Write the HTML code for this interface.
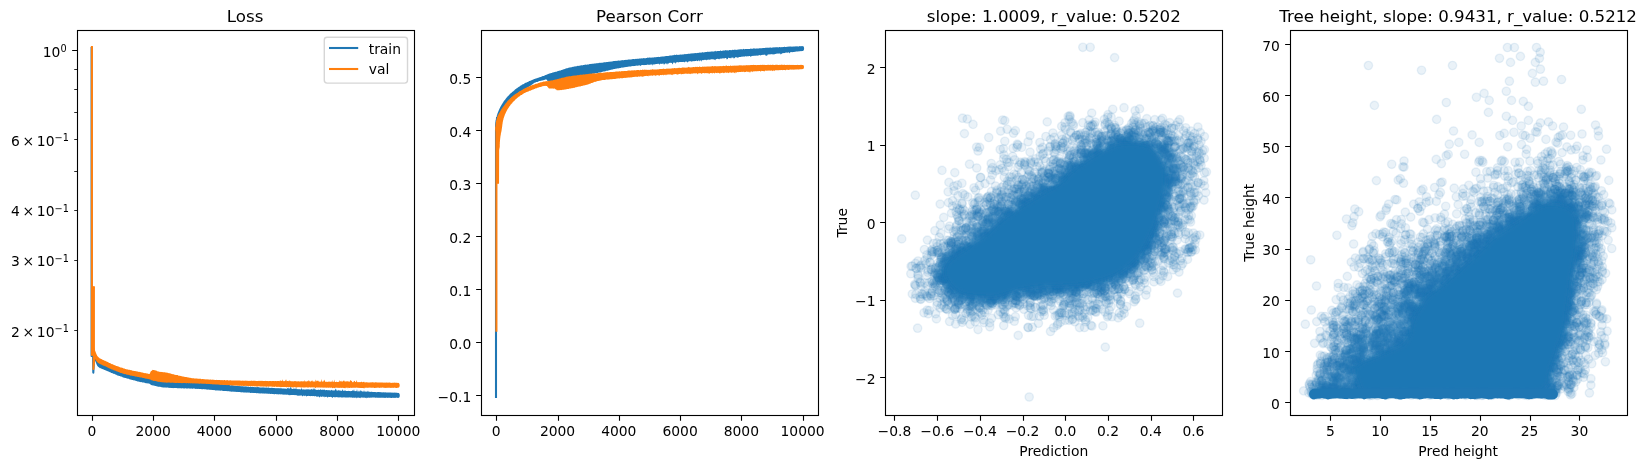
<!DOCTYPE html>
<html><head><meta charset="utf-8"><title>Training curves</title>
<style>html,body{margin:0;padding:0;background:#fff}svg{display:block;will-change:transform}text{font-family:"DejaVu Sans","Liberation Sans",sans-serif;fill:#000}</style>
</head><body>
<svg width="1647" height="468" viewBox="0 0 1647 468">
<rect width="1647" height="468" fill="#fff"/>
<defs>
<clipPath id="c0"><rect x="76.6" y="30.3" width="337" height="385"/></clipPath>
<clipPath id="c1"><rect x="480.9" y="30.3" width="337" height="385"/></clipPath>
<clipPath id="c2"><rect x="885.3" y="30.3" width="337" height="385"/></clipPath>
<clipPath id="c3"><rect x="1289.6" y="30.3" width="337" height="385"/></clipPath>
</defs>
<g clip-path="url(#c0)">
<path d="M94.2,349.8 94.3,350.2 94.5,350.8 94.7,351.5 94.8,352 95,352.3 95.2,353.1 95.4,353.3 95.6,353.8 95.8,354.4 96,354.9 96.2,355.4 96.4,355.8 96.7,356.2 96.9,356.6 97.1,356.9 97.4,357.1 97.7,357.6 97.9,357.9 98.2,358.1 98.5,358.7 98.8,359 99.1,359.1 99.4,359.6 99.8,359.9 100.1,360 100.5,360.3 100.8,360.4 101.2,360.8 101.6,361.1 102,361.3 102.4,361.7 102.8,362 103.2,362.2 103.6,362.3 104.1,362.7 104.5,362.8 105,363.2 105.4,363.1 105.9,363.6 106.3,363.8 106.8,363.8 107.3,364.1 107.8,364.2 108.3,364.5 108.7,364.7 109.2,365.1 109.7,365.2 110.2,365.4 110.7,365.4 111.3,365.8 111.8,365.9 112.3,366.3 112.8,366.4 113.3,366.6 113.8,366.8 114.3,366.8 114.8,367.1 115.4,367.1 115.9,367.4 116.4,367.5 116.9,367.7 117.4,367.8 117.9,368.2 118.4,368.3 119,368.5 119.5,368.6 120,368.9 120.5,368.7 121,369.1 121.4,369.1 121.9,369.4 122.4,369.4 122.9,369.6 123.4,369.9 123.8,369.8 124.3,369.9 124.8,370.1 125.3,370.3 125.7,370.6 126.2,370.8 126.7,370.6 127.2,370.9 127.6,371.2 128.1,371.1 128.6,371.3 129.1,371.5 129.6,371.6 130,371.8 130.5,372 131,372.2 131.5,372 132,372.3 132.5,372.4 133,372.6 133.4,372.5 133.9,372.9 134.4,372.9 134.9,373.1 135.4,373.2 135.9,373 136.4,373.3 136.9,373.4 137.4,373.5 137.9,373.5 138.3,373.8 138.8,373.8 139.3,373.9 139.8,374.1 140.3,374.2 140.8,374.2 141.3,374.2 141.8,374.6 142.3,374.4 142.8,374.8 143.3,374.7 143.8,374.7 144.3,375.1 144.7,375 145.2,375 145.7,375.4 146.2,375.2 146.7,375.3 147.2,375.4 147.7,375.4 148.2,375.7 148.7,375.8 149.2,375.8 149.7,376 150.2,376 150.7,375.8 151.1,376 151.6,376.2 152.1,376.3 152.6,376.1 153.1,376.4 153.6,376.2 154.1,376.5 154.6,376.5 155.1,376.5 155.6,376.6 156.1,376.7 156.6,376.8 157.1,376.7 157.6,377 158.1,376.9 158.6,377.2 159.1,377.1 159.6,377.2 160.1,377.1 160.6,377.4 161.1,377.3 161.6,377.4 162.1,377.4 162.6,377.5 163.1,377.4 163.6,377.7 164.1,377.8 164.6,377.9 165,378 165.5,378 166,377.8 166.5,377.9 167,378.2 167.5,378.1 168,378.2 168.5,378.2 169,378.2 169.5,378.4 170,378.2 170.5,378.4 171,378.4 171.5,378.5 172,378.7 172.5,378.8 173,378.7 173.5,378.6 174,378.7 174.5,378.7 175,379 175.5,378.8 176,378.9 176.5,378.9 177,379.1 177.5,379 178,379.3 178.5,379.4 179,379.4 179.5,379.4 180,379.4 180.5,379.5 181,379.4 181.5,379.6 182,379.5 182.5,379.7 183,379.6 183.5,379.8 184,379.8 184.5,379.6 184.9,379.8 185.4,379.7 185.9,379.8 186.4,379.9 186.9,380.1 187.4,380 187.9,380.2 188.4,380 188.9,380 189.4,380.1 189.9,380.4 190.4,380.4 190.9,380.4 191.4,380.6 191.9,380.4 192.4,380.4 192.9,380.6 193.4,380.5 193.9,380.6 194.4,380.9 194.9,380.7 195.4,380.7 195.9,381 196.4,380.9 196.9,381 197.4,381 197.9,381.3 198.4,381.1 198.9,381.2 199.4,381.2 199.9,381.2 200.4,381.5 200.9,381.4 201.4,381.4 201.9,381.4 202.4,381.8 202.8,381.9 203.3,381.7 203.8,381.9 204.3,381.9 204.8,381.8 205.3,382.1 205.8,382.2 206.3,382.2 206.8,382.2 207.3,382.4 207.8,382.4 208.3,382.5 208.8,382.4 209.3,382.4 209.8,382.7 210.3,382.7 210.8,382.7 211.3,382.9 211.8,383 212.3,383 212.8,383 213.3,383.2 213.8,383 214.3,383.2 214.8,383.3 215.3,383.5 215.7,383.3 216.2,383.6 216.7,383.7 217.2,383.7 217.7,383.8 218.2,383.6 218.7,383.9 219.2,383.9 219.7,383.8 220.2,384 220.7,384.2 221.2,384.1 221.7,384.1 222.2,384.3 222.7,384.2 223.2,384.5 223.7,384.4 224.2,384.4 224.7,384.4 225.2,384.6 225.7,384.7 226.2,384.9 226.7,384.8 227.2,384.8 227.7,385 228.2,385.1 228.6,385 229.1,385 229.6,385 230.1,385.3 230.6,385.4 231.1,385.2 231.6,385.3 232.1,385.3 232.6,385.3 233.1,385.4 233.6,385.4 234.1,385.5 234.6,385.7 235.1,385.7 235.6,385.9 236.1,385.7 236.6,385.8 237.1,385.8 237.6,386 238.1,386 238.6,386 239.1,386.2 239.6,386 240.1,386.1 240.6,386.2 241.1,386.2 241.6,386.2 242.1,386.3 242.6,386.2 243.1,386.2 243.6,386.4 244.1,386.5 244.6,386.4 245.1,386.3 245.6,386.6 246.1,386.5 246.6,386.5 247.1,386.5 247.6,386.8 248.1,386.8 248.6,386.5 249.1,386.9 249.6,386.9 250.1,386.8 250.6,386.8 251.1,386.8 251.6,387 252.1,386.8 252.6,387 253.1,386.9 253.6,387.1 254.1,387 254.6,387.2 255.1,387.1 255.6,387.2 256.1,387 256.6,387.2 257,387.3 257.5,387 258,387.1 258.5,387.1 259,387.4 259.5,387.3 260,387.4 260.5,387.5 261,387.5 261.5,387.4 262,387.6 262.5,387.6 263,387.3 263.5,387.5 264,387.6 264.5,387.5 265,387.7 265.5,387.6 266,387.7 266.5,387.6 267,387.6 267.5,387.7 268,387.8 268.5,387.6 269,387.6 269.5,387.9 270,388 270.5,388 271,387.7 271.5,387.8 272,388 272.5,387.8 273,388.1 273.5,388 274,388 274.5,387.9 275,388.3 275.5,388.2 276,388.1 276.5,388.3 277,388.3 277.5,388.2 278,388.1 278.5,388.2 279,388.2 279.5,388.2 280,388.3 280.5,388.3 281,388.3 281.5,388.3 282,388.5 282.5,388.6 283,388.4 283.5,388.6 284,388.4 284.5,388.5 285,388.7 285.5,388.5 286,388.8 286.5,388.7 287,388.8 287.5,388 288,387.8 288.5,388.7 289,387.5 289.5,388.7 290,388.8 290.5,386.8 291,387.3 291.5,388.5 292,388.9 292.5,388.9 293,388.8 293.5,389 294,387.6 294.5,389.1 295,389 295.5,389 296,387.1 296.5,389 297,389.3 297.5,389 298,389.2 298.5,389.2 299,389.1 299.5,389.2 300,389.2 300.5,389.4 301,389.3 301.5,387.8 302,389.2 302.5,389.5 303,389.4 303.5,389.3 304,389.4 304.5,389.4 305,389.4 305.5,389.5 306,389.6 306.5,389.3 307,389.6 307.5,389.5 308,388.8 308.5,389.5 309,389.6 309.5,389.5 310,389.6 310.5,389.6 311,389.5 311.5,388.8 312,389.6 312.5,389.7 313,388.6 313.5,389.8 314,387.5 314.5,389.8 315,388.5 315.5,389.7 316,389.8 316.5,389.9 317,389.7 317.5,389.9 318,389.8 318.5,389.8 319,389.4 319.5,389.9 320,390.1 320.5,388.7 321,389.9 321.5,390 322,389.3 322.5,390 323,389.4 323.5,390.1 324,389.6 324.5,389.5 325,390.2 325.5,390.2 326,389.9 326.5,390 327,390 327.5,390.3 328,390.3 328.5,390.2 329,390 329.5,390.2 330,390.4 330.5,390.4 331,390.2 331.5,389.7 332,390.3 332.5,390.6 333,390.3 333.5,390.5 334,390.5 334.5,390.2 335,390.5 335.5,388.7 336,388.7 336.5,390.6 337,390.5 337.5,390.6 338,390.7 338.5,390.2 339,389.7 339.5,390.7 340,390.6 340.5,390.6 341,390.9 341.5,390.7 342,390.7 342.5,388.9 343,390.5 343.5,390.8 344,390.9 344.5,390.8 345,390 345.5,390.8 346,391 346.5,390.9 347,390.9 347.5,390.9 348,391.1 348.5,390.8 349,391.1 349.5,391.1 350,391.1 350.5,391.2 351,391.1 351.5,391 352,391.1 352.5,390.6 353,390.1 353.5,391.3 354,389 354.5,391.2 355,391.1 355.5,391.2 356,391.1 356.5,391.2 357,389.1 357.5,391.4 358,391.4 358.5,391.4 359,390.2 359.5,391.5 360,391.5 360.5,389.8 361,391.6 361.5,390.5 362,391.6 362.5,391.6 363,391.4 363.5,391.7 364,389.9 364.5,391.7 365,391.6 365.5,391.8 366,391.3 366.5,391.8 367,391.8 367.5,391.6 368,390.5 368.5,391.7 369,391.8 369.5,391.8 370,391.7 370.5,392 371,391.7 371.5,391.7 372,391.8 372.5,392.1 373,391.9 373.5,391.9 374,391.9 374.5,392.1 375,391.9 375.5,391.9 376,392.2 376.5,392.2 377,392.3 377.5,392 377.9,392 378.4,392 378.9,392.1 379.4,392.1 379.9,392.2 380.4,392.2 380.9,392.1 381.4,392.2 381.9,392.4 382.4,392.3 382.9,392.5 383.4,392.3 383.9,392.3 384.4,392.4 384.9,392.3 385.4,392.3 385.9,392.5 386.4,392.6 386.9,392.6 387.4,392.6 387.9,392.6 388.4,392.5 388.9,392.4 389.4,392.6 389.9,392.4 390.4,392.5 390.9,392.5 391.4,392.6 391.9,392.8 392.4,392.5 392.9,392.8 393.4,392.8 393.9,392.6 394.4,392.6 394.9,392.8 395.4,392.8 395.9,392.6 396.4,392.8 396.9,392.7 397.4,392.9 397.9,392.7 398.4,393 398.9,393.1 399.4,393.7 399.7,394.5 399.8,395.4 399.7,396.4 399.4,397.2 398.9,397.7 398.4,397.9 398.3,397.7 397.8,397.9 397.3,397.8 396.8,397.7 396.3,397.6 395.8,397.9 395.3,397.8 394.8,397.7 394.3,397.9 393.8,397.8 393.3,397.9 392.8,397.6 392.3,397.9 391.8,397.9 391.3,397.9 390.8,397.9 390.3,397.8 389.8,397.8 389.3,397.7 388.8,397.8 388.3,397.8 387.8,397.9 387.3,397.8 386.8,397.8 386.3,397.6 385.8,397.9 385.3,397.8 384.8,397.9 384.3,397.8 383.8,397.7 383.3,397.7 382.8,397.9 382.3,397.6 381.8,397.8 381.3,397.7 380.8,397.6 380.3,397.9 379.8,397.7 379.3,397.7 378.8,397.8 378.3,397.7 377.8,397.8 377.3,397.7 376.8,397.6 376.3,397.7 375.8,397.7 375.3,397.8 374.8,397.6 374.3,397.6 373.8,397.6 373.3,397.5 372.8,397.6 372.3,397.6 371.8,397.6 371.3,397.8 370.8,397.8 370.3,397.6 369.8,397.8 369.3,397.7 368.8,397.8 368.3,397.5 367.8,397.7 367.3,397.8 366.8,398.6 366.3,397.6 365.8,397.7 365.3,398.1 364.8,397.6 364.3,397.8 363.8,397.5 363.3,397.8 362.8,397.8 362.3,397.5 361.8,397.6 361.3,397.6 360.8,397.6 360.3,398.2 359.8,398.1 359.3,397.7 358.8,397.5 358.3,397.7 357.8,397.6 357.3,397.7 356.8,398.5 356.3,397.5 355.8,397.7 355.3,397.5 354.8,397.8 354.3,397.8 353.8,397.7 353.3,397.6 352.8,397.9 352.3,397.4 351.8,397.7 351.3,397.3 350.8,397.6 350.3,397.6 349.8,397.5 349.3,397.3 348.8,397.4 348.3,397.5 347.8,397.4 347.3,397.6 346.8,397.5 346.3,397.6 345.8,397.5 345.3,397.5 344.8,397.5 344.3,397.3 343.8,397.5 343.3,397.3 342.8,397.5 342.3,397.4 341.8,397.5 341.3,397.5 340.8,397.3 340.3,397.2 339.8,397.5 339.3,397.3 338.8,397.2 338.3,397.4 337.8,397.4 337.3,397.1 336.8,397.3 336.3,397.1 335.8,397.1 335.3,397.6 334.8,397.2 334.3,397.3 333.8,397.1 333.3,397 332.8,397.5 332.3,398 331.8,397.3 331.3,397.1 330.8,396.9 330.3,396.8 329.8,397.1 329.3,396.9 328.8,396.8 328.3,397.1 327.8,397.4 327.3,397.4 326.8,396.7 326.3,396.7 325.8,396.9 325.3,396.7 324.8,397.4 324.3,396.6 323.8,396.7 323.3,396.8 322.8,396.5 322.3,396.5 321.8,397 321.3,396.7 320.8,396.5 320.3,396.5 319.8,397.3 319.3,397.4 318.8,396.4 318.3,396.5 317.8,396.5 317.3,396.7 316.8,396.7 316.3,396.4 315.8,396.1 315.3,396.2 314.9,396 314.4,396.4 313.9,396.1 313.4,396 312.9,396.3 312.4,395.9 311.9,396 311.4,395.9 310.9,395.9 310.4,396.2 309.9,396.1 309.4,396.1 308.9,396 308.4,395.8 307.9,396.1 307.4,396 306.9,396 306.4,396.7 305.9,395.7 305.4,395.8 304.9,395.6 304.4,396.2 303.9,395.7 303.4,395.5 302.9,396 302.4,396.4 301.9,395.4 301.4,395.4 300.9,395.4 300.4,395.5 299.9,395.7 299.4,395.5 298.9,395.8 298.4,395.7 297.9,395.2 297.4,395.9 296.9,395.3 296.4,395.2 295.9,395.3 295.4,395.1 294.9,395.2 294.4,395 293.9,395 293.4,395 292.9,394.9 292.4,395 291.9,395 291.4,394.9 290.9,394.9 290.4,394.9 289.9,395.6 289.4,395 288.9,394.8 288.4,395.3 287.9,394.6 287.4,394.7 286.9,394.8 286.4,394.8 285.9,394.6 285.4,394.8 284.9,394.5 284.4,394.7 283.9,394.5 283.4,394.7 282.9,394.4 282.4,394.6 281.9,394.4 281.4,394.3 280.9,394.3 280.4,394.6 279.9,394.3 279.4,394.3 278.9,394.2 278.4,394.4 277.9,394.3 277.4,394.2 276.9,394.3 276.4,394.2 275.9,394.1 275.4,394 274.9,394.2 274.4,394.2 273.9,394.2 273.4,394.1 272.9,393.9 272.4,394 271.9,393.9 271.4,393.8 270.9,394.1 270.4,394 269.9,393.7 269.4,393.8 268.9,393.8 268.4,393.7 267.9,393.9 267.4,393.6 266.9,393.6 266.4,393.7 265.9,393.5 265.4,393.6 264.9,393.7 264.4,393.5 263.9,393.5 263.4,393.4 262.9,393.5 262.4,393.5 261.9,393.4 261.4,393.3 260.9,393.4 260.4,393.5 259.9,393.2 259.4,393.4 258.9,393.4 258.4,393.3 257.9,393.1 257.4,393.3 256.9,393.2 256.4,393.2 255.9,393.1 255.4,393.1 254.9,393 254.4,393 253.9,392.9 253.4,392.9 252.9,392.8 252.4,393 251.9,392.9 251.4,392.7 250.9,392.9 250.4,392.9 249.9,392.8 249.4,392.6 248.9,392.7 248.4,392.6 247.9,392.6 247.4,392.5 246.9,392.7 246.4,392.5 245.9,392.6 245.4,392.6 244.9,392.6 244.4,392.6 243.9,392.5 243.4,392.5 242.9,392.3 242.4,392.3 241.9,392.4 241.4,392.2 241,392.2 240.5,392.2 240,392.1 239.5,392.1 239,392.1 238.5,392 238,392 237.5,392 237,391.8 236.5,391.9 236,391.9 235.5,391.8 235,391.7 234.5,391.8 234,391.8 233.5,391.8 233,391.6 232.5,391.7 232,391.6 231.5,391.7 231,391.7 230.5,391.4 230,391.3 229.5,391.5 229,391.3 228.5,391.3 228,391.1 227.5,391.2 227,391.3 226.5,391 226,391.1 225.5,391 225,391.1 224.5,391.1 224,391.1 223.5,391.1 223,391 222.5,390.8 222,390.7 221.5,390.6 221,390.6 220.5,390.8 220,390.7 219.5,390.5 219,390.5 218.5,390.4 218,390.4 217.5,390.5 217,390.3 216.5,390.4 216,390.4 215.5,390.4 215,390.2 214.5,390.1 214,390.2 213.5,389.9 213,390 212.5,390.1 212,390.1 211.5,389.8 211,389.9 210.5,389.7 210,389.8 209.5,389.7 209,389.8 208.5,389.5 208.1,389.4 207.6,389.7 207.1,389.5 206.6,389.4 206.1,389.4 205.6,389.3 205.1,389.3 204.6,389.2 204.1,389.2 203.6,389.1 203.1,389.3 202.6,389.3 202.1,389.2 201.6,389.3 201.1,389 200.6,389.1 200.1,389.1 199.6,389.1 199.1,389 198.6,388.8 198.1,389 197.6,389 197.1,388.8 196.6,388.7 196.1,389 195.6,388.8 195.1,388.9 194.6,388.6 194.1,388.5 193.6,388.6 193.1,388.6 192.6,388.8 192.1,388.7 191.6,388.6 191.1,388.5 190.6,388.6 190.1,388.7 189.6,388.6 189.1,388.4 188.6,388.3 188.1,388.5 187.6,388.6 187.1,388.5 186.6,388.4 186.1,388.4 185.6,388.3 185.1,388.3 184.6,388.5 184.1,388.4 183.6,388.4 183.1,388.3 182.6,388.2 182.1,388.2 181.6,388.4 181.1,388.2 180.6,388.2 180.1,388.2 179.6,388.2 179.1,388.2 178.6,388.3 178.1,388.3 177.6,388.3 177.1,388.3 176.6,388.1 176.1,388 175.6,388 175.1,388 174.6,388.1 174.1,387.9 173.6,388.1 173.1,388.2 172.6,388.1 172.1,388 171.6,388 171.1,387.9 170.6,388 170.1,387.8 169.6,387.9 169.1,387.7 168.6,387.8 168.1,387.8 167.6,387.6 167.1,387.6 166.6,387.6 166.1,387.8 165.6,387.5 165.1,387.5 164.6,387.6 164.1,387.4 163.6,387.5 163.1,387.6 162.6,387.3 162.1,387.4 161.6,387.2 161.1,387.1 160.6,386.9 160.2,386.8 159.7,386.8 159.2,386.8 158.7,386.7 158.2,386.7 157.7,386.7 157.2,386.3 156.7,386.4 156.2,386.1 155.7,386 155.2,386.1 154.7,385.8 154.3,385.7 153.8,385.5 153.3,385.5 152.8,385.4 152.3,385.3 151.8,385.3 151.4,385 150.9,384.9 150.5,384.6 150.1,384 149.7,384 149.2,383.6 148.8,383.4 148.3,383.4 147.8,383.3 147.3,383.5 146.8,383.3 146.3,383.2 145.8,383.2 145.3,382.9 144.8,382.8 144.3,382.8 143.8,382.5 143.4,382.5 142.9,382.4 142.4,382.4 141.9,382.3 141.4,382.1 140.9,382.2 140.4,382 139.9,381.9 139.4,381.8 138.9,381.7 138.5,381.4 138,381.4 137.5,381.4 137,381.3 136.5,381.1 136,381 135.5,380.7 135,380.6 134.6,380.4 134.1,380.3 133.6,380.4 133.1,380.1 132.6,379.9 132.1,379.9 131.7,379.8 131.2,379.7 130.7,379.4 130.2,379.5 129.7,379.2 129.2,379.2 128.8,378.8 128.3,378.8 127.8,378.6 127.3,378.7 126.8,378.4 126.4,378.2 125.9,378 125.4,378 124.9,377.9 124.5,377.8 124,377.7 123.5,377.4 123,377.4 122.6,377.2 122.1,376.8 121.6,376.6 121.1,376.7 120.7,376.6 120.2,376.2 119.7,376.1 119.3,376 118.8,375.7 118.3,375.7 117.8,375.4 117.4,375.4 116.9,375.2 116.4,374.8 116,374.7 115.5,374.4 115,374.3 114.6,374.1 114.1,373.8 113.6,373.9 113.2,373.5 112.7,373.4 112.3,373.1 111.8,373 111.3,373 110.9,372.7 110.4,372.3 109.9,372.2 109.5,371.9 109,371.8 108.6,371.5 108.1,371.5 107.7,371.2 107.2,371.1 106.7,370.8 106.3,370.7 105.8,370.4 105.4,370.3 104.9,370.1 104.4,369.9 103.9,369.6 103.4,369.4 102.9,369.2 102.4,369 101.9,368.9 101.4,368.6 100.9,368.5 100.5,368.1 100,368.2 99.6,367.9 99.2,367.6 98.8,367.3 98.4,366.9 98.1,366.7 97.8,366.5 97.5,366.1 97.2,365.8 97,365.2 96.8,364.8 96.6,364.4 96.4,363.9 96.2,363.5 96,362.8 95.8,362.5 95.6,361.9 95.4,361.5 95.2,361.1 95,360.6 94.9,359.9 94.7,359.5 94.5,359.2 94.4,358.7 94.2,358.1Z" fill="#1f77b4"/>
<path d="M91.6,48 91.6,356 92.9,340 93.3,372.6 94.3,354" fill="none" stroke="#1f77b4" stroke-width="2.08" stroke-linejoin="round" stroke-linecap="square"/>
<path d="M94,346.9 94.1,347.2 94.2,347.8 94.4,348.1 94.5,348.9 94.7,349.4 94.8,349.6 95,350.2 95.1,350.7 95.3,351 95.5,351.7 95.6,351.9 95.8,352.6 96,353.1 96.2,353.5 96.4,353.9 96.6,354.4 96.8,354.7 97.1,355.5 97.3,355.9 97.6,356.3 97.8,356.5 98.1,356.8 98.5,357.2 98.8,357.5 99.2,357.7 99.6,358.2 100,358.4 100.5,358.4 100.9,358.9 101.4,358.9 101.8,359.3 102.3,359.6 102.8,359.9 103.3,360.1 103.8,360.3 104.2,360.4 104.7,360.7 105.2,360.8 105.6,361.1 106.1,361.5 106.5,361.6 107,361.6 107.4,362.1 107.9,362.1 108.3,362.4 108.8,362.5 109.2,362.9 109.7,363.1 110.1,363.2 110.6,363.3 111,363.7 111.5,364 112,364.2 112.4,364.1 112.9,364.5 113.3,364.8 113.8,364.8 114.3,364.9 114.7,365.2 115.2,365.5 115.7,365.6 116.1,365.9 116.6,366.1 117.1,366 117.5,366.3 118,366.6 118.5,366.5 119,366.7 119.4,366.9 119.9,367.3 120.4,367.4 120.9,367.5 121.3,367.6 121.8,367.7 122.3,367.8 122.7,368 123.2,368.3 123.7,368.4 124.2,368.6 124.6,368.6 125.1,368.9 125.6,369 126.1,369.2 126.6,369.2 127,369.4 127.5,369.3 128,369.7 128.5,369.8 129,369.7 129.5,369.8 130,369.9 130.4,370 130.9,370.2 131.4,370.3 131.9,370.3 132.4,370.7 132.9,370.7 133.4,370.7 133.9,371 134.4,370.9 134.8,371.1 135.3,371.2 135.8,371.1 136.3,371.3 136.8,371.5 137.3,371.6 137.8,371.5 138.3,371.7 138.8,371.9 139.3,371.8 139.8,372 140.3,372 140.8,372.2 141.2,372.2 141.7,372.4 142.2,372.5 142.7,372.5 143.2,372.9 143.7,372.8 144.2,372.9 144.7,373.2 145.2,373 145.7,373.2 146.2,373.2 146.6,373.5 147.2,373.6 147.7,373.6 148.2,373.9 148.7,373.8 149.1,374 149.5,374 149.7,373.7 150,373.3 150.2,372.6 150.4,372.2 150.7,371.5 151.1,371.1 151.5,371 151.9,370.6 152.3,370.3 152.7,369.8 153.1,370.1 153.6,369.9 154,370.1 154.5,370.2 155,370.3 155.4,370.3 155.9,370.7 156.4,370.6 156.9,370.9 157.4,371.2 157.9,371.4 158.4,371.4 158.9,371.5 159.4,371.8 159.9,371.9 160.4,371.9 160.9,371.8 161.4,372 161.9,372 162.4,372.1 162.9,372.2 163.4,372.2 163.9,372.2 164.4,372.3 164.9,372.3 165.4,372.6 165.9,372.6 166.4,372.5 166.8,372.8 167.3,372.7 167.8,372.8 168.3,373 168.8,373.3 169.3,373.2 169.8,373.3 170.3,373.6 170.7,373.5 171.2,373.7 171.7,374 172.2,374.1 172.7,374.2 173.2,374.2 173.7,374.2 174.1,374.6 174.6,374.7 175.1,374.7 175.6,374.9 176.1,375 176.6,374.9 177.1,375 177.6,375.1 178,375.3 178.5,375.7 179,375.7 179.5,375.7 180,375.7 180.5,376.1 181,376 181.5,376.2 182,376.3 182.4,376.4 182.9,376.5 183.4,376.6 183.9,376.8 184.4,376.7 184.9,376.9 185.4,376.9 185.9,377 186.4,377 186.9,377.3 187.4,377.2 187.9,377.5 188.3,377.5 188.8,377.5 189.3,377.7 189.8,377.8 190.3,377.8 190.8,378.1 191.3,378 191.8,378.3 192.3,378.3 192.8,378.2 193.3,378.2 193.8,378.2 194.3,378.5 194.8,378.6 195.3,378.5 195.8,378.6 196.3,378.6 196.7,378.5 197.2,378.6 197.7,378.7 198.2,378.7 198.7,378.8 199.2,378.8 199.7,378.7 200.2,378.8 200.7,378.8 201.2,378.9 201.7,379.2 202.2,379.1 202.7,379 203.2,379.2 203.7,379.1 204.2,379.3 204.7,379.3 205.2,379.3 205.7,379.4 206.2,379.3 206.7,379.4 207.2,379.2 207.7,379.5 208.2,379.5 208.7,379.4 209.2,379.5 209.7,379.7 210.2,379.6 210.7,379.5 211.2,379.7 211.7,379.7 212.2,379.6 212.7,379.7 213.2,379.8 213.7,379.7 214.2,379.7 214.7,379.9 215.2,379.9 215.7,379.9 216.2,379.7 216.7,380 217.2,380 217.7,380 218.2,379.9 218.7,379.9 219.2,380.1 219.7,379.9 220.2,380 220.7,380.2 221.2,379.9 221.7,380.2 222.2,380 222.7,380.3 223.2,380.2 223.7,380.2 224.2,380.1 224.7,380.1 225.2,380.2 225.7,380.4 226.2,380.3 226.7,380.3 227.2,380.1 227.7,380.2 228.2,380.4 228.7,380.4 229.2,380.3 229.7,380.5 230.2,380.3 230.7,380.3 231.2,380.4 231.7,380.4 232.2,380.5 232.7,380.6 233.2,380.5 233.7,380.6 234.2,380.6 234.7,380.5 235.2,380.4 235.7,380.6 236.2,380.5 236.7,380.4 237.2,380.5 237.7,380.4 238.2,380.5 238.7,380.6 239.2,380.6 239.7,380.6 240.2,380.6 240.7,380.7 241.2,380.7 241.7,380.8 242.2,380.7 242.7,380.6 243.2,380.7 243.7,380.8 244.2,380.6 244.7,380.9 245.2,380.6 245.7,380.7 246.2,380.7 246.7,380.8 247.2,380.6 247.7,380.9 248.2,380.9 248.7,380.8 249.2,380.9 249.7,380.8 250.2,380.8 250.7,381 251.2,380.6 251.7,380.8 252.2,381 252.7,380.7 253.2,380.8 253.7,380.8 254.2,380.8 254.7,380.7 255.2,381 255.7,380.7 256.2,380.9 256.7,381 257.2,380.9 257.7,380.9 258.2,380.8 258.7,380.9 259.2,381.1 259.7,380.8 260.2,380.9 260.7,380.8 261.2,381.1 261.7,380.8 262.2,380.8 262.7,381.1 263.2,381 263.7,381.1 264.2,380.9 264.7,381.1 265.2,380.8 265.7,381.1 266.2,380.9 266.7,380.9 267.2,381.1 267.7,381.1 268.2,380.9 268.7,381.2 269.2,381.1 269.7,381.1 270.2,381 270.7,381.1 271.2,381.2 271.7,381 272.2,381 272.7,381 273.2,381 273.7,381.1 274.2,381.2 274.7,381 275.2,381 275.7,381.1 276.2,380.9 276.7,381.2 277.2,381 277.7,381 278.2,381 278.7,381 279.2,381.2 279.7,381 280.2,380.1 280.7,381.1 281.2,380.8 281.7,381.1 282.2,381.1 282.7,379.2 283.2,381.1 283.7,381.2 284.2,381.2 284.7,381.1 285.2,381 285.7,379.7 286.2,379.6 286.7,381.3 287.2,380.9 287.7,381.1 288.2,381.3 288.7,381.1 289.2,380.1 289.7,381.3 290.2,380.7 290.7,381.3 291.2,381.3 291.7,381.3 292.2,381.2 292.7,381.3 293.2,381.4 293.7,381.3 294.2,381.1 294.7,381.3 295.2,381.3 295.7,380.9 296.2,381.4 296.7,381.3 297.2,381.2 297.7,381.4 298.2,381.2 298.7,381.3 299.2,381.5 299.7,381.4 300.2,381.3 300.7,381.4 301.2,381.3 301.7,381.2 302.2,381.3 302.7,381.4 303.2,381.3 303.7,381.4 304.2,380.1 304.7,381.5 305.2,381.4 305.7,381.2 306.2,381.4 306.7,381.5 307.2,381 307.7,381.4 308.2,379.7 308.7,381.4 309.2,380.5 309.7,381.6 310.2,381.4 310.7,381.4 311.2,381.3 311.7,380.8 312.2,380.2 312.7,381.4 313.2,381.6 313.7,381.5 314.2,381.5 314.7,381.6 315.2,381.7 315.7,379.6 316.2,380.4 316.7,381.6 317.2,380.6 317.7,381 318.2,380.6 318.7,381.6 319.2,381.4 319.7,381.7 320.2,381.5 320.7,381.7 321.2,381.5 321.7,379 322.2,381.5 322.7,381.7 323.2,381.8 323.7,380.5 324.2,380.7 324.7,379.6 325.2,381.9 325.7,381.8 326.2,381.5 326.7,381.9 327.2,381.8 327.7,381.9 328.2,381.6 328.7,381.8 329.2,381.7 329.7,381.6 330.2,381.8 330.7,381.7 331.2,381.8 331.7,381.8 332.2,380 332.7,382 333.2,381.8 333.7,381.9 334.2,379.5 334.7,381.7 335.2,381.9 335.7,382 336.2,381.8 336.7,381.8 337.2,382 337.7,381.9 338.2,381.8 338.7,382 339.2,381.7 339.7,380 340.2,381.8 340.7,380.8 341.2,382.1 341.7,380.7 342.2,381.1 342.7,381.9 343.2,381 343.7,380.5 344.2,380.4 344.7,381.5 345.2,381.8 345.7,381.3 346.2,381.6 346.7,381.2 347.2,381.5 347.7,380.9 348.2,382 348.7,381 349.2,381.9 349.7,381.4 350.2,380.5 350.7,379.9 351.2,380.9 351.7,380.8 352.2,382 352.7,382.2 353.2,382.2 353.7,381.6 354.2,381.1 354.7,380.8 355.2,382 355.7,381.9 356.2,381.7 356.7,380 357.2,381.9 357.7,382.2 358.2,382 358.7,382.3 359.2,382.2 359.7,382.1 360.2,382.3 360.7,382 361.2,382.1 361.7,381.4 362.2,382.3 362.7,382.3 363.2,381.8 363.7,382.1 364.2,381.8 364.7,382.4 365.2,382.4 365.7,382.2 366.2,382.3 366.7,382.3 367.2,382.3 367.7,382.5 368.2,382.4 368.7,382.5 369.2,382.4 369.7,382.5 370.2,382.2 370.7,382.4 371.2,382.5 371.7,382.3 372.2,382.2 372.7,382.3 373.2,382.3 373.7,382.5 374.2,382.5 374.7,382.5 375.2,382.3 375.7,382.3 376.2,382.5 376.7,382.3 377.2,382.4 377.7,382.4 378.2,382.6 378.7,382.6 379.2,382.6 379.7,382.4 380.2,382.4 380.7,382.4 381.2,382.4 381.7,382.4 382.2,382.6 382.7,382.5 383.2,382.7 383.7,382.5 384.2,382.7 384.7,382.4 385.2,382.5 385.7,382.7 386.2,382.5 386.7,382.5 387.2,382.8 387.7,382.6 388.2,382.7 388.7,382.6 389.2,382.5 389.7,382.6 390.2,382.8 390.7,382.7 391.2,382.7 391.7,382.9 392.2,382.8 392.7,382.8 393.2,382.8 393.7,382.8 394.2,382.7 394.7,382.6 395.2,382.8 395.7,382.7 396.2,382.7 396.7,382.7 397.2,382.7 397.7,383 398.2,382.7 398.4,382.9 398.9,383.1 399.3,383.7 399.6,384.4 399.7,385.4 399.6,386.3 399.3,387.1 398.9,387.6 398.4,387.8 398.4,387.6 397.9,387.7 397.4,387.8 396.9,387.9 396.4,387.9 395.9,387.9 395.4,387.8 394.9,387.7 394.4,387.6 393.9,387.9 393.4,387.7 392.9,387.7 392.4,387.8 391.9,387.9 391.4,387.8 390.9,387.8 390.4,387.9 389.9,387.7 389.4,387.7 388.9,387.7 388.4,387.7 387.9,387.8 387.4,387.8 386.9,387.9 386.4,387.7 385.9,387.8 385.4,387.9 384.9,387.9 384.4,387.7 383.9,387.7 383.4,387.7 382.9,387.6 382.4,387.6 381.9,387.7 381.4,387.8 380.9,387.6 380.4,387.7 379.9,387.9 379.4,387.7 378.9,387.9 378.4,387.6 377.9,387.6 377.4,387.8 376.9,387.7 376.4,387.7 375.9,387.9 375.4,387.7 374.9,387.9 374.4,387.9 373.9,387.9 373.4,387.6 372.9,387.7 372.4,387.7 371.9,387.6 371.4,387.9 370.9,387.6 370.4,387.8 369.9,387.7 369.4,387.6 368.9,387.7 368.4,387.8 367.9,387.6 367.4,387.9 366.9,387.8 366.4,387.7 365.9,387.6 365.4,387.9 364.9,387.6 364.4,388.4 363.9,387.9 363.4,388.3 362.9,387.9 362.4,387.9 361.9,387.9 361.4,388.1 360.9,387.9 360.4,387.9 359.9,387.8 359.4,387.9 358.9,387.9 358.4,387.8 357.9,387.7 357.4,387.8 356.9,387.7 356.4,387.6 355.9,387.7 355.4,387.8 354.9,387.7 354.4,387.7 353.9,387.7 353.4,387.7 352.9,387.7 352.4,387.7 351.9,387.9 351.4,387.7 350.9,387.9 350.4,387.6 349.9,387.9 349.4,387.9 348.9,387.7 348.4,387.8 347.9,388.5 347.4,387.6 346.9,387.7 346.4,387.7 345.9,387.6 345.4,388.2 344.9,388.3 344.4,387.9 343.9,387.9 343.4,388 342.9,387.6 342.4,387.9 341.9,387.7 341.4,387.9 340.9,387.8 340.4,387.8 339.9,387.9 339.4,387.8 338.9,388 338.4,387.8 337.9,387.8 337.4,387.7 336.9,388 336.4,387.6 335.9,387.6 335.4,387.8 334.9,388.3 334.4,387.9 333.9,388 333.4,387.7 332.9,387.9 332.4,388.2 331.9,387.8 331.4,387.5 330.9,387.8 330.4,387.7 329.9,387.8 329.4,387.5 328.9,387.7 328.4,387.7 327.9,387.8 327.4,387.5 326.9,387.7 326.4,387.8 325.9,387.6 325.4,387.7 324.9,387.5 324.4,387.7 323.9,387.6 323.4,387.8 322.9,387.7 322.4,387.6 321.9,387.6 321.4,387.5 320.9,387.7 320.4,387.5 319.9,387.5 319.4,387.4 318.9,387.5 318.4,387.6 317.9,387.4 317.4,387.6 316.9,387.6 316.4,387.3 315.9,388.1 315.4,388.1 314.9,387.5 314.4,387.6 313.9,387.3 313.4,387.6 312.9,387.5 312.4,387.3 311.9,387.5 311.4,387.3 310.9,387.5 310.4,387.5 309.9,387.3 309.4,387.3 308.9,387.5 308.4,387.5 307.9,387.4 307.4,387.4 306.9,387.4 306.4,387.3 305.9,387.2 305.4,387.5 304.9,387.4 304.4,387.6 303.9,387.6 303.4,387.4 302.9,387.4 302.4,387.3 301.9,387.4 301.4,387.4 300.9,387.9 300.4,387.1 299.9,387.2 299.4,387.3 298.9,387.3 298.4,387.3 297.9,387.1 297.4,387.3 296.9,388 296.4,387.2 295.9,387.2 295.4,387.2 294.9,387.2 294.4,387 293.9,387.2 293.4,387.5 292.9,387.2 292.4,387.5 291.9,387.1 291.4,387.4 290.9,387.1 290.4,387.1 289.9,387 289.4,386.9 288.9,387.2 288.4,387.2 287.9,387 287.4,387.1 286.9,387.1 286.4,387.5 285.9,386.9 285.4,387.1 284.9,387 284.4,387 283.9,387.1 283.4,387 282.9,386.9 282.4,387 281.9,387.1 281.4,386.9 280.9,387.4 280.4,387 279.9,386.8 279.4,387 278.9,387 278.4,386.8 277.9,386.7 277.4,387 276.9,386.7 276.4,387 275.9,386.8 275.4,386.6 274.9,386.8 274.4,386.9 273.9,386.7 273.4,386.7 272.9,386.7 272.4,386.8 271.9,386.8 271.4,386.6 270.9,386.5 270.4,386.5 269.9,386.6 269.4,386.6 268.9,386.8 268.4,386.7 267.9,386.6 267.4,386.5 266.9,386.7 266.4,386.7 265.9,386.7 265.4,386.4 264.9,386.5 264.4,386.6 263.9,386.7 263.4,386.5 262.9,386.4 262.4,386.4 261.9,386.4 261.4,386.6 260.9,386.6 260.4,386.5 259.9,386.5 259.4,386.3 258.9,386.3 258.4,386.3 257.9,386.4 257.4,386.5 256.9,386.5 256.4,386.5 255.9,386.3 255.4,386.3 254.9,386.4 254.4,386.2 253.9,386.1 253.4,386.3 252.9,386.3 252.4,386.2 251.9,386.1 251.4,386 250.9,386.2 250.4,386.3 249.9,386.2 249.4,385.9 248.9,385.9 248.4,386.2 247.9,385.9 247.4,386 246.9,385.8 246.4,386.1 245.9,386 245.4,385.8 244.9,385.8 244.4,385.9 243.9,386.1 243.4,386 242.9,385.8 242.4,385.8 241.9,385.9 241.4,385.8 240.9,385.9 240.4,385.6 239.9,385.9 239.4,385.7 238.9,385.8 238.4,385.8 237.9,385.8 237.4,385.8 236.9,385.6 236.4,385.6 235.9,385.6 235.4,385.7 234.9,385.5 234.4,385.4 233.9,385.5 233.4,385.5 232.9,385.5 232.4,385.4 231.9,385.5 231.4,385.3 230.9,385.3 230.4,385.2 229.9,385.2 229.4,385.2 228.9,385.2 228.4,385.1 227.9,385 227.4,385.3 226.9,385.1 226.4,385.2 225.9,385.1 225.4,384.9 224.9,384.9 224.4,385.1 223.9,384.8 223.4,385.1 222.9,385 222.4,384.7 221.9,385 221.4,384.7 220.9,384.9 220.4,384.7 219.9,384.7 219.4,384.7 218.9,384.7 218.4,384.4 217.9,384.5 217.4,384.6 216.9,384.6 216.4,384.5 215.9,384.5 215.4,384.4 214.9,384.3 214.4,384.5 213.9,384.3 213.4,384.4 212.9,384.3 212.4,384.4 211.9,384.1 211.4,384.3 210.9,384.1 210.4,384.2 209.9,384 209.4,384 208.9,384.1 208.4,383.9 207.9,383.8 207.4,384.1 206.9,383.9 206.4,384 205.9,383.7 205.4,383.7 204.9,383.7 204.4,383.8 203.9,383.7 203.4,383.8 202.9,383.8 202.4,383.8 201.9,383.6 201.4,383.8 200.9,383.6 200.4,383.6 199.9,383.7 199.4,383.7 198.9,383.7 198.4,383.4 197.9,383.6 197.4,383.4 196.9,383.5 196.4,383.5 195.9,383.4 195.4,383.5 194.9,383.3 194.4,383.4 193.9,383.3 193.4,383.4 192.9,383.2 192.4,383.4 191.9,383.4 191.4,383.1 190.9,383.4 190.4,383.2 189.9,383.2 189.4,383.1 188.9,383.4 188.4,383.3 187.9,383.1 187.4,383.1 186.9,383.2 186.4,383.2 185.9,383.2 185.4,383.1 184.9,383 184.4,383 183.9,383 183.4,383.1 182.9,383.1 182.4,383.2 181.9,382.9 181.4,383.2 180.9,383.1 180.4,382.9 179.9,383.1 179.4,382.9 178.9,383 178.4,382.9 177.9,383 177.4,382.8 176.9,382.9 176.4,383 175.9,383 175.4,383 174.9,382.9 174.4,382.8 173.9,383 173.4,382.8 172.9,382.6 172.4,382.7 171.9,382.7 171.4,382.8 170.9,382.8 170.4,382.8 169.9,382.7 169.4,382.5 168.9,382.6 168.4,382.5 167.9,382.7 167.4,382.5 166.9,382.7 166.4,382.7 165.9,382.5 165.4,382.4 165,382.5 164.5,382.4 164,382.5 163.5,382.3 163,382.5 162.5,382.2 162,382.2 161.5,382.3 161,382 160.5,382 160,382.2 159.5,381.8 159,381.8 158.5,381.9 158,381.6 157.5,381.8 157,381.5 156.5,381.3 156,381.2 155.6,381 155.1,381 154.6,380.9 154.1,380.8 153.6,380.9 153.1,380.7 152.6,380.4 152.1,380.3 151.7,380.2 151.2,380.3 150.7,379.8 150.3,379.6 149.8,379.5 149.4,379.3 148.9,379.2 148.4,379 147.9,379 147.4,378.8 146.9,378.9 146.4,378.6 145.9,378.7 145.4,378.4 145,378.4 144.5,378.2 144,378.1 143.5,377.9 143,378 142.5,378 142,377.6 141.5,377.6 141,377.4 140.5,377.6 140,377.2 139.5,377.4 139.1,377.1 138.6,377 138.1,376.9 137.6,376.9 137.1,376.8 136.6,376.6 136.1,376.7 135.6,376.7 135.1,376.3 134.6,376.3 134.1,376.3 133.6,376 133.1,375.9 132.6,375.9 132.2,375.8 131.7,375.8 131.2,375.6 130.7,375.7 130.2,375.4 129.7,375.2 129.2,375.1 128.7,375.1 128.2,374.8 127.8,374.8 127.3,374.8 126.8,374.7 126.3,374.4 125.8,374.3 125.4,374.1 124.9,374.3 124.4,374.1 123.9,374 123.4,373.8 123,373.6 122.5,373.5 122,373.3 121.5,373.1 121.1,373 120.6,373 120.1,372.8 119.7,372.5 119.2,372.3 118.7,372.1 118.3,372 117.8,371.7 117.3,371.5 116.9,371.4 116.4,371.2 115.9,371 115.5,370.8 115,370.6 114.5,370.5 114.1,370.4 113.6,370.2 113.1,369.8 112.7,369.7 112.2,369.6 111.8,369.4 111.3,369.2 110.8,369 110.4,368.7 109.9,368.4 109.5,368.4 109,368.2 108.6,368 108.1,367.7 107.6,367.6 107.2,367.2 106.7,367.1 106.3,366.7 105.8,366.5 105.4,366.3 104.9,366.3 104.5,365.9 104,365.7 103.5,365.7 103,365.5 102.6,365.3 102.1,365 101.6,364.7 101.2,364.6 100.7,364.3 100.2,364.3 99.8,364.1 99.4,363.5 99,363.5 98.6,363.2 98.2,363 97.8,362.5 97.4,362.4 97.1,361.9 96.8,361.4 96.5,361.2 96.2,360.8 95.9,360.2 95.6,359.8 95.4,359.4 95.1,358.9 94.9,358.5 94.7,358.2 94.5,357.7 94.3,357.2 94.2,356.6 94,356.3Z" fill="#ff7f0e"/>
<path d="M91.9,47.1 91.9,355 93,340 93.9,287 93.9,352 93.4,369 94.6,354" fill="none" stroke="#ff7f0e" stroke-width="2.08" stroke-linejoin="round" stroke-linecap="square"/>
</g>
<g clip-path="url(#c1)">
<path d="M495.2,126.8 495.2,126.3 495.2,125.8 495.3,125.4 495.3,124.8 495.3,124.3 495.4,123.7 495.4,123.2 495.5,123 495.5,122.3 495.6,122 495.7,121.3 495.7,120.7 495.8,120.3 495.9,120 496,119.4 496.1,119 496.2,118.3 496.3,117.8 496.4,117.3 496.5,117 496.7,116.4 496.8,116 496.9,115.3 497,114.8 497.2,114.7 497.3,114 497.5,113.5 497.6,113.2 497.8,112.8 498,112.3 498.2,111.6 498.4,111.4 498.6,110.8 498.8,110.2 499,110 499.2,109.3 499.4,109 499.6,108.5 499.8,108 500.1,107.6 500.3,107 500.5,106.6 500.8,106.3 501,106 501.2,105.4 501.5,104.8 501.8,104.4 502,104.2 502.3,103.7 502.5,103.2 502.8,102.8 503.1,102.5 503.4,102.1 503.6,101.5 503.9,101.1 504.2,100.7 504.5,100.3 504.8,99.9 505.1,99.7 505.4,99.2 505.7,98.8 506,98.4 506.3,98 506.7,97.6 507,97.3 507.3,97 507.7,96.3 508,95.9 508.4,95.7 508.7,95.5 509.1,95 509.4,94.5 509.8,94.3 510.1,93.9 510.5,93.5 510.8,93.1 511.2,92.9 511.6,92.7 511.9,92.2 512.3,91.8 512.7,91.7 513.1,91.4 513.5,91.1 513.8,90.8 514.2,90.4 514.6,89.9 515,89.6 515.4,89.3 515.8,89 516.2,88.8 516.6,88.3 517,88.3 517.4,87.9 517.8,87.6 518.2,87.2 518.6,86.9 519,86.7 519.5,86.4 519.9,86.2 520.3,85.8 520.7,85.5 521.1,85.4 521.6,85 522,84.8 522.4,84.6 522.9,84.3 523.3,84.2 523.7,83.9 524.2,83.7 524.6,83.3 525.1,83.1 525.5,82.8 526,82.8 526.4,82.6 526.9,82.4 527.3,82 527.8,81.9 528.2,81.8 528.7,81.6 529.2,81.1 529.6,81.1 530.1,80.7 530.6,80.8 531,80.6 531.5,80.2 531.9,80 532.4,80 532.9,79.6 533.3,79.5 533.8,79.2 534.2,79 534.7,79 535.2,78.6 535.6,78.7 536.1,78.4 536.6,78.3 537,78.2 537.5,77.9 538,77.7 538.5,77.7 538.9,77.4 539.4,77.3 539.9,77.2 540.4,76.9 540.8,76.9 541.3,76.7 541.8,76.5 542.3,76.3 542.7,76.1 543.2,75.9 543.7,75.9 544.2,75.8 544.6,75.6 545.1,75.2 545.5,75.1 546,74.9 546.5,74.7 546.9,74.6 547.4,74.3 547.9,74.2 548.3,74 548.8,73.7 549.3,73.6 549.7,73.4 550.2,73.2 550.7,73.3 551.2,73 551.7,73 552.1,72.8 552.6,72.5 553.1,72.4 553.6,72.2 554.1,72.2 554.5,72 555,71.9 555.5,71.8 556,71.8 556.5,71.8 557,71.4 557.4,71.2 557.9,71.1 558.4,71 558.9,70.8 559.4,70.7 559.8,70.6 560.3,70.4 560.8,70.4 561.3,70.1 561.7,69.9 562.2,69.8 562.7,69.7 563.2,69.6 563.6,69.3 564.1,69.3 564.6,68.9 565.1,69 565.5,68.6 566,68.6 566.5,68.2 567,68.3 567.4,68.2 567.9,67.9 568.4,67.8 568.9,67.8 569.4,67.6 569.9,67.5 570.3,67.5 570.8,67.3 571.3,67.2 571.8,67.2 572.3,67.1 572.8,66.7 573.3,66.9 573.8,66.5 574.2,66.5 574.7,66.5 575.2,66.3 575.7,66.5 576.2,66.2 576.7,66.2 577.2,66.1 577.7,65.8 578.2,66.1 578.7,65.7 579.2,65.9 579.7,65.6 580.2,65.6 580.7,65.5 581.2,65.3 581.7,65.2 582.2,65.4 582.6,65.2 583.1,65.1 583.6,65 584.1,65.1 584.6,64.8 585.1,64.7 585.6,64.6 586.1,64.8 586.6,64.7 587.1,64.4 587.6,64.4 588.1,64.5 588.6,64.5 589.1,64.3 589.6,64.1 590.1,64 590.6,64.1 591.1,63.8 591.6,63.9 592.1,63.8 592.5,63.8 593,63.7 593.5,63.7 594,63.5 594.5,63.5 595,63.5 595.5,63.4 596,63.2 596.5,63.2 597,63.3 597.5,63.2 598,63.1 598.5,63.2 599,62.8 599.5,62.8 600,63 600.5,62.8 601,62.8 601.5,62.8 602,62.7 602.5,62.7 603,62.4 603.5,62.5 604,62.3 604.5,62.2 605,62.2 605.5,62.3 606,62.3 606.5,62 606.9,62 607.4,61.9 607.9,62 608.4,62 608.9,61.6 609.4,61.7 609.9,61.8 610.4,61.5 610.9,61.7 611.4,61.4 611.9,61.4 612.4,61.3 612.9,61.4 613.4,61.1 613.9,61 614.4,61 614.9,61 615.4,61.1 615.9,60.8 616.4,60.9 616.9,60.8 617.4,60.7 617.9,60.8 618.4,60.5 618.9,60.6 619.4,60.7 619.9,60.5 620.4,60.6 620.9,60.4 621.4,60.2 621.8,60.3 622.3,60.3 622.8,60.1 623.3,60.3 623.8,60.2 624.3,59.9 624.8,60.1 625.3,59.9 625.8,59.8 626.3,59.8 626.8,59.9 627.3,59.8 627.8,59.7 628.3,59.5 628.8,59.5 629.3,59.5 629.8,59.4 630.3,59.5 630.8,59.4 631.3,59.5 631.8,59.3 632.3,59.1 632.8,59.3 633.3,59.1 633.8,59 634.3,59.2 634.8,58.9 635.3,59.1 635.8,58.8 636.3,59 636.8,58.8 637.3,58.7 637.8,58.7 638.3,58.7 638.8,58.8 639.3,58.6 639.8,58.6 640.3,58.7 640.8,58.3 641.3,58.3 641.8,58.4 642.3,58.5 642.8,58.3 643.3,58.3 643.8,58.1 644.3,58.1 644.8,58.4 645.2,58.3 645.7,58.2 646.2,57.9 646.7,58.1 647.2,58 647.7,57.3 648.2,58 648.7,57.6 649.2,57.6 649.7,57.6 650.2,57.7 650.7,57.6 651.2,57.7 651.7,57.5 652.2,57.6 652.7,57.6 653.2,57.5 653.7,57.5 654.2,57.2 654.7,57.3 655.2,57.3 655.7,57.3 656.2,57.2 656.7,57.1 657.2,57.1 657.7,56.9 658.2,57 658.7,56.7 659.2,56.9 659.7,56.9 660.2,56.9 660.7,56.5 661.2,56.8 661.7,56.6 662.2,56.4 662.7,56.6 663.2,56.5 663.7,56.4 664.2,56.2 664.7,56.4 665.2,56 665.7,56.2 666.1,56.1 666.6,56 667.1,56 667.6,55.9 668.1,55.9 668.6,55.9 669.1,55.6 669.6,55.8 670.1,55.6 670.6,55.6 671.1,55.4 671.6,55.4 672.1,55.6 672.6,55.3 673.1,55 673.6,55.3 674.1,55.2 674.6,54.6 675.1,55 675.6,55 676.1,54.8 676.6,54.6 677.1,55.1 677.6,54.8 678.1,55 678.6,54.7 679.1,54.7 679.6,54.7 680.1,54.6 680.6,54.6 681.1,54.7 681.6,54.4 682.1,54.4 682.6,54.4 683.1,54.2 683.6,54.4 684.1,54.4 684.6,53.8 685,54.3 685.5,54 686,54.2 686.5,53.9 687,54 687.5,53.9 688,53.8 688.5,53.8 689,53.8 689.5,53.7 690,53.8 690.5,53.5 691,53.5 691.5,53.6 692,53.3 692.5,53.5 693,53.3 693.5,53.3 694,53.4 694.5,53.1 695,53.3 695.5,53 696,53 696.5,53.2 697,53 697.5,52.9 698,52.7 698.5,52.9 699,52.8 699.5,52.6 700,52.8 700.5,52.5 701,52.7 701.5,52.6 702,52.4 702.5,52.1 703,52.5 703.5,52.5 704,52.3 704.5,52.3 705,52.3 705.5,51.9 706,52 706.5,52 707,52.1 707.4,52 707.9,51.3 708.4,52 708.9,51.7 709.4,51.7 709.9,51.7 710.4,51.8 710.9,51.6 711.4,51.6 711.9,51.6 712.4,51.4 712.9,51.5 713.4,51.7 713.9,51.3 714.4,51.4 714.9,51.1 715.4,50.7 715.9,51.4 716.4,51.3 716.9,51.3 717.4,51.1 717.9,51 718.4,51 718.9,50.9 719.4,51 719.9,51.1 720.4,50.6 720.9,50.4 721.4,50.9 721.9,50.9 722.4,50.8 722.9,50.6 723.4,50.6 723.9,50.5 724.4,50.4 724.9,50.6 725.4,50.3 725.9,50 726.4,50.4 726.9,50.2 727.4,50.3 727.9,50.5 728.4,50.4 728.9,50.3 729.4,50.1 729.9,50.1 730.4,50.1 730.9,50.3 731.4,50.2 731.9,50 732.4,49.9 732.9,49.6 733.4,50 733.9,50 734.4,49.8 734.9,49.6 735.4,49.9 735.9,49.6 736.4,49.9 736.9,49.8 737.4,49.7 737.9,49.5 738.4,49.6 738.8,49.5 739.3,49.4 739.8,49.3 740.3,49.6 740.8,48.9 741.3,49.2 741.8,49.3 742.3,49.5 742.8,49.2 743.3,48.8 743.8,49.1 744.3,49.3 744.8,49.2 745.3,49 745.8,48.9 746.3,49.1 746.8,48.9 747.3,49 747.8,49.1 748.3,49 748.8,49.1 749.3,48.9 749.8,48.9 750.3,48.7 750.8,48.4 751.3,48.7 751.8,48.7 752.3,48.7 752.8,48.7 753.3,48.7 753.8,48 754.3,48.6 754.8,48.4 755.3,48.7 755.8,48.4 756.3,48.4 756.8,48.6 757.3,48.4 757.8,48.5 758.3,48.4 758.8,48.4 759.3,48.2 759.8,48.3 760.3,48.2 760.8,48.3 761.3,48.4 761.8,48.1 762.3,48 762.8,48.3 763.3,48 763.8,48.1 764.3,48 764.8,48.1 765.3,47.9 765.8,47.4 766.3,47.4 766.8,48 767.3,47.9 767.8,47.3 768.3,48 768.8,47.6 769.3,47.7 769.8,47.6 770.3,47.5 770.8,47.6 771.3,47.8 771.8,47.8 772.3,47.6 772.8,47.5 773.3,47.5 773.8,47.3 774.3,47.3 774.8,47.4 775.3,47.5 775.8,47.1 776.3,47.2 776.8,47.3 777.3,47.3 777.8,47.2 778.3,47.2 778.8,47.4 779.3,47.1 779.8,47 780.3,47.2 780.8,47.2 781.3,47.2 781.8,47.1 782.3,47.2 782.8,47 783.3,47.1 783.8,47 784.3,46.4 784.8,46.9 785.3,47.1 785.8,46.9 786.3,46.9 786.8,46.8 787.3,46.8 787.8,46.8 788.3,46.3 788.8,46.9 789.3,46.6 789.8,46.6 790.3,46.6 790.8,46.6 791.3,46.7 791.8,46.5 792.3,46.6 792.8,46.7 793.3,46.5 793.8,46.4 794.3,46.5 794.8,46.4 795.3,46.6 795.8,46.3 796.3,46.3 796.8,46.4 797.3,46.2 797.8,46.5 798.3,46.4 798.8,46.4 799.3,46.2 799.8,46.1 800.3,46.1 800.8,46.4 801.3,46.1 801.8,46.2 802.3,46.2 802.8,46 802.8,46.1 803.3,46.3 803.7,46.8 804,47.6 804.1,48.5 804,49.4 803.7,50.2 803.3,50.7 802.8,50.9 802.3,51.1 801.8,51.1 801.3,51.3 800.8,51.1 800.3,51.3 799.8,51.2 799.4,51.3 798.9,51.5 798.4,51.3 797.9,51.5 797.4,51.6 796.9,51.6 796.4,51.5 795.9,51.6 795.4,51.7 794.9,51.9 794.4,51.7 793.9,52 793.4,52.1 792.9,51.9 792.4,52.2 791.9,52.3 791.4,52 790.9,52.1 790.4,52.3 789.9,52.7 789.4,53.4 788.9,52.3 788.4,52.5 787.9,52.5 787.4,52.7 786.9,52.8 786.4,52.5 785.9,52.6 785.4,52.8 784.9,52.9 784.4,52.9 783.9,53.2 783.4,53 782.9,52.9 782.4,53.2 781.9,53.9 781.4,53.4 780.9,54.8 780.4,53.8 779.9,53.4 779.5,53.4 779,53.4 778.5,53.4 778,53.8 777.5,53.5 777,53.6 776.5,53.7 776,53.7 775.5,53.9 775,53.9 774.5,53.9 774,55 773.5,54.2 773,54.1 772.5,54.5 772,54.3 771.5,54.2 771,54.1 770.5,54.4 770,54.3 769.5,54.4 769,54.3 768.5,54.6 768,54.4 767.5,54.7 767,56.1 766.5,55.5 766,55.8 765.5,55.5 765,54.5 764.5,54.7 764,54.7 763.5,54.7 763,55 762.5,54.8 762,55.1 761.5,54.9 761,55.3 760.5,55.4 760,55.2 759.5,55.1 759,55.3 758.5,55.2 758,56.1 757.5,55.6 757,55.5 756.6,55.8 756.1,55.6 755.6,55.7 755.1,55.7 754.6,55.8 754.1,55.8 753.6,55.7 753.1,55.9 752.6,56 752.1,55.8 751.6,56.4 751.1,56.1 750.6,57.3 750.1,56.1 749.6,56.1 749.1,56.1 748.6,56.3 748.1,56.2 747.6,56.3 747.1,56.3 746.6,56.4 746.1,56.2 745.6,56.3 745.1,56.3 744.6,56.4 744.1,56.7 743.6,56.5 743.1,56.6 742.6,56.7 742.1,56.6 741.6,56.8 741.1,56.8 740.6,57.1 740.1,57 739.6,57.1 739.1,57 738.6,57.2 738.1,57.8 737.6,58.1 737.1,57.1 736.6,57.2 736.1,57.4 735.6,57.1 735.1,57.5 734.6,58.3 734.1,58.3 733.6,58.5 733.1,57.3 732.6,57.7 732.1,57.6 731.6,57.6 731.1,58.6 730.6,57.8 730.1,58.4 729.7,58 729.2,57.9 728.7,57.7 728.2,57.8 727.7,59.2 727.2,58.9 726.7,59.5 726.2,58 725.7,58.1 725.2,58.1 724.7,58.4 724.2,58.2 723.7,58.3 723.2,58.4 722.7,58.3 722.2,58.6 721.7,58.5 721.2,58.7 720.7,58.6 720.2,58.7 719.7,58.7 719.2,59.4 718.7,58.7 718.2,59.2 717.7,58.8 717.2,58.8 716.7,59 716.2,59 715.7,60.4 715.2,59 714.7,60.1 714.2,59.6 713.7,59.3 713.2,59.6 712.7,59.2 712.2,59.3 711.7,59.2 711.2,59.3 710.7,59.4 710.2,59.5 709.7,59.8 709.2,59.7 708.7,59.5 708.2,59.7 707.7,59.8 707.2,59.7 706.7,60.5 706.2,59.8 705.7,59.8 705.2,60.1 704.7,59.8 704.2,60.1 703.8,59.9 703.3,60.3 702.8,60 702.3,60.1 701.8,61.7 701.3,60.5 700.8,60.3 700.3,60.4 699.8,61.5 699.3,60.5 698.8,60.4 698.3,60.6 697.8,61.1 697.3,61.2 696.8,60.6 696.3,60.8 695.8,60.9 695.3,60.9 694.8,61.2 694.3,61 693.8,61.3 693.3,60.9 692.8,61.5 692.3,61 691.8,61.9 691.3,61.2 690.8,61.2 690.3,61.2 689.8,61.3 689.3,61.2 688.8,61.5 688.3,61.6 687.8,62.6 687.3,62.2 686.8,61.7 686.3,61.4 685.8,61.8 685.3,61.6 684.8,62.1 684.3,62.5 683.8,61.8 683.3,62 682.8,62 682.3,61.9 681.8,61.9 681.3,61.9 680.8,62.1 680.3,62 679.8,62.1 679.3,62 678.8,62.4 678.3,62.3 677.8,62.1 677.3,62.3 676.8,62.2 676.4,62.4 675.9,62.5 675.4,64 674.9,62.4 674.4,62.7 673.9,62.6 673.4,62.6 672.9,63.8 672.4,64.4 671.9,62.7 671.4,62.9 670.9,62.7 670.4,62.8 669.9,63 669.4,62.8 668.9,62.9 668.4,64 667.9,62.9 667.4,64.7 666.9,63 666.4,64.5 665.9,63.3 665.4,63.3 664.9,64.7 664.4,63.7 663.9,64.7 663.4,63.4 662.9,63.6 662.4,63.7 661.9,63.9 661.4,63.8 660.9,63.8 660.4,63.8 659.9,63.8 659.4,65 658.9,63.8 658.4,63.8 657.9,64 657.4,63.8 656.9,64 656.4,64.1 655.9,64 655.4,64.3 654.9,64.3 654.4,64.6 653.9,64.2 653.4,64.2 652.9,65.7 652.4,64.4 651.9,64.4 651.4,64.6 650.9,64.3 650.4,64.7 649.9,64.7 649.4,64.7 648.9,64.7 648.4,64.8 647.9,64.8 647.4,64.6 646.9,64.8 646.4,64.9 646,64.9 645.5,65 645,65.1 644.5,65 644,65.3 643.5,65 643,65 642.5,65.1 642,65.1 641.5,65.2 641,65.3 640.5,66.3 640,65.4 639.5,65.3 639,65.5 638.5,65.6 638,65.6 637.5,65.8 637,65.7 636.5,65.6 636,65.7 635.5,65.8 635,66 634.5,65.9 634,66 633.5,65.9 633,66.2 632.5,66.1 632,66.1 631.5,66.3 631,66.5 630.5,66.5 630,66.6 629.5,66.6 629,66.5 628.5,66.7 628.1,66.6 627.6,66.9 627.1,66.8 626.6,67 626.1,67 625.6,67 625.1,67.3 624.6,67.2 624.1,67.3 623.6,67.6 623.1,67.4 622.6,67.6 622.1,67.7 621.6,67.6 621.1,67.8 620.6,68.1 620.1,67.9 619.7,68.1 619.2,68.3 618.7,68.3 618.2,68.4 617.7,68.3 617.2,68.4 616.7,68.6 616.2,68.7 615.7,68.8 615.2,68.8 614.7,68.9 614.3,69.1 613.8,69.3 613.3,69.1 612.8,69.5 612.3,69.6 611.8,69.6 611.3,69.8 610.8,69.7 610.3,70.1 609.9,70.1 609.4,70.3 608.9,70.2 608.4,70.5 607.9,70.7 607.4,70.7 606.9,70.7 606.4,70.8 606,71 605.5,71.2 605,71.2 604.5,71.4 604,71.5 603.5,71.5 603,71.5 602.6,71.8 602.1,71.9 601.6,72 601.1,72.2 600.6,72.4 600.1,72.4 599.6,72.5 599.1,72.6 598.7,72.6 598.2,72.8 597.7,73 597.2,73 596.7,73.3 596.2,73.3 595.7,73.3 595.2,73.3 594.7,73.7 594.2,73.4 593.8,73.7 593.3,73.7 592.8,73.8 592.3,73.8 591.8,74.1 591.3,74.2 590.8,74.2 590.3,74.2 589.8,74.4 589.3,74.4 588.8,74.5 588.3,74.8 587.9,74.9 587.4,74.8 586.9,74.9 586.4,75.2 585.9,75.1 585.4,75.3 584.9,75.2 584.4,75.3 583.9,75.6 583.4,75.5 582.9,75.8 582.4,75.8 581.9,75.9 581.5,75.8 581,75.9 580.5,75.9 580,76.1 579.5,76.4 579,76.3 578.5,76.6 578,76.7 577.5,76.7 577,76.9 576.5,76.7 576,76.7 575.5,77.1 575.1,76.9 574.6,77.2 574.1,77.3 573.6,77.3 573.1,77.5 572.6,77.5 572.1,77.6 571.6,77.8 571.1,77.9 570.6,78 570.1,78 569.6,78 569.1,78 568.7,78.1 568.2,78.2 567.7,78.4 567.2,78.5 566.7,78.6 566.2,78.8 565.7,78.6 565.2,78.8 564.7,78.9 564.2,78.9 563.7,79.2 563.2,79.3 562.7,79.1 562.2,79.2 561.8,79.5 561.3,79.6 560.8,79.7 560.3,79.6 559.8,79.8 559.3,80 558.8,79.7 558.2,80 557.7,79.9 557.2,80.2 556.6,80.4 556.1,80.3 555.6,80.5 555,80.6 554.5,80.6 553.9,80.9 553.4,80.7 552.9,80.9 552.4,81.2 551.9,80.9 551.4,81.3 550.9,81.4 550.4,81.3 550,81.4 549.5,81.5 549.1,81.3 548.7,81.4 548.3,81.6 547.9,81.4 547.6,81.1 547.3,80.7 547.1,80.2 546.8,79.8 546.4,79.4 546,79.4 545.6,79.6 545,79.6 544.5,80 544,80 543.5,80.3 543,80.3 542.5,80.4 542,80.5 541.5,80.7 541,80.6 540.5,80.9 540.1,81 539.6,81.1 539.1,81.1 538.6,81.4 538.1,81.4 537.6,81.9 537.1,81.9 536.7,81.9 536.2,82.1 535.7,82.4 535.3,82.4 534.8,82.6 534.4,83 534,83.1 533.6,83.5 533.1,83.8 532.8,84.1 532.4,84.4 532,84.6 531.6,85 531.2,85.3 530.8,85.5 530.4,85.9 529.9,86.2 529.5,86.3 529.1,86.6 528.7,87.1 528.2,87.2 527.8,87.6 527.4,87.5 526.9,88 526.5,88.4 526.1,88.4 525.6,88.5 525.2,88.9 524.8,89.1 524.3,89.3 523.9,89.5 523.5,90.1 523,90 522.6,90.5 522.2,90.6 521.7,90.9 521.3,91.3 520.9,91.6 520.4,91.6 520,91.8 519.6,92.1 519.1,92.5 518.7,92.5 518.3,93 517.9,93.2 517.4,93.4 517,93.8 516.6,93.9 516.2,94.4 515.8,94.6 515.4,94.8 514.9,95.1 514.5,95.5 514.1,95.6 513.7,96.2 513.3,96.3 512.9,96.7 512.5,97 512.2,97.2 511.8,97.7 511.4,97.8 511.1,98.2 510.7,98.6 510.4,99.1 510,99.3 509.7,99.9 509.3,100.1 509,100.5 508.7,100.9 508.4,101.4 508,101.6 507.7,101.9 507.4,102.5 507.1,102.8 506.8,103.3 506.5,103.8 506.2,104.1 506,104.6 505.7,105 505.4,105.5 505.1,105.9 504.9,106.1 504.6,106.5 504.4,107.1 504.1,107.5 503.9,108 503.7,108.2 503.4,108.8 503.2,109.2 503,109.7 502.8,110.2 502.5,110.7 502.3,111.1 502.1,111.3 501.9,111.8 501.6,112.2 501.4,112.9 501.2,113.4 501,113.6 500.7,114.1 500.5,114.5 500.3,115.2 500,115.4 499.8,116 499.6,116.3 499.4,116.7 499.2,117.3 499.1,117.8 499,118.4 498.8,118.7 498.7,119.1 498.6,119.8 498.5,120 498.4,120.6 498.3,121.1 498.2,121.8 498.1,122.3 498,122.6 497.9,123.2 497.8,123.8 497.7,124.1 497.7,124.7 497.6,125 497.6,125.7 497.5,126.2 497.5,126.8 497.5,127.3Z" fill="#1f77b4"/>
<path d="M496,397 496,130 497,118" fill="none" stroke="#1f77b4" stroke-width="2.08" stroke-linejoin="round" stroke-linecap="square"/>
<path d="M495.3,129 495.3,128.3 495.3,127.9 495.4,127.4 495.4,126.9 495.4,126.5 495.5,125.7 495.5,125.3 495.6,124.8 495.6,124.3 495.7,123.9 495.7,123.4 495.8,122.9 495.9,122.2 496,121.9 496,121.5 496.1,121 496.3,120.4 496.4,119.8 496.5,119.4 496.6,118.8 496.7,118.4 496.9,118.1 497,117.5 497.2,117.1 497.3,116.7 497.5,116.1 497.7,115.5 498,115.3 498.2,114.7 498.4,114.4 498.7,113.8 498.9,113.4 499.2,113.1 499.5,112.5 499.7,112.2 500,111.8 500.2,111.2 500.5,110.9 500.7,110.2 501,109.8 501.2,109.4 501.5,109.1 501.8,108.6 502.1,108.4 502.3,107.8 502.6,107.5 502.9,106.9 503.2,106.8 503.5,106.2 503.8,105.9 504.1,105.5 504.4,105 504.7,104.7 505,104.1 505.3,103.8 505.6,103.5 505.9,103 506.2,102.7 506.5,102.4 506.9,101.8 507.2,101.4 507.5,101 507.9,100.6 508.2,100.4 508.6,100 508.9,99.6 509.3,99.5 509.6,98.9 510,98.7 510.3,98.3 510.7,97.9 511,97.6 511.4,97.3 511.8,96.8 512.2,96.7 512.5,96.2 512.9,96.1 513.3,95.5 513.7,95.2 514.1,95 514.5,94.6 514.9,94.4 515.4,94.1 515.8,93.8 516.2,93.4 516.6,93.4 517,92.9 517.4,92.9 517.8,92.5 518.3,92.3 518.7,91.9 519.1,91.6 519.5,91.3 520,91 520.4,91 520.8,90.7 521.3,90.5 521.7,90.1 522.1,89.9 522.6,89.5 523,89.5 523.4,89 523.9,88.8 524.3,88.6 524.8,88.4 525.2,88.1 525.7,88.1 526.1,87.7 526.6,87.4 527,87.3 527.5,87.1 527.9,87 528.4,86.7 528.8,86.5 529.3,86.4 529.8,86.3 530.2,85.8 530.7,85.6 531.1,85.6 531.6,85.4 532.1,85.2 532.5,84.9 533,84.9 533.5,84.7 534,84.5 534.4,84.6 534.9,84.2 535.4,84 535.9,83.8 536.4,83.7 536.8,83.8 537.3,83.4 537.8,83.4 538.3,83 538.7,82.9 539.2,82.9 539.7,82.6 540.1,82.5 540.6,82.2 541.1,82.2 541.6,82.2 542.1,81.9 542.5,82 543,81.8 543.5,81.6 544,81.5 544.5,81.5 545,81.4 545.5,81.3 546,81.2 546.5,81.1 547,81.2 547.5,81.2 548,81 548.5,80.8 549,80.7 549.5,80.7 550,80.9 550.4,80.5 550.9,80.4 551.4,80.4 551.9,80.3 552.4,80.4 552.9,80.2 553.4,80.1 553.9,80.1 554.4,79.8 554.8,79.8 555.3,79.5 555.8,79.4 556.3,79.3 556.8,79.4 557.3,79 557.8,78.9 558.2,78.9 558.7,78.8 559.2,78.6 559.7,78.5 560.2,78.4 560.7,78.3 561.2,78 561.6,77.8 562.1,77.9 562.6,77.6 563.1,77.7 563.6,77.4 564.1,77.4 564.6,77.2 565,77.2 565.5,77.1 566,77 566.5,76.6 567,76.7 567.5,76.4 568,76.5 568.5,76.3 569,76.4 569.5,76.1 569.9,76.2 570.4,76.2 570.9,76.2 571.4,76.1 571.9,76 572.4,75.8 572.9,75.8 573.4,75.6 573.9,75.7 574.4,75.4 574.9,75.6 575.4,75.5 575.9,75.4 576.4,75.4 576.9,75.3 577.4,75.1 577.9,75.3 578.4,75.1 578.9,75.2 579.4,74.8 579.9,75 580.4,74.8 580.9,74.6 581.3,74.8 581.8,74.8 582.3,74.7 582.8,74.4 583.3,74.6 583.8,74.3 584.3,74.5 584.8,74.4 585.3,74.2 585.8,74.2 586.3,74.2 586.8,74 587.3,74.2 587.8,73.9 588.3,73.9 588.8,73.8 589.3,73.8 589.8,73.8 590.3,73.6 590.8,73.7 591.3,73.8 591.8,73.6 592.3,73.6 592.8,73.5 593.3,73.3 593.8,73.4 594.3,73.3 594.8,73.4 595.3,73.5 595.8,73.4 596.3,73.4 596.8,73.3 597.3,73.2 597.8,73.1 598.3,73 598.8,72.9 599.3,72.9 599.8,72.8 600.3,72.8 600.8,72.8 601.3,72.8 601.8,72.8 602.3,72.9 602.8,72.8 603.3,72.5 603.8,72.7 604.3,72.4 604.7,72.6 605.2,72.6 605.7,72.3 606.2,72.3 606.7,72.2 607.2,72.3 607.7,72.1 608.2,72.2 608.7,72.3 609.2,72.2 609.7,72.1 610.2,72 610.7,71.9 611.2,71.9 611.7,72 612.2,72 612.7,71.9 613.2,71.7 613.7,71.9 614.2,71.9 614.7,71.8 615.2,71.7 615.7,71.6 616.2,71.5 616.7,71.5 617.2,71.5 617.7,71.4 618.2,71.4 618.7,71.4 619.2,71.3 619.7,71.2 620.2,71.5 620.7,71.4 621.2,71.1 621.7,71.2 622.2,71.3 622.7,71 623.2,71.2 623.7,71 624.2,71.1 624.7,71 625.2,71 625.7,71 626.2,70.9 626.7,71 627.2,70.7 627.7,70.8 628.2,70.6 628.7,70.5 629.2,70.5 629.7,70.5 630.2,70.5 630.7,70.7 631.2,70.3 631.7,70.4 632.2,70.4 632.7,70.3 633.2,70.5 633.7,70.3 634.2,70.4 634.7,70.1 635.2,70.3 635.7,70.4 636.2,70 636.7,70.2 637.2,70.1 637.7,70 638.2,70.1 638.7,70.1 639.2,70.2 639.7,70.2 640.2,70 640.7,69.7 641.2,70.1 641.7,69.9 642.2,69.8 642.7,69.6 643.2,70.1 643.7,69.8 644.2,69.5 644.7,69.8 645.2,69.8 645.7,69.7 646.2,69.7 646.7,69.8 647.2,69.9 647.7,69.7 648.2,69.9 648.7,69.8 649.2,69.7 649.7,69.9 650.2,69.7 650.7,69.4 651.2,69.7 651.7,69.5 652.2,69.5 652.7,69.1 653.2,69.5 653.7,69.5 654.2,69.6 654.7,69.4 655.1,69.6 655.6,69.6 656.1,69.6 656.6,69.4 657.1,69.5 657.6,69.3 658.1,69.4 658.6,69.2 659.1,69.2 659.6,69.1 660.1,69.1 660.6,69.1 661.1,69.1 661.6,69.1 662.1,69.1 662.6,69 663.1,68.6 663.6,68.8 664.1,68.8 664.6,69 665.1,69 665.6,68.9 666.1,68.6 666.6,68.8 667.1,68.8 667.6,68.6 668.1,68.7 668.6,68.6 669.1,68.8 669.6,68.5 670.1,68.7 670.6,68.4 671.1,68.5 671.6,68.5 672.1,68.3 672.6,68.2 673.1,68.4 673.6,68.3 674.1,68.1 674.6,68.1 675.1,68.2 675.6,68.2 676.1,68 676.6,68.2 677.1,68.2 677.6,68 678.1,67.7 678.6,67.9 679.1,67.8 679.6,67.8 680.1,67.9 680.6,67.9 681.1,67.7 681.6,67.9 682.1,67.6 682.6,67.5 683.1,67.6 683.6,67.6 684.1,67.8 684.6,67.5 685.1,67.5 685.6,67.7 686.1,67.7 686.6,67.6 687.1,67.6 687.6,67.6 688.1,67.3 688.6,66.8 689.1,67.2 689.6,67.3 690.1,67.3 690.6,67.5 691.1,67.4 691.6,67.2 692.1,67.2 692.6,67.2 693.1,67.1 693.6,67.1 694.1,67.1 694.6,67.3 695.1,67.1 695.6,66.8 696.1,66.9 696.6,66.9 697.1,66.6 697.6,67 698.1,67.1 698.6,66.9 699.1,66.9 699.6,66.3 700.1,66.8 700.6,67 701.1,67 701.6,66.9 702.1,66.7 702.6,66.6 703.1,66.7 703.6,66.7 704.1,66.6 704.6,66.8 705.1,66.5 705.6,66.8 706.1,66.7 706.6,66.5 707.1,66.6 707.6,66.6 708.1,66.4 708.6,66.5 709.1,66.5 709.6,66.4 710.1,66.4 710.6,66.6 711.1,66.2 711.6,66.4 712.1,66 712.6,66.1 713.1,66.5 713.6,66.3 714.1,66.2 714.6,65.9 715.1,66.4 715.6,66.1 716.1,66.1 716.6,66.4 717.1,66.3 717.6,66.3 718.1,66.3 718.6,66.2 719.1,66.1 719.6,66.2 720.1,66.2 720.6,66 721.1,66.1 721.6,66.2 722.1,66.2 722.6,66.1 723.1,65.9 723.6,65.7 724.1,66.1 724.6,66 725.1,66.2 725.6,65.8 726.1,65.4 726.6,65.5 727.1,66 727.6,66 728.1,66 728.6,65.8 729.1,65.9 729.6,66 730.1,65.9 730.6,65.2 731.1,65.7 731.6,66 732.1,65.8 732.6,65.7 733.1,65.7 733.6,65.7 734.1,65.5 734.6,65.8 735.1,65.6 735.6,65.7 736.1,65.8 736.6,65.6 737.1,65.7 737.6,65.6 738.1,65.6 738.6,65.4 739.1,65.5 739.6,65.3 740.1,65.1 740.6,65.4 741.1,65.6 741.6,65.2 742.1,65.5 742.6,65.6 743.1,65.6 743.6,65.2 744.1,65.4 744.6,65.3 745.1,65.4 745.6,65.3 746.1,65.2 746.6,65.1 747.1,65.4 747.6,65.1 748,65.2 748.5,65.2 749,65.1 749.5,65.3 750,65.2 750.5,65 751,65 751.5,65 752,65 752.5,64.9 753,65.1 753.5,64.8 754,64.9 754.5,65.1 755,64.9 755.5,65.1 756,64.9 756.5,65.2 757,65 757.5,64.9 758,65.1 758.5,65 759,64.9 759.5,65 760,65 760.5,64.8 761,65.1 761.5,64.9 762,64.7 762.5,64.8 763,65 763.5,64.8 764,65 764.5,64.8 765,65 765.5,64.9 766,65.1 766.5,64.9 767,65 767.5,64.8 768,64.9 768.5,64.8 769,64.8 769.5,65.1 770,65 770.5,64.8 771,64.8 771.5,64.9 772,64.9 772.5,64.8 773,64.6 773.5,65.1 774,65 774.5,65.1 775,65 775.5,64.8 776,64.8 776.5,64.8 777,64.7 777.5,64.8 778,65 778.5,64.9 779,65 779.5,64.8 780,65 780.5,64.9 781,64.4 781.5,64.8 782,64.8 782.5,64.8 783,65 783.5,64.9 784,64.6 784.5,64.8 785,65 785.5,65 786,65 786.5,64.9 787,64.8 787.5,64.9 788,64.8 788.5,64.9 789,65 789.5,64.8 790,64.9 790.5,65.1 791,64.8 791.5,65 792,65 792.5,64.9 793,64.8 793.5,65.1 794,64.9 794.5,65.1 795,64.9 795.5,64.9 796,64.9 796.5,65 797,64.9 797.5,64.8 798,65 798.5,64.9 799,65 799.5,65 800,65.1 800.5,64.8 801,65 801.5,64.8 802,65.1 802.5,64.9 802.8,64.9 803.2,65.1 803.6,65.5 803.9,66.2 804,67 803.9,67.8 803.6,68.5 803.2,69 802.8,69.1 802.5,69.3 802.1,69.1 801.6,69.2 801.1,69.3 800.6,69.2 800.1,69.3 799.6,69.2 799.1,69.4 798.6,69.4 798.1,69.4 797.6,69.5 797.1,69.3 796.6,69.6 796.1,69.4 795.6,69.5 795.1,69.5 794.6,69.4 794.1,69.7 793.6,69.7 793.1,69.6 792.6,69.5 792.1,69.8 791.6,69.5 791.1,69.7 790.6,69.6 790.1,69.5 789.6,69.8 789.1,69.7 788.6,69.9 788.1,69.9 787.6,69.7 787.1,69.7 786.6,69.7 786.1,69.8 785.6,70.4 785.1,70 784.6,69.9 784.1,69.9 783.6,69.9 783.1,70 782.6,70.2 782.1,69.9 781.6,70.1 781.1,69.9 780.6,70.1 780.1,70.3 779.6,70.1 779.1,70.2 778.6,70.2 778.1,70.3 777.6,70.3 777.1,70.3 776.6,70.2 776.1,70.3 775.6,70.2 775.1,70.2 774.6,71.3 774.1,70.3 773.6,70.4 773.1,70.7 772.6,71.2 772.1,70.4 771.6,70.6 771.1,70.4 770.6,70.6 770.1,71.1 769.6,70.5 769.1,70.4 768.6,70.6 768.1,70.8 767.6,70.8 767.1,70.6 766.6,70.7 766.1,70.8 765.6,70.6 765.1,70.7 764.6,70.9 764.1,71.7 763.6,70.9 763.1,70.9 762.6,71 762.1,71.1 761.6,70.8 761.1,71.2 760.6,71.8 760.1,71 759.6,71 759.1,71.1 758.6,71.2 758.1,71 757.6,71 757.1,71.5 756.6,71.3 756.1,71.3 755.6,71.3 755.1,71.3 754.6,71.3 754.1,71.5 753.6,71.3 753.1,71.5 752.6,72.2 752.1,71.3 751.6,71.5 751.1,71.4 750.6,71.5 750.1,72.7 749.6,71.6 749.1,72.7 748.6,71.5 748.1,71.9 747.6,71.7 747.1,71.8 746.6,71.6 746.1,71.8 745.6,71.9 745.1,72 744.6,72.2 744.1,71.7 743.6,71.7 743.1,71.7 742.6,72 742.1,71.8 741.6,71.8 741.1,72.1 740.6,72.1 740.1,71.9 739.6,72.1 739.1,72.1 738.6,72.3 738.1,72 737.6,72.1 737.1,72.2 736.6,73 736.1,72.1 735.6,72.3 735.1,73.5 734.6,72.4 734.1,73.2 733.6,72.2 733.1,72.5 732.6,72.5 732.1,72.5 731.6,72.9 731.1,72.4 730.6,72.4 730.1,72.4 729.6,72.5 729.1,72.6 728.6,73.3 728.1,72.7 727.6,72.5 727.1,72.7 726.6,72.8 726.1,72.7 725.6,72.5 725.1,72.5 724.6,73.2 724.1,72.6 723.6,72.9 723.1,73.2 722.6,72.8 722.1,72.6 721.6,72.9 721.1,72.9 720.6,72.7 720.1,73.8 719.6,73.4 719.1,72.9 718.6,72.9 718.1,72.7 717.6,72.8 717.1,73.2 716.6,73 716.1,73 715.6,72.8 715.1,72.8 714.6,73.7 714.1,73 713.6,73 713.1,72.8 712.6,73.7 712.1,72.8 711.6,73 711.1,73.2 710.6,72.9 710.1,73.1 709.6,73.9 709.1,73.2 708.6,73.6 708.1,73.2 707.6,73 707.1,73.5 706.6,73 706.1,73.2 705.6,73.1 705.1,73.3 704.6,73.3 704.1,73.3 703.6,73.1 703.1,73.1 702.6,73.3 702.1,73.2 701.6,73.8 701.1,73.7 700.6,73.1 700.1,73.2 699.6,73.2 699.1,73.2 698.6,73.4 698.1,73.2 697.6,74.4 697.1,73.4 696.6,73.2 696.1,73.2 695.6,73.5 695.1,73.3 694.6,73.3 694.1,73.5 693.6,73.3 693.1,73.6 692.6,73.5 692.1,73.7 691.6,73.5 691.1,73.7 690.6,74.2 690.1,73.4 689.6,73.7 689.1,74.1 688.6,73.7 688.1,73.5 687.6,73.8 687.1,74.1 686.6,73.8 686.1,73.6 685.6,73.8 685.1,73.6 684.6,73.8 684.1,73.9 683.6,73.7 683.1,74.3 682.6,74 682.1,73.9 681.6,73.9 681.1,74.7 680.6,73.8 680.1,73.8 679.6,73.9 679.1,74 678.6,74.5 678.1,74 677.7,74.6 677.2,74.8 676.7,74 676.2,74.6 675.7,74.1 675.2,74 674.7,74.1 674.2,74.4 673.7,74.2 673.2,74.4 672.7,74.4 672.2,75.3 671.7,75.1 671.2,74.5 670.7,74.5 670.2,74.5 669.7,74.5 669.2,74.5 668.7,74.6 668.2,74.5 667.7,74.6 667.2,74.7 666.7,74.5 666.2,75.2 665.7,75.2 665.2,74.6 664.7,74.8 664.2,75 663.7,75.5 663.2,74.8 662.7,75 662.2,74.7 661.7,75.3 661.2,74.9 660.7,75 660.2,75 659.7,75.8 659.2,75.5 658.7,75.3 658.2,75.6 657.7,75.2 657.2,75.1 656.7,75.4 656.2,75.2 655.7,76.2 655.2,75.3 654.7,75.4 654.2,75.3 653.7,75.3 653.2,75.6 652.7,75.7 652.2,75.7 651.7,75.5 651.2,75.5 650.7,75.7 650.2,75.5 649.7,75.7 649.2,75.8 648.7,75.6 648.2,76.4 647.7,76.1 647.2,76 646.7,75.8 646.2,76 645.7,75.9 645.2,75.9 644.7,76.2 644.2,76.1 643.7,76 643.2,77.1 642.7,77 642.2,76.3 641.7,76.4 641.2,76.5 640.7,76.3 640.2,76.4 639.7,76.7 639.2,76.6 638.7,76.6 638.2,76.5 637.7,76.7 637.2,76.9 636.7,76.7 636.2,76.8 635.7,76.7 635.2,76.8 634.8,76.8 634.3,76.9 633.8,76.9 633.3,77.1 632.8,77.1 632.3,77.2 631.8,77.3 631.3,77.4 630.8,77.3 630.3,77.5 629.8,77.5 629.3,77.5 628.8,77.5 628.3,77.4 627.8,77.6 627.3,77.8 626.8,77.7 626.3,77.7 625.8,77.8 625.3,77.9 624.8,77.9 624.3,77.8 623.8,78.1 623.3,77.9 622.8,78.2 622.3,78.3 621.8,78.3 621.3,78.2 620.8,78.1 620.3,78.2 619.8,78.4 619.3,78.5 618.8,78.3 618.3,78.6 617.8,78.5 617.3,78.5 616.8,78.5 616.3,78.8 615.8,78.7 615.3,78.9 614.8,78.9 614.3,78.9 613.8,79.1 613.3,79.1 612.8,79.2 612.3,79 611.8,79.3 611.3,79.2 610.9,79.2 610.4,79.2 609.9,79.3 609.4,79.5 608.9,79.6 608.4,79.6 607.9,79.7 607.4,79.5 606.9,79.5 606.4,79.6 605.9,79.8 605.4,79.7 604.9,79.9 604.4,79.9 603.9,80 603.4,80.1 602.9,80.1 602.4,80.1 601.9,80.2 601.4,80.3 600.9,80.6 600.4,80.4 599.9,80.7 599.4,80.8 599,80.8 598.5,81 598,81.1 597.5,81 597,81.3 596.5,81.5 596.1,81.5 595.6,81.8 595.1,81.9 594.6,81.8 594.2,82 593.7,82.4 593.2,82.3 592.7,82.7 592.3,83 591.8,83.1 591.3,83.1 590.9,83.2 590.4,83.7 589.9,83.6 589.5,83.9 589,84.1 588.5,84.3 588,84.4 587.6,84.5 587.1,84.7 586.6,84.7 586.1,85 585.6,84.9 585.1,85.3 584.7,85.2 584.2,85.5 583.7,85.5 583.2,85.5 582.7,85.7 582.2,86.1 581.7,86.1 581.3,86.1 580.8,86.3 580.3,86.4 579.8,86.6 579.3,86.5 578.8,86.6 578.3,86.8 577.8,86.8 577.4,87.1 576.9,87.1 576.4,87.3 575.9,87.3 575.4,87.3 574.9,87.7 574.4,87.8 573.9,87.9 573.5,87.8 573,87.9 572.5,88.2 572,88.1 571.5,88.2 571,88.6 570.5,88.5 570,88.5 569.5,88.6 569,88.7 568.6,88.9 568.1,89.1 567.6,88.9 567.1,89 566.6,89.3 566,89.3 565.5,89.5 565,89.5 564.5,89.6 564,89.7 563.5,89.7 563,89.7 562.5,89.7 562,89.9 561.5,90.1 561,90.2 560.5,90 560,90.1 559.5,90.3 559,90.3 558.6,90.2 558.1,90.3 557.6,90.3 557.2,90.2 556.7,90.2 556.3,89.6 555.9,89.5 555.5,89.2 555,88.8 554.5,88.6 554.1,88.6 553.5,88.8 553,88.6 552.5,88.5 552,88.5 551.4,88.6 550.9,88.5 550.4,88.6 550,88.6 549.5,88.5 549.1,88.5 548.7,88.3 548.3,87.7 548,87.2 547.6,86.9 547.3,86.4 546.9,86.1 546.5,85.9 546.1,85.9 545.6,85.9 545.1,85.8 544.6,85.9 544.1,85.9 543.6,86.1 543.1,86.3 542.6,86.2 542.1,86.3 541.6,86.7 541.1,86.8 540.6,87 540.2,87 539.7,87 539.2,87.2 538.7,87.6 538.3,87.5 537.8,87.8 537.3,87.8 536.8,88.1 536.4,88.4 535.9,88.3 535.4,88.5 535,88.8 534.5,88.9 534,89.1 533.5,89.4 533.1,89.6 532.6,89.6 532.1,90 531.7,89.9 531.2,90.3 530.8,90.4 530.3,90.7 529.8,90.7 529.4,90.8 528.9,91.3 528.4,91.4 528,91.5 527.5,91.7 527,92 526.6,92 526.1,92.3 525.7,92.5 525.2,92.8 524.8,92.9 524.3,93.1 523.9,93.4 523.5,93.5 523,94 522.6,94.3 522.2,94.5 521.8,94.9 521.3,94.9 520.9,95.1 520.5,95.4 520.1,95.7 519.7,96.2 519.3,96.4 518.9,96.6 518.5,96.9 518.1,97.2 517.7,97.8 517.3,97.8 517,98.3 516.6,98.6 516.2,98.9 515.8,99.1 515.5,99.5 515.1,99.9 514.7,100.4 514.4,100.8 514,101.1 513.7,101.3 513.3,101.7 513,102.2 512.6,102.3 512.3,103 512,103.4 511.7,103.5 511.3,104.1 511,104.4 510.7,104.6 510.4,105 510.1,105.7 509.8,106.1 509.5,106.4 509.2,106.6 508.9,107.3 508.7,107.7 508.4,108 508.1,108.6 507.9,108.8 507.6,109.3 507.4,109.6 507.1,110.3 506.9,110.6 506.6,111.1 506.4,111.5 506.2,111.9 505.9,112.5 505.7,112.9 505.5,113.4 505.3,113.7 505.1,114.3 504.9,114.6 504.8,115.3 504.6,115.6 504.4,116.1 504.3,116.6 504.1,117.1 503.9,117.6 503.8,118.1 503.6,118.3 503.5,119 503.4,119.4 503.2,120.1 503.1,120.5 503,120.9 502.9,121.5 502.8,121.8 502.7,122.4 502.6,122.9 502.6,123.2 502.5,123.9 502.4,124.4 502.3,125 502.3,125.5 502.2,126 502.2,126.3 502.1,127 502,127.2 502,127.9 501.9,128.3 501.8,128.8 501.7,129.4 501.7,129.7 501.6,130.2 501.5,130.9 501.4,131.4 501.3,131.7 501.2,132.2 501.1,132.7 501,133.3 500.9,133.6 500.8,134.3 500.8,134.8 500.7,135.2 500.6,135.6 500.5,136.1 500.4,136.7 500.4,137.1 500.3,137.8 500.2,138.1 500.2,138.8 500.1,139.3 500.1,139.7 500,140.3 500,140.9 499.9,141.4 499.9,141.7 499.8,142.2 499.8,142.5 499.8,143.2 499.8,143.8 499.7,144 499.7,144.5 499.7,145.3 499.7,145.5 499.7,146.3 499.7,146.7 499.6,147.1 499.6,147.8 499.6,148.1 499.6,148.8 499.6,149 499.6,149.8 499.6,150.1Z" fill="#ff7f0e"/>
<path d="M496.4,330.7 496.4,128" fill="none" stroke="#ff7f0e" stroke-width="2.08" stroke-linejoin="round" stroke-linecap="square"/>
<path d="M497.9,127 498,183 498.2,127" fill="none" stroke="#ff7f0e" stroke-width="2.08" stroke-linejoin="round" stroke-linecap="square"/>
</g>
<defs><marker id="mk" markerWidth="12" markerHeight="12" refX="6" refY="6" markerUnits="userSpaceOnUse"><circle cx="6" cy="6" r="4.17" fill="#1f77b4" fill-opacity="0.0941" stroke="#1f77b4" stroke-opacity="0.0941" stroke-width="1.39"/></marker><marker id="mh" markerWidth="12" markerHeight="12" refX="6" refY="6" markerUnits="userSpaceOnUse"><circle cx="6" cy="6" r="4.86" fill="#1f77b4" fill-opacity="0.1608"/></marker><filter id="bl" x="-5%" y="-5%" width="110%" height="110%"><feGaussianBlur stdDeviation="2.2"/></filter></defs>
<g clip-path="url(#c2)">
<path d="M1118,136.9 1099.5,292.1 965.9,227.6 1151,249.4 1183.4,167.7 918,278.4 1130.4,274.3 1038.7,179.7 953.8,243.9 1031.7,189.2 945.5,251.5 1174.5,141.3 996.6,210.8 1054.2,137.4 1049.6,147.2 1052.4,295.2 1192,151.9 986.6,305 1162.5,230.3 1030.6,162.4 1028.2,327.6 1180.2,198 959.6,304.9 956.7,214.8 950.7,241.6 1193.1,206 924.7,282.8 930.5,293.7 988.8,218 1043.1,183.1 1114.4,125.3 1053.5,173.5 955.7,314.5 1162.8,275.8 1199.2,145 1017.1,184.6 1154,276.5 975.6,190.3 1062.6,143.1 1062.9,147.7 932.3,291.3 1190.6,222 1055.4,174.9 1187.8,187.5 1045.8,161.5 1134.3,278.3 974.1,204.2 1053.3,171.4 1018.6,192.1 1107.6,129 1019.9,304.9 920.9,299.4 1135.8,285.2 991.6,318.3 1047.8,180.6 1119.1,121.2 1034.7,307.1 963.8,320.1 1161.1,252.2 946.9,240.1 1108,114.6 1065.1,320.4 1082,303.6 1054,293.5 961.4,230.3 1189.9,136 944.4,302 1133.5,121.5 1075.4,153.1 1174.7,147.2 990.5,197.8 1057,315.3 1180.9,149 956.2,226.8 1016.1,175.2 937,305.1 1178.5,191.4 1174.9,176.5 1183.6,148.4 1095.8,291.6 1182.9,203.5 1170.7,215.3 1069.1,119.3 959.1,220.9 1079,139.3 1190.9,131 1051.9,299.3 1155.9,239.6 1156.8,243 997.7,206.3 978.3,201.7 1007.1,129.3 1126.7,306.5 1108.6,303.3 1112,316.7 1069,302.9 1105,312 1072,312.7 1073.6,157.1 1130.5,132.3 1178.4,135.8 962.2,203.6 1120.4,304.3 1017.3,144.2 1198.1,183 1149.3,138.2 985.5,224 1028,327.3 1204.5,185.9 993.8,208.5 1084.3,313.3 1178.2,232.4 1076.3,294.5 1092.2,124.6 1180.1,251.6 1172,186.8 1012.1,190.8 1043.3,153.4 1111.1,306.5 1157,244 1044.2,315.2 920.4,299 1164.1,240.9 1184.4,203.7 1082.1,316 1173.5,207.9 1162.5,118.4 1055.4,146.1 1006.1,317 986.8,212.8 951.4,242.6 910.8,273.7 1050.5,331.5 1031.7,182.2 1079.8,153.3 1110.6,134.4 1105.2,296.2 999.6,206.6 1195.7,239.9 1167,125.7 986.8,197.9 982,315.1 975.6,317.8 1194.9,237.3 921.2,268.1 1000.4,204.3 939,252.2 992.3,174.9 1120.7,132.7 1174.4,147.3 1168.4,143.1 1200.2,162 1131.7,123.5 1189.1,195.7 1133.9,124.7 1061.7,126.3 941.1,257.7 1173.3,247.2 1175.6,155.8 1082.8,47.3 1064.7,165.4 1085.5,140.7 1074.5,161.7 1138.8,131.4 1111.2,127 1171.8,159.8 1190.1,142.9 1061.4,169.6 1165,124.4 1174.5,172 1191.9,158.2 1185.1,181.8 1161.2,270.2 1062.1,313.2 1061.9,163.8 957.1,237 1179.4,198.3 1076.7,154.3 1020.6,192 991.3,211.1 992,209.1 1105.2,123.4 970.9,221.3 989.6,303.3 1061.7,293.1 1031.5,316.5 1092.4,299.4 1084.5,327.5 1030.9,163.6 1003.9,154.9 1162.3,235.2 1079.6,317.3 1115,127.5 1160.9,281.4 1172.7,227.7 1185.8,159.5 1092.7,310.1 1003,196.4 1021.4,185 1194.1,146.5 1154.2,249.3 1112.7,109.3 1070.8,300.6 1196.1,185.6 1043.8,311.5 1002,194.1 972.8,209.4 1107.3,140.1 920.2,296.7 1017.9,304.3 929.7,262.5 1089.2,140 1140.1,128 1111.7,128.8 1145.2,277.4 969.4,225.8 921,286.1 961.7,203.4 996.7,191.8 1186,135.8 1198.4,151 977.5,305.6 976.3,309.2 1153.1,125.5 951.3,243.4 1087.7,130.3 1045.4,293.4 959.6,210 1076.5,135 985.7,304.1 1053.2,164 927.4,240.1 940.1,204.1 1191.2,140.2 1040.6,306.3 1087.7,317.4 1025.7,294.7 954.1,190.8 1096,312.2 1105.9,296.6 1055.2,180 939.3,254.8 979.2,211.6 1082,298.7 972.8,202.8 1094.4,293.3 956.3,246.3 1165.1,227.1 1027.6,305.7 915.5,263.4 1048.5,151 1103.2,136.4 1169,197.9 1186,147.3 1115.4,288.9 1200.2,132.6 971.9,216 1007.4,184.6 943.1,246.9 1105.6,288.7 1048,297.4 1182,176.9 1104.5,131.4 1155.7,133.5 1169.9,211.5 1072.3,146.5 1145.9,295.1 943.5,243.1 971.1,226.3 1069.2,157.4 1079.5,156.4 1055,144.4 1182.5,173.9 977.2,207.1 1004,317 1012.6,303.1 1065,122.8 1021.3,172.6 1172.8,202 1178,183.5 1180.9,209.6 1096.6,308.6 1003.7,325.5 969.5,164.2 1070.5,150.7 1168.8,209.1 973.8,215 1069,159.3 940.9,292.9 948.5,228.9 963.7,236.2 1007.1,162.6 1076.1,291.6 1008.5,193.2 952.2,301.2 1173.7,153 935.1,283.8 933.8,295.9 1024.3,180 1071,294.5 1008.3,166.5 952.5,297.5 1152,266.6 921.1,265 1198,139.8 1044.8,170.6 1139.6,124.5 1012,305 1038.4,162.4 955.7,324 1157.8,243.3 1129.8,293.9 1147.4,135.1 1087.3,141.7 941,248.5 1038.4,323.3 1175.5,146.2 974,187.8 1024.2,181.6 1176.4,140.6 932.7,267.6 1063.6,294.5 976.5,215.8 972.3,315.7 1173.9,231.3 941.8,252.8 1048.4,173.3 1033,178.9 1153.9,265.9 931,269.3 1178.9,234.4 1030,152.1 1108.1,141.1 1096.3,142.7 1178,221.3 1092.7,144.3 1045.9,136.5 1008.3,204.2 961.7,299.7 1113.2,290.1 1179.9,167.8 1065.5,129.3 1181.9,204 1154.2,251.3 1138.4,291.6 1073.9,294.1 1193.9,202.6 1180.4,164.7 1180.3,184.9 1041.1,172 978.2,215.9 939.2,237.1 1100.1,294.7 1179,272.1 1035.6,158.8 1180.4,260.7 1050.6,296.4 960.6,308.7 1198.2,195.9 1171.4,220.7 1072.2,308.5 973.2,304 955,301.9 1001.7,195 946.8,299 992.4,167.7 1161.4,224.1 945.5,246.1 1005.4,318.2 978,151 1081.7,147.4 1188.2,167.5 1178,225 1192.3,186.8 1190.1,200.9 1120.5,304.8 962.8,230.4 969.2,217.5 932,281 1038.6,181.2 957.5,208.2 932,293.5 994,206.6 1022.8,179.5 1081.4,145.4 1096.4,138.8 1133.3,132.5 1014,174.1 976.6,147.1 1163.5,271.1 1073.2,297.8 1140.5,131.8 1199.6,159.5 927.2,258.1 1057.1,325.4 1098.1,143.6 1172.3,216.2 1079.8,139 1101.8,140.5 987.2,219.4 967.8,196.9 1001.8,201 969.8,216 1006.8,185.7 1126.1,130.7 1189.9,145.9 942.5,297 927.1,310.1 1164.3,223.3 1154.4,245.4 1013,148.2 1023.5,303.7 1175.9,175.7 1051,178.4 1186.4,180.5 1163.6,226.4 987.7,197 957.9,241.6 993,203.9 964.5,210.9 1139.5,108.9 1167.3,229 1163.5,131.7 940,298.4 1121.3,281 936.8,242.9 1095.3,311.5 1145,258.6 926.9,275.7 1004.2,190.3 979.3,212.4 1182.1,169.6 934.5,272.9 1107.2,122.6 1048.7,173.5 936.4,318.9 1163.1,265.5 1029.8,171.7 1066.1,162.2 1199.8,235 965.9,240.9 1192.3,148.8 924,312.8 1097.2,293.5 1144,279.8 1071,133 1162.9,220.5 971.2,317.1 1168,134.8 972.5,225.1 966.1,302.1 941.8,304.7 970.6,306.8 967.7,229.7 1042,173.2 1014.1,189 1137.9,273 1090.1,304.8 1114.6,57.6 940.1,308 1079.1,302.9 1072.5,290.8 926.8,254.9 1117.2,131.9 951.4,247.4 1076.3,292.1 964.7,195 956.5,305.1 990.2,216.6 1030,135.5 956,211.5 1069.9,115.6 931.1,296.2 1069.7,155.1 1188.5,209.7 1068.2,292.7 954.7,308.8 1171.2,231.7 1073.9,137.9 1174.6,163.9 1065.8,315.4 1183,190.5 1185.6,127.8 1151,132.5 1106.7,139.8 979.2,231.6 962.5,216.5 1010.4,197.7 935.6,286.6 1053.5,309.9 1109.1,296.6 1179.4,199 1185.2,238.8 1040.6,149.1 1164,256.3 1095.2,122.1 958,195.7 1143.6,266.9 1129,138.8 1034.7,172.4 1191.4,151.3 1019.4,193.2 1111,285.4 1089.7,131.4 951.5,213.1 1090.3,133.6 1039.8,166.3 1163.1,243 1107.4,135.7 996.8,193 942,293.3 1185.4,232 1180,227.3 927.5,285.8 983.5,319.8 937.8,277.5 986.4,204.8 978.2,216.4 969.2,305.8 984.9,221.2 998.2,212.8 1171.2,233.9 1163.5,252.9 938.2,252.5 920,282.1 1163.6,144 1013.1,300 1105.9,301.7 1063.5,305.4 1070,116.9 940.9,259.4 1168.6,197.1 974.7,210.5 1070,155.6 951.9,306.5 1070.4,131.8 1059.1,168.5 1078.3,296.4 951,241.6 1152,270.4 1043.8,296.9 1037.4,296 1097.7,135.2 1049.6,176.8 1110.5,295.6 1145.9,258.2 1057.7,161.7 936.9,274.7 936.9,284.4 1104.4,287.2 1144.5,260.7 1172,236.6 1085.7,321.9 958.3,304 1037,295.7 1036.5,184.8 948.4,292.6 1027.4,176.7 924.7,291.2 1028.1,141.8 1188.4,180.8 1163.9,222 1039.5,316.2 965.9,227.9 1189.4,241.4 1055.1,171 1171.2,234.6 1031.1,295.1 1163.8,258.3 1174.4,255.9 1027.6,197 1179,140 1165.4,252.3 1135.2,275.6 1120.8,301.4 964.2,215.1 1129,291.5 1102.9,325.9 1060.8,148.5 976.1,209.9 1096.5,142.3 1085.1,139.4 1011.3,199.6 975,202.9 952.5,206.1 938.7,292.7 960.1,246.8 1044.1,294.9 1060,301.1 1190.9,184.1 1069.9,291.9 1063.9,303.6 1034.7,191.1 1031.2,186.1 1164.8,144.8 1196,169.4 1044.4,158.5 1165.7,219.2 911.1,266.3 1060.3,312.8 1037.6,185.6 1050.8,172.5 1060.2,163.4 1090.8,126.5 1024.3,191.3 1171.5,138.3 1080.8,148.2 1169,223.3 1175,171.3 1180,141.6 1009.9,193.5 972.3,236.1 1172.6,216.3 1168,214.7 1201.1,165.3 962.1,322.4 1050.1,166.6 1174.8,218.5 1024.7,165.2 1193.6,200.9 953,241.9 1163.4,256.8 1054,159.5 1135.2,296 1108.5,300.3 1059.6,316.9 1007.2,305.5 997,190.1 1187.7,171.4 1161.2,255 978.1,198.2 1056,147.1 1015.4,130.6 1145.8,266.2 967.2,119 970,311.1 1017.9,186.2 1196.6,152.3 1152.1,269.6 1193.7,146.5 938.5,266.8 1035.9,296.7 1050.8,161.7 1128.6,134.3 1135.3,130.1 953.9,186.2 1197.5,138 1067,154.1 1164.8,239.3 1133.6,276.2 944,306.6 1057.8,323.9 1094.1,292.6 991.2,163.5 1145.3,133.2 1086.3,146.1 989.8,326.8 1140.7,286.8 1175.3,221.6 1015.6,300.9 990.7,197.7 956.3,308 943.7,217.4 937.1,246.7 1017.4,194.3 938.4,262.7 1004,185.3 1006.5,306.8 1115.5,134.7 970.5,313.1 1182.3,226.7 1183.3,147.7 918,261 1000.3,311.8 1159.8,233.4 1050.6,139.5 1097.5,293.8 941.5,290.5 1046.4,291.4 1081.2,152.2 1090,137.6 1182.6,175.3 986.6,222.6 1079.5,293.9 979.4,200.2 1167.7,276.6 1009.1,181.7 1017.2,300.9 1165.9,249.2 954.9,309.5 987.2,305.8 971.4,235.3 1159.7,231.5 967.6,311.5 1085.2,135.5 990.7,205.1 1167.5,224.1 1105.8,135.5 1016.7,179.9 962,223.3 1165.4,133.6 987.2,201.9 971.8,211.9 1068.2,116.4 1191.5,155.5 1188.5,252 1041.4,299.7 1081.9,136.8 1091.3,138.4 985,183.6 1038.1,179 947.3,309.6 1187.9,249.8 962.5,240.5 1054,152.9 932.8,283.5 1180,160.7 1057.4,145.6 1094.3,124.7 1178,122 1115.9,285.2 1191.3,215.8 1078.7,134.8 1064.6,140.9 1152.5,130.6 1166.3,140.2 1164.4,258.9 1082.8,122.7 1144.6,283.1 1015.8,189 1192.6,137.2 1021.9,186.2 1145.5,127.2 1063.1,143.1 1015.9,307.7 1082.9,317.5 1192.9,249.9 1105.2,288.1 1189,248.7 1079.9,310.1 1034.2,162.2 1072,304.2 1157.7,248.1 942,257.6 1163.7,132.8 1099.6,143 1188.7,215.7 1133.2,127.2 1161.6,247.4 1021.6,163.4 1064.3,304.6 1165.4,214.4 1029.6,299.7 1003.2,305.1 1053.5,166.8 1022.4,296.2 1012.4,194.9 1159.6,233.4 1033.4,316.2 972.4,306.6 1139,282.7 1033.7,295.8 929.5,298.5 1024.6,188.9 1176.3,168.2 1177.1,240.1 1132.5,280.4 1001.5,187.5 1093.2,149.3 1152.1,244.9 1101.3,290.2 1199.4,153.2 1143.5,260 981.1,209.7 939,290.4 958.5,302.9 1076.6,148 1182.7,263.5 973,124.4 1143.5,135.8 1160.8,132.1 1164.6,249.1 1126.1,278.2 1087.3,290.1 1118.1,317.9 1131.8,132.8 948.5,202.6 1114.8,289.5 1002.2,168.1 1137.6,130.7 1073.5,125.8 935.8,273.2 1177.5,293.1 1104.3,119.4 1172.1,258.8 945,289.3 1013.4,191.4 1016.9,189 1166.7,205.8 1193.4,233.2 1124.2,313.4 1111.1,117.1 1008.8,189.9 1151.8,258.5 940.5,283.6 1161.6,135.4 1039.9,142.5 1182.4,157.3 1134.1,301.8 1013.7,195.3 952.8,299.8 1061.3,312.7 1105.4,287 982.7,310 1205.7,192.6 1001.8,202.1 1174.5,259.9 1182.7,184 1019.4,164.9 1155.2,128.6 944.8,288.6 954.8,299.1 1105,125.1 971.7,306.1 1170.8,237 1004.9,197.3 1162.4,253.6 1171.8,206.4 1117.8,299 1174,181.5 928.2,313.8 1178.7,189.3 1105.1,293.4 1154.9,251.7 935.7,273.9 1053.2,160.2 1022.8,184.6 930.1,262.3 1055,153.7 1059.7,294.7 1194.8,244 1012.6,296.1 912.3,266 962.7,193.7 969.5,302.2 955.3,307.5 963,209.1 988.7,137.5 924.8,294.1 1148.4,132.4 1034.5,295.3 1064.6,313.1 1001.4,206.6 1004.4,171.4 1096.6,144.3 1167.3,254.5 1152.6,254.8 1124.9,289.3 933.7,282.4 932.2,253.9 1099.4,304.8 1151.4,263.8 959.2,234.7 1003.1,203.6 1063.3,306.6 1167.5,205.3 1093,310.4 1118.6,289.1 947.8,291.5 1189.4,248 946.2,308.9 935.6,267.9 1099.9,140.1 1101.9,141.3 1127.1,135.6 965.6,235.3 1153.5,138.7 1173.3,177.1 1030.8,160.6 1171.8,158.4 979.4,307.2 1164.4,127.9 1004.8,120.6 1019.3,189.5 1187.5,259.4 961.1,239.8 1153.3,272.5 1136.8,274.8 1152.9,126.1 1197.4,161.7 1194.9,160.9 1151.1,267.4 932.3,251.7 989.6,200.3 1170,137.7 1062.3,162.2 1101.9,309.1 1123.7,286.4 1198.9,167.7 1104.9,290.1 1115.5,285.1 1154.5,131.7 1043.3,171.7 980.8,177.5 951.2,245.8 1086.8,306.8 1099.9,290.4 948.9,242.8 1080.9,150.1 1035,296.1 968.5,230.5 1193.1,238.7 999,169.7 1030.2,190.9 949.2,292.6 1171.5,128.3 1014.4,299.5 937.2,250.8 1111.8,287 1185,249 1109.6,125.9 1202.6,150.5 1183.4,166.4 912.3,294 1206.4,172 1133.6,279.9 1181.8,258.1 1107.6,117.1 994.7,204.5 1017.4,202 1174.8,174.7 1062.5,139.3 1170.1,227.1 1151.4,247.4 1115.4,284.2 915.8,285.8 1158.1,129.5 1174.7,233.5 934.6,275.1 1055.8,163 1139.8,125.9 1123.7,309.4 977.4,212.9 1172.6,237.4 937.4,280.2 1083.4,143.4 1090.2,47.3 1041,294.8 954.8,172.6 1182.8,225.1 957,231.2 1041.2,311.6 1180,150.1 1047.2,121.9 1192.8,175.8 1111.5,135.3 1161,242.4 980.3,177.4 1098,141.3 1039.8,295.9 999,198.4 1204.4,136.6 1068.1,151.3 1188,163 1087.9,299.7 1160.9,120.1 1017.9,167.3 1068.9,314.1 1111.2,133.8 1000.4,191.6 1001.1,198.1 920.2,266.2 1050.3,146.3 922.6,294.4 961.9,183.3 1092,133.2 1179.7,207.5 1184.1,158.3 1083.8,293.8 1154.2,256 1162.8,132.6 939.8,265.7 1176.3,252.9 993.2,210 1041.1,180.8 1062.2,307.9 926.5,295.8 1186.2,249.3 966.9,221.7 1097.6,304 1153.3,130.9 1058.8,314.7 1173.2,269.8 1146.4,138.3 1025.4,162.6 1193.4,140.4 1119.3,282.9 915.3,195.2 947.6,301.4 1165.2,223.8 1024.2,189 1194.7,133.4 1085.3,309.5 1066.3,138.2 1020.3,162.2 1002.6,120 964.1,214.2 1138.1,133.2 979.2,213.7 1065.1,302 1191.3,247.3 1187.6,160.7 967.3,309.3 973.5,221.8 978,329.6 976.7,208.8 1102.8,289.2 1196.4,156.1 1088.4,150.2 984.6,202.7 1158.1,261.2 1027.3,195.9 972.8,217.6 1095.6,308.1 1072.1,298.1 1184.7,219.8 1023.1,299.3 1153.9,246.1 1174.8,196.5 1148.5,132 1009.2,319 1015.4,303.3 1049.3,169.8 1073.1,159.2 1043.5,293.1 1006.6,197.1 1139.1,280.3 933.2,287.4 1121.1,292.2 1043.1,178.5 1107.4,316.8 1135.4,299.9 959.5,209 901.7,238.9 993,195.8 998.2,197.5 1181.2,211 1118.3,288.9 1181.4,178.8 945.9,308.6 1174.1,217.7 1124.6,276.6 1187.9,187.2 1091.7,293.4 1179,183.1 1184.8,190.4 1009.8,176.8 1085.3,319.8 1043.7,298.7 984.5,312.4 1164.7,248.9 1053.5,327.8 1188.3,232.8 1161.2,132.7 934.3,251.7 1062.5,149.6 1004.2,177.2 1018.4,185 1189.8,207.8 1075.6,296.6 1042.7,154.2 1069.4,306.1 965.1,229.9 1072,319.7 1069.7,292.2 1127.9,130.3 1186,159.5 1037,176.7 1193.8,192.8 1181.9,199.7 1159.3,236.5 1139.7,323.2 948.9,182.4 1069.5,298.6 1111,128.4 1102.4,293.3 1185.7,234.6 1164.5,250 915.9,294.4 1110.5,299.9 934.2,280.8 1135.7,129.8 982.9,221.5 1185.3,207.2 1006.1,199.1 931.4,269.6 1010.4,201.8 976.8,224.3 1058.8,167.6 1163,234.1 1087.1,143.5 1171.8,216.7 965.6,306 1080.1,303.3 1063.8,147 1178.9,206 1185.8,213.5 937.7,250 1150.3,125.7 1044.3,176.4 960.9,227.5 1141.1,269.1 1135.1,110.7 1160,129.9 1158.4,240.7 937.4,289.3 952.6,200.6 955.5,240 1030,305.4 1040.1,155.9 1017.8,145.2 970.1,324.3 1179.8,119.7 1168.7,235.6 1161.9,244.7 948.3,240.7 1178.4,217.7 1042.7,147.4 988.7,196.2 1166.4,235.9 1154.8,261.4 1175.6,178.8 952.4,298.4 977.8,216.3 1034,178.6 1061.1,170.4 1154.8,119.7 995.8,170.9 1054,298.4 919.1,267.8 1134.3,119.8 949.5,226.2 921.6,293.8 1177.3,184.4 1152.7,263.5 914.7,284.4 1121.5,315.3 953.1,239.1 918.3,276.2 1000.3,164.8 983.1,222.4 1151.7,137.1 1167.7,206.9 1142.5,134.7 1187.5,252.3 974.5,316.8 1145.7,266.4 1177.9,199.7 964.8,304.5 1190.6,169.8 1183.3,192 1074,151.1 1025.3,297.4 1162.3,246.1 965.3,228.9 1023.9,309.3 995.1,211.9 1194.6,177.2 1171.1,141.5 1167.6,140.5 1175,146.4 1171.5,248 1173.6,147.3 998.7,211.8 1167,141.1 1122.4,131 1167.5,207.9 1047.7,177.3 979.2,197.7 1018.1,194.5 929.4,282.4 1194.8,192.3 1135.9,299 1139.1,137.6 1000.2,149.5 982.6,212.8 1064.7,165.1 995.3,304.9 1007.6,180.9 1181.2,198.6 1026.4,186.4 1080.8,144.9 1019.4,305.6 1118.7,281.7 1030,307.8 1164.2,221.7 975.1,321.7 1168.5,142.6 1086.1,291.8 1098,132.3 1131.1,271.1 1195.3,250 969.2,308.7 1073.1,123.8 994.6,201.5 1074.4,312.3 928,270 1175.7,125.4 962.5,118.2 950.3,248.7 1174.1,264.7 1190.7,162.5 1017.7,188.4 1147.9,126.8 1091.9,326.1 1047.8,173 1084.6,152.7 1036,180.6 1100.1,296.9 954.8,300.5 1134.8,283.7 1173.5,220.7 1060.3,292.5 1173.6,250.9 1108.1,294.4 1101.7,136.4 1072.1,294.3 1014.9,188.6 1117.2,296.3 1193.5,164 986.3,204.7 1119.4,288.5 1005,302.9 1172.7,211.7 1187.5,143.5 1164.1,219 1188.8,142.8 1030.5,302.2 1036.6,294 1106.5,303.3 961.1,304.4 1060.3,322.2 990.3,203.2 1119.4,313 949.3,243.1 1077.4,305.2 1190.6,192.6 1128.5,132.4 1136.7,273.5 1088.6,291.7 1018.3,177.4 1014.6,159.8 1050.1,174.7 1068.3,160.4 1118.5,135 1136.2,116.3 1149.2,265.8 1004.8,302 1018.2,335.4 1060,162.2 1187.4,203.7 1117.9,280.9 1177,157.2 1178.9,164.6 1038.8,184 949.6,321.5 1151.8,245.6 1146.8,290 1181.2,223.4 951.6,293.4 1051,301.2 977,209.5 1012.6,156.5 1044.7,298 1169.7,122.6 1035.7,307.6 1017.7,297 1171.9,128 1092.9,125.6 1056.4,161.9 1204.4,172.7 999.6,211.7 1052.9,133 1104.4,290.8 1120.6,133.4 1078.4,153.8 1204.4,149.7 1082.4,293.9 1200,160.1 980.4,308.3 1150,263 916.6,268.3 1166,138.5 1096.2,290 1189.6,220 1179.4,127.1 1167.5,145.7 981.3,220.2 1134,133 1186.5,133.6 1115.3,134 1059,158.4 1008.4,304.7 1143.8,270.3 1115.9,128.3 972.4,311.3 1159.8,128.6 1181.7,166.6 926.1,263.6 1025.2,194.8 1029.7,187.1 1082.6,139.9 932.2,249.6 1090.7,126.2 987,223.7 991,302.6 1099.3,299 1072.3,140.3 1164.5,244.2 1172.6,247.2 966.3,234 1169.8,247.2 1029,170.8 979.3,307.6 1204.2,158.2 1166.9,147.2 1081.4,153.7 1161.8,138 991.2,169.9 1172.1,151.9 1095.5,132.5 990.5,180 1080.7,133.3 1183.6,130.8 1024.4,164.2 1003.6,158.6 993.8,210.4 1093.4,305.6 1099.2,134 1195.1,165.4 995.5,186 1052.9,296 1173.4,176.3 1030.8,308.5 937.3,302.4 1141.7,123.5 915.3,298.3 1131.1,277.2 966.3,240.5 957.5,185 1179.9,211.7 1082.1,149.7 954.9,309.1 935.6,313.8 994.9,200.4 1026.4,185.6 1190.8,252 1191.4,195.9 1162.2,220 1004.8,311.3 1135.6,125.3 984.4,209.2 1081,153.5 1011.3,197.5 1182.6,167.5 1176.4,267.7 1161.3,127.5 1095.1,303.9 948.1,191.8 1126.8,129.5 1084.4,153.5 1187.7,219 1153,129.3 1088.5,125.2 1084.8,142.9 1170,260.6 1189.9,192.2 1051.2,302.3 1055.1,143.7 1028.6,195.3 998.3,314.7 1123.8,287 1079.5,149.6 1179.7,194.8 1090.4,311 1016.3,300.8 1170.6,155.1 970.6,304.8 1167.1,223 1022.9,194.9 972.4,304.6 945.8,297.4 1203.8,180.8 1101.5,136.7 1172.4,136.1 1201,141.5 1189.9,247.7 1201.3,153.8 924.4,249.5 1120.5,300.6 977.2,214.4 1147.5,267.6 981.2,214.2 1160,242.4 958.7,220.6 1128.5,133.4 949.4,250 1079.5,327.6 1059.4,299 937.2,252.8 1089.1,119.9 1075.4,302.9 1191.2,173.8 1078.2,311.4 1158.6,134.3 1181.2,265.7 1002.1,300 931.1,251 1190.9,206.7 1039.1,178.1 1191.4,252 1105.3,347.1 1013.4,133.2 991.4,305.6 934.5,285.6 986,213.2 963.3,229.4 1178.8,253.9 1029.2,397 1176.4,158.6 1028.9,174.6 1103.2,139.9 947.2,300.7 1111.4,140.7 1111.4,132.8 953.5,231.3 1032,177.1 1079.7,307.2 1043,304.7 1188.2,168.2 1009.2,162.4 940.2,225 1172.9,264.8 997,303.3 974.3,230 1058.6,175.5 988.3,213 1146.8,118.6 1112,287.6 1073.7,303.7 950.4,294.4 1072.2,314.3 1180.8,194.7 958.1,244.3 1032.6,295.1 988.1,310 1083.5,307.2 1149.6,133.8 957.3,308 972.2,214.5 1090.8,143.2 1167.4,141.8 1075.7,292.6 982.3,223.5 1067.6,294 957.8,217 1003.1,313.9 1013.7,199.7 997.1,204.2 1004.8,141.3 1159.8,132.5 1043.5,309.8 1059.5,173.2 1028,195.4 1075,309.7 1001.7,205.8 1049,301.5 1178.3,225.6 915.1,285.4 1021.6,147.4 1160.6,130.5 1144.5,270.2 1000.6,131.1 1015.3,316.7 1184.4,169.7 1072.8,318.9 927.9,272.2 942,170.4 980.8,313.2 1043,305.7 987.6,198.8 917.6,328.2 1150.2,134.5 1174.3,137 1167.4,209.5 1159.7,239.2 983.9,322.6 1064.7,127.2 1042.1,170.1 1124.5,289.3 1068.4,300.7 946.9,300.1 935.6,269.3 1071.1,154.7 1003.4,148.8 1109.2,310.4 1076.8,156.5 1034.1,296.2 961.8,318 971.1,229 1121.2,293.9 979.6,147.4 1138.4,272.7 945,290.7 1102.4,297.9 1179.6,198.5 1204,200.1 1134.5,134.4 1032.3,327.3 920.4,283 976.7,168 1192.2,247.2 1151.9,139.9 1074.9,137.1 961,319.5 954.3,234.7 1174.1,207.5 1059.5,169 1176.5,200.4 1045,180.2 943.5,257.6 1080.2,134.7 951.7,243.6 1169.3,141.2 1129.5,130 1175,256.5 1029.3,184.9 1196.6,192.3 1188.5,142.9 1056.2,149.6 1163.4,240.4 1042.4,310 1143.9,261.2 1050.8,175.9 958.4,300.3 957.9,301.6 1028.5,315.3 962,237.9 1178.1,222.4 1001.2,196.6 1083.5,298 1101.8,288.8 1180.3,176 940.8,233.4 1049.7,294.7 1172.6,250.3 1156.5,127.1 1172.5,189.5 1166,248.9 1162.5,136.6 1122.4,289.3 1164.7,252.7 979,306 1191.7,207.8 1097.5,290.3 1012,177.3 1164.1,272.5 1015.3,300.3 1074.8,321.7 930.7,295.3 1144.8,139 965.8,228 988.3,216.8 1092.3,298.1 1020,296.7 1129.5,133.4 978.7,311.9 956.7,204.8 1117,297.1 1128.9,281.3 1176.2,169.9 955.7,230.3 1189.4,176 1114.3,283.2 957.4,236.5 1159.6,132.2 1049.8,169.2 1021.2,297.1 1014.7,303.2 924.6,260.7 1104.2,291.3 1059.3,313 1197.9,127 1184.6,139 1175.7,217.2 932.8,252.1 1063.1,297.4 1055.2,316 1002.9,309.2 1195.9,200.1 1180.7,156.2 1182.5,149.3 1133.1,279.9 966,313.2 1049.1,177.6 1170.5,140.8 1198,182.5 1036.8,166.9 952.5,315.5 1173.1,261.6 1042.3,172.4 1170.8,134 1168.3,140.7 1014.3,321.2 1071.3,122.2 972.3,220.6 1149.5,257.4 1174.3,220 1187.6,148.7 1113.6,289.4 1178.1,161.3 947.9,246.4 1061.2,146.1 1020.1,301.7 1061.6,135.3 1116,132.6 933.4,243.5 927.4,296.7 1190.4,206.6 1090.8,325.3 1045.5,180.4 1030.3,294.6 961.5,211.3 1175.5,177.3 1098.7,135.6 1030,303 1166.6,130.3 1004.1,309.3 1049.1,174.2 931.3,255.4 929.3,310.5 1067.6,142.1 1173.8,128.5 1153.9,281.9 1085.8,132.2 1027.8,169.7 1108,315.2 948.3,304.8 1149.6,132.7 1011.2,182 1134.8,136.9 1171.2,239.1 1004.7,209 915.8,268.4 932,271.7 1076.5,135.3 1109,124.1 1091.7,113.1 965.7,238.1 1024.8,161.7 1163.8,222.4 1192.4,170.9 953.2,297.2 944,298.4 1033.4,186.3 1138.4,121.8 940.3,243.7 1101.1,291.5 1152.5,255.3 1188.2,147.1 1016.9,147.3 1002.2,304.8 1180.7,192 1060.3,163.6 1148.4,258.9 1101.7,138.6 1076.6,297.4 1051.2,305.6 991.5,191.4 1168.6,210.8 950.8,245.3 1023.5,183.6 1122.5,278.7 989.7,322.9 1200.8,183.7 1164.9,240.4 956.7,225.2 1180.7,178.5 964.4,133.6 1077,302.2 955.4,242.1 1185.6,208 1069.8,303.4 1180,177.6 958.8,218.6 992.3,303.2 1124,107.7 998.8,211.5 979.4,185.5 1069.1,320.3 1176.2,225 917.8,274.5 1128.7,128 1159.3,279.6 1078.3,315.9 1147.6,261.9 1144.5,123.4 1193.2,172.7 1164.6,220.2 982.9,217.9 1170.8,199.4 1120.5,280.4 1168.5,147.4 949.9,295 1145.1,265.1 1163.2,216.2 934.9,230.7 1115.8,129.5 1107.6,297.3 1164.8,220.3 1071.7,292.6 1022.2,179.5 1140.8,278.7 1166,237.7 1006.5,159.3 1074,162.7 1196.6,235.4 1156.1,237.8 940.9,261.3 1168.6,263.1 1032.7,185.9 1031.3,175.7 1158.3,252.1" fill="none" marker-start="url(#mk)" marker-mid="url(#mk)" marker-end="url(#mk)"/>
<path d="M984.1,298.1 1156.5,226.6 1136.2,141.2 1059.1,278.3 1098.4,153.7 1119.7,271.8 947.3,277.7 1127.6,137.9 1134,265.6 1092.5,281 985.9,238.9 1034.9,196.1 1119,139.6 1090.9,286.5 1097.7,275.4 1102.4,157.8 1002.8,287.9 1097.9,281.6 1164.3,150.7 1150.1,228.5 1056.1,280.2 1152.6,210.5 1141.3,237.9 1159.9,182.6 1155.7,195 1126.2,267.2 1148.4,144 1076.5,283.9 1006,293.3 972.3,251.1 941.7,266.6 1063.1,170.5 1133.7,137 1016.2,295.7 960.2,295.4 984.9,293 1025.9,212.9 972.8,300.7 1082.8,174.1 964.9,245.6 1008,223.1 991.3,239 1031.5,210.4 1145.5,145.9 997.2,225.1 995.5,293.2 981,292.3 1090.8,163.3 1085.3,153.1 965.2,285.6 1003.4,293.7 1082.7,171 956.8,287.3 1063.1,186.3 1010.7,283.5 1151.4,229.9 980.4,289.9 1065.6,183.1 1127.5,141.7 1023.1,283.4 952.4,272 972.2,253.1 948.6,253.1 1020.1,216.3 1087.4,283.5 1156.8,170.5 969.8,297.4 1146.8,251.6 1123.2,275.1 1079.4,172.5 955.7,250.3 1016.5,282.1 1015.1,203.4 974.5,251.3 1102.7,159.3 1100.2,279.6 1119.2,142.6 1162.6,166.4 982.5,300 1154.9,161.1 986.3,301 1135.7,262.3 1009.7,213.8 995.9,236.5 1015,294.8 986.1,223.1 1094.6,156.4 1110.8,279.6 1021.6,286.6 1160.4,173.8 1157.5,198.6 1112,275.6 1007.8,294 1015.4,219.9 1035.8,208.6 1155.9,166.5 1157.3,200.3 1150.1,232.7 974.2,290.6 1070.8,179.8 1130.4,140.2 1148.4,234.5 1118.1,268.1 958.9,262.8 960.9,248 1159.5,181.5 1069.8,176.6 1013.3,219.1 1154.9,224.6 1157.9,201.2 1125.9,144.7 1087.5,281.3 1157,184.4 1060.7,184.9 1044.8,279.2 1061.7,190.3 1114.4,268.2 1056.4,278.5 1053.3,197.2 945.9,281.5 1029.7,292.3 951.2,290.6 1027.6,282.2 1017.5,283.3 1055.8,289.7 1040.4,279.7 1054.9,279.7 954.1,286.9 1012.6,211.7 973,290 1091.7,164.9 1027.6,291.4 1082.2,170.6 1067,178.5 1140.6,254.7 1124.3,258.7 952.6,275.2 1130.6,253.5 965.5,288.1 1043.8,290 1155.4,198.5 1166.9,154.4 1087.3,284.3 1067.5,282.1 1002,220.5 998.4,220.9 1034.4,286.8 1090.3,163.4 1106,159.3 1134.4,254.8 1053.2,282.4 1017.8,284.6 955.6,292 1137.1,145.5 995.3,233.2 1001.5,296.2 1109.4,274 1053.8,289.8 965.5,256.6 1014.6,214.2 1063.8,278.6 1071.9,170.3 1150.5,231.4 1007.3,285.7 991.9,236.1 995,229.9 1104.9,153.8 959.2,284.4 1088.1,156.6 1048,177.5 1148.9,231.2 956.3,259.2 1140.1,246 1045.1,187.8 952.7,259.5 1059.8,293.2 1041.4,289.2 1073.8,278.2 1008.3,223.8 1147.5,248.6 1080.2,175.4 1165.5,149.1 1165.4,204.8 1006.8,297.9 1160,178 1158.4,217.7 952.5,260.8 1106.1,156.4 1160.1,170 1133.8,262.4 948.4,255.7 1105.1,274.6 1152.1,157.7 1042.5,183.2 1110.9,149.4 1019.7,202.9 1134.2,146 1150.3,159.8 946.2,261.7 1150,217 1133,267.6 1048.2,290.8 1128.6,261.2 1133.2,148.9 1144.1,251.2 961.2,293.8 1168.4,186.9 1008.4,204.2 1005.4,227.8 1068.9,182.6 1025.4,204.3 1053.3,177.5 959.3,261.2 964.6,257.9 1167.3,156.7 1069.3,177.5 987.6,299.9 1088.2,278.7 1128.7,150.8 1104,273.3 995.9,231.7 1156.5,210.9 1082.5,174.5 1101.2,274.3 1051.7,191.7 1101.1,145.8 1023.5,215 1113.3,281.3 1084.6,280.4 1049.1,191.3 1002.1,229.9 975.2,252.5 1063.1,176.8 1131.9,266.5 951.6,265 1159.6,189.8 995,288.3 953,262 1010.4,283.6 1067.8,285.1 973.2,288.9 1114,155 1145.9,240.5 1054.4,192 1032.7,290.3 956.2,253.6 982.9,241.7 1084.1,168 955.1,255.9 1115.8,271.5 994.9,300.3 952.1,279.7 983.6,290.4 1166.1,159 1027.4,292 1068.5,187.8 946.3,287.7 1067.7,281.3 1087.8,286.8 1139.3,246.2 954.5,289.3 1133.7,142.2 1025.6,212.9 1043.5,190.4 1136.3,263.7 978.1,290.5 1041.5,197.4 1143,235.5 1166.9,197.7 954.4,279.7 990.7,241.7 1017.8,217.6 1161.3,149.5 1121.4,260.1 1126.8,142 1028.1,207.1 1003.3,226.8 1040.8,195.2 977.4,289.5 974.5,237.4 1163.2,191.3 1110.8,281.7 1156.7,213.4 1000.8,221 1128.7,145 1092.3,155.1 1164.5,148.8 1004.4,290.9 1001.1,231.3 1169.7,163.6 1073.2,288.6 1094.7,152.9 959,244.6 1161.6,192 1164.5,153.2 1125.4,145.2 1145.5,227.7 1161.8,180.8 955.5,284.5 1158.1,183.1 1015.6,296 1111.6,267.7 995.7,231.4 957.2,255.4 947.9,277 1028.3,284.8 1029.7,196.8 1159.7,198.2 1153.2,147.2 990.4,230.6 1152.3,234.7 1107.3,156.3 1025.4,211.3 1039.5,285.8 1040.9,188.2 1100.5,277.3 1074.5,278.1 1120.6,144 939.2,277.8 1040.6,188.5 960.1,262.1 1030,283.6 943.6,280.4 1131.7,135.8 1065.2,285.4 1014.5,288.8 1033.5,208.3 1054.3,194.7 1051.6,179.7 1148,244.7 1168.2,166 1020.6,198.7 1162.7,149.8 971.6,291.5 1032.4,195.1 1052.4,196.1 1039.9,280 1163.6,158.2 1125.7,146.1 1139.2,239.7 1042.7,202.9 1004.6,286.7 1030.7,288.1 962.2,289.7 973.9,233.9 1084.7,277.9 973.8,242.6 1072.5,278.7 1089.7,161.6 944.2,270.5 1043,278.9 956.9,263.8 1142.3,246.9 1067,180.9 1112.4,149.2 1168.9,157.7 1045.4,196.1 1024.6,281.9 1090.8,274.8 1168.5,184.3 1068.3,277.9 1113.4,148.4 979.3,226.1 941.5,280.8 1157.6,144.6 968,290.4 1073.7,290 995.6,236.6 1062.7,180.2 963.1,294.9 1090,276 1001.3,228.8 1119.5,263.3 1138.9,249.7 1168.1,167.8 999.6,290.5 1011.1,224.4 976.7,296.9 1089.6,288.5 971.6,297.3 1171.5,175.4 951.2,254.4 1147,249.7 1026.1,213.4 1112.5,144.4 1015.7,202 1155.1,205.3 1083.8,167.9 1064.7,280.4 962.5,258.5 991.3,241.8 1161.3,164.2 1144.2,242.3 1162.6,154.4 1001.7,289.5 1002.8,223.1 1040.2,204.5 1164.6,177 1063.9,288.4 1145.5,227.8 1126.7,269.4 1015.9,295.9 1036.8,293.8 1057.6,192.5 1060.2,193 1158.9,186.3 1009,297.2 1163.7,177.1 960.5,300.3 998.5,215.1 1135.7,267.3 999.4,224 1003.4,211.7 1077.6,278.8 1045.7,191.9 951.2,270.8 1158,145.1 996.4,299.8 1151,219 1024.5,209.4 977.3,249 966.1,286.2 953,266.1 1120.1,138.5 954.7,249.8 1092,150.7 1082.2,172.1 1081.6,279.4 1084.5,284.6 1064.1,279.2 1125.4,260.1 1125,142 994.6,212 985.6,288.6 1063.6,179.6 1164.7,206.7 1159.5,195.5 946.1,270.9 1087.3,158.7 995.5,288.3 1096.5,161.9 981.3,290.5 1019.3,212 1028.7,211.8 1113.9,265 1130.4,148.5 1078.6,287 1113.2,275 1065.5,180.3 1055.6,195 1105.4,281.5 964.3,290.5 945,282.1 946.6,284.1 1009.5,283.8 1071.5,183.8 976.9,228 1075.2,291.2 1133.9,147.2 937.5,275.5 961.1,290.1 1062.3,279.8 1019.5,293.4 1088.2,279.7 990.1,211.4 1005,215.9 961,250.8 957.1,283 983.5,302.6 1084,279 981.9,289.4 1106.1,278.1 1103.7,277.6 1032.7,204.7 1020.5,200.3 1005.4,287.9 999.5,292.2 1034.2,294.9 1087.2,285.5 1145.5,240.9 1174.9,168.6 1043.6,187.4 1051.3,278.5 1037.9,200.2 951.9,279.3 954.4,258.7 1060.7,187 1139.8,253.7 984.2,237.1 1031.6,197.8 1124.1,144.7 1144.5,151.1 1040.3,284.9 1126.4,139.9 1097.2,286.7 948.1,276.7 1007.4,221.2 1119.6,272.8 1158.8,189 1049.4,289.1 1023,287.4 1028.6,202.8 1019.1,283.8 1086.8,163.9 994.3,237.1 1006.8,287.8 1146,139.5 951.8,265 1157.6,210.6 1027.4,204.2 1163,170.4 960.4,255.6 1038.3,278.7 947.2,273.5 1107,274.5 1028.1,205.9 1023.6,199.8 1145.7,148.3 1158.5,217.9 995,289.1 1169,192.5 1121.6,263.6 1064.8,291.2 1001.8,227.8 1149.6,145 1148.3,238.8 1064.4,177.4 1090.9,284.9 986.2,291.9 1036.4,205.9 1091.8,273.9 1079.4,169.4 1140.5,252.1 1151,156.4 957.8,266 1138.3,239.7 1035.2,204.8 1121.2,261.8 1166.8,182.9 1001,232.8 1120.7,144 1138.5,240.1 1100.4,276.2 992.8,210.2 1053.5,191 1044.2,289.9 1018.7,282 1045.9,194.3 1037.7,187.3 1030.3,206.8 960.4,262.7 1081,171.7 969.1,239.4 1124.1,151.7 1042.9,287 955.6,281.2 1152,203.1 1095.4,164.1 1022.1,215.1 1083.5,159.6 994,296.2 1131.7,269 1168.7,188.1 1155.7,142.8 1158.2,187 962.2,251.4 1163.6,181.3 1026.6,293.2 1080.7,168 1138.3,247.6 1173.6,162.5 1154,202.2 1037,200.3 1046,193.7 1033.4,208.3 1038,199.7 1099.8,157.1 1123.3,272.2 1162.8,174.1 1168.8,160.5 963.4,252.5 971.5,295.2 1155.3,165 1016.4,217.1 979.2,239.3 1099.4,155 1033.4,208.3 972.3,288.2 1023.1,206.3 948.4,288.4 1164.1,180.1 1169.3,179 990.3,292.3 953.6,266.3 999.9,227.8 1135.8,252.8 1119.2,270.5 1131.5,146.3 980.2,246.8 1160.6,208.1 1067.5,186.3 1089.1,155 1068.1,177.2 1163,206.5 1156.1,224.5 1091.4,279.2 1158.5,197.6 1096.8,156.5 1157.4,185.7 977.4,289.8 952.7,284 1102.8,281 1115.1,154.5 1056.1,291 1132.8,253 1087.7,160.2 1104.3,154.2 1132.2,256.1 1129.3,256.1 1137.4,151.6 972.3,287 1068.1,286.2 1094.5,286 1097.3,155.6 1132.7,257 1154.1,141.4 1009.4,210.5 971.2,247 1126.1,149.9 969.8,302.1 1058.8,191.4 1076.3,292.2 1165.1,198.9 1170.9,178.8 1046.6,290.1 1148.9,219.9 956.3,250.2 1006,296.2 953.9,255.1 1141.8,243.7 1157.6,197.3 1097.1,287.8 1163.7,210.8 1146.3,250.4 1090.9,166.2 945.4,278.9 1080,284.4 1069.4,290.1 1105.2,276.1 1072.8,180.8 1126.2,269.3 1156.7,215.4 1002,221.9 1049.3,288.6 1096.7,279 1148.5,242.3 969.3,300.7 939.3,278 1158.1,161 997.8,231.6 987,233.1 1161,178 1144.7,229.4 994.8,296.4 1157.7,184.4 1013.8,284.1 1144,240.4 1152.7,219.9 1122.6,273.5 1149.1,219.7 1111.7,155.2 1128.9,264.4 1124.9,151.8 1034.4,208 1016.1,291.9 961.1,299.6 952.5,269.9 1113.7,137.1 1002.9,224 1046.7,283.3 1126,146.2 1140.8,255 1177.9,168.7 1152.9,207.1 957.3,285.8 974.2,249.3 1113.7,267.1 1126.9,268.6 1095.4,279.3 968,247.4 987.8,229 1129.2,137.1 1010.9,285 1032.6,288.7 957.7,291.4 1040.8,288.2 1158,193.8 1113.9,279.6 978.1,235.7 950.4,289 1173.2,157.7 1023.5,281.8 1148.6,233.9 1018.3,217.7 1119.8,267.9 1119.5,264.1 1120,277.4 1168.6,183.5 1153.5,229.6 982.1,293.6 1007.2,291.7 959.8,290.6 1082.6,167.8 1032,293.2 1120.4,139.2 1045,189.7 1143.1,234.9 1094.3,152.2 970.6,250.2 996.1,227 1065.6,288.8 950.5,277.4 982.2,233.9 956.2,263 962.2,248.6 1038.6,206 1151.4,141.5 959.3,286.3 1004.1,294.1 1076,170.7 1078.5,278.6 1096.8,283.1 1067.8,173.8 1158.7,203.4 1135.3,248.2 1005.9,291.3 1002.1,293.7 1158.1,164.2 1151.5,245.1 1001.3,231.6 959.5,255.4 947.5,278.2 990.3,296.8 1002.2,221 1139.9,250.9 1151.8,223.7 1011.3,215.8 1014.3,282.1 1152.2,229.3 970.8,256.8 1164.8,181.9 1158.3,205.7 1161.6,167.2 968.1,257.3 1091.4,273.7 1162.2,160.9 1128.7,147 1171,184.6 1055.5,195.4 986.3,289.6 970.8,294.1 1149.5,155.2 1074.7,172.8 990.6,227.5 1175.5,180.7 1156.6,147.9 1130.9,265.6 994.8,223.5 1024,282.6 1128.9,273 961.1,283.7 1015.4,288.1 1131.8,143.3 1138.9,249.7 1161,200.9 951.3,278.3 1067.2,283.1 959.1,293.6 1098.3,153 943.6,280.4 1098.6,281.4 992.4,299.7 1154.8,198.6 949.1,266.9 1119.6,263.5 1126.8,142.2 1165.6,182.8 1152.1,236.4 1135,260 960,288.8 1021.5,198.9 1096.8,278.2 1079.5,175.4 1082.5,286.5 1110,146.6 1088.1,281.4 944.5,256.6 1132,252.8 959.5,259.9 1056,194.1 1084.6,171.7 944.6,268.6 1097.3,160.7 1065,189.2 1046.6,201 1166.5,197.4 1141.9,243.1 1136,135.5 1096.5,164.2 1160.6,215.4 1155.9,231.6 1109.2,150.9 1001.8,220.3 1050.4,285 1139.1,239 1075,277.6 1001.7,291.5 1158,156 1021.2,210.9 1036.4,203.4 1021.3,197.3 971.7,246.6 1111.7,272.2 1011.5,215.6 1118.4,264.9 990.7,302 1061.4,289.4 1027.2,281.4 1146.6,231.2 1012.4,205.7 1004.1,217.9 1086.6,168.2 993.5,288.4 1065.1,170.6 1088.3,281.9 1115.4,265.4 1115.6,277.6 1001.1,289.8 1007.6,208.6 977.7,226.9 1095.3,165.5 993.1,299.3 968.2,243.5 1100.7,162.3 1008.5,212.9 1085,285 1151.5,217.1 1166.4,199.7 1029.5,284.9 1078.7,288.7 1106.7,152.6 1024.2,192.9 1018.2,217.6 1104.9,287 1061.1,288.6 960.1,255.3 1145.3,243.3 1157.1,160.6 1042.4,189.3 1018,216.4 1052.2,192.6 965.1,286.7 1138.2,250.1 1016.9,297.1 1159,147.8 969.8,254.8 946.8,284.9 1026.9,284 974.2,298.5 985.5,236.9 1029.6,192.2 1124.4,260.4 1070.8,183.3 1133.6,261.8 960.2,257.9 1156.1,212.2 1134.1,151.4 1146,153.4 1056.9,178.9 1095.8,276.9 1166.5,171.4 954.1,256.7 1014.4,287.4 951.1,296 1169.3,163.8 1038.1,197.3 1006.1,294.1 1137.6,148.7 936.6,268.3 1068.3,185.1 1158,174.8 1013.8,294.6 938.1,277.3 1073.2,175.5 981.9,293.3 1051.8,282.9 972.1,237.1 1149.1,235.5 1090.7,168.9 945.1,278.7 1114.5,268 1156.5,154.9 1022,216.9 1146.9,235.5 1144.4,234.9 1117.2,153.2 1005.5,222.1 967.4,291.3 1076.3,282.7 1071.6,162.7 1154.1,223.1 1057.9,188.5 1000.4,214.4 1125.2,259.8 1092.9,163.9 1051.8,199 1148.5,150.7 1084.1,157.8 1047.7,192.3 1153.9,235.5 1005,290.2 1060.9,193.3 1169.7,152.6 1042.8,279.3 1137.1,264.5 991.7,300.4 1159.3,207 1125,278.4 961.6,254 1033.8,194.1 1050.2,196.6 1055.8,194.6 1154.1,160.9 1079.2,169.7 943,279.7 1142.1,152.4 950.6,288.3 993.9,224 1142.6,150.2 1113,267 1134.2,254.7 1020.4,204.2 1037.5,285.2 970.6,291.9 988.7,236.5 1135,264 1019.7,282 1079,170.3 1155.5,196.8 963.1,261.5 950.3,270.5 1000.4,300 1046.5,199.8 1158.2,182 1023.8,283.1 1168.3,173.2 1123.3,263.3 988.5,295.4 1007.5,216.7 1147.3,243 1037.2,282.2 1070.5,170.1 1166.2,182.4 980.8,297.3 1126.8,150.8 1047.7,201 1167.1,162.8 997.1,291.9 1022,283.9 1030.4,281.3 1164.4,149.1 1160.8,176.6 1142.2,242.2 978.7,241.4 1002.5,289.6 1101,287.1 1005.1,211.6 1039,203.6 1036.2,196 1113.3,138.1 1153,156.4 1103.3,277.4 1026.5,205.2 1154.6,239.9 1097.1,152.1 1100,148.7 941,274.7 1096.3,161.9 963.1,260.5 1034.3,295.5 1148,238.4 1161,201.4 980.2,245.9 1001.1,291.1 1058.8,286.7 1165.3,185.5 1068.4,180.1 1097.4,160.1 1130.8,253.9 1089.3,278.2 1102.4,153.7 1115.9,147.3 979.6,291.3 1134.1,262.8 961,300.2 1005.8,289.8 962.8,253.1 953.4,268.4 1023.4,202.9 990.7,294.4 1099.8,159.3 1162.9,183.3 979.1,290.8 1020.4,211.2 1060,289.3 1084,172.7 1048.3,279.8 1001.2,212.3 1054,193.1 1009.5,223.7 1163.7,178.9 1092.2,276.5 1051.3,280.4 1017.1,218.3 1096.9,144.6 1107,146.9 1025.4,287.7 1156.1,197.3 1071.1,281.3 1032.2,197.2 1038.5,194.9 1011.9,290.4 940.1,273.6 1132.2,250.2 1113.8,270.6 942.6,265.2 1065.5,180.3 1001.2,222.5 1051.8,283.4 1158,196.4 1144.2,250.4 940.3,280.2 1097.3,275.2 957.5,286.2 961,251.2 951.6,264.7 1038.8,294 1030.7,294 1137.2,148.3 973.8,232.3 944.5,278.9 1159.1,153.3 944.6,261.9 1004.9,225.2 966.4,255 1005.3,286.4 1120.1,149.1 1148.6,142.8 1055.2,178.4 1177.2,181.3 1147,155.1 1001.6,287.3 1034.7,204.3 983.9,234 1056.1,285 1009.8,218.6 1049.9,280.8 1080,278 1000.2,298 945.7,278.5 1163.2,213.8 1047,197.3 1019.1,202.9 1147.9,245.9 1057.3,178.3 1100.4,275.5 1166.5,171.3 1087.9,157.8 1037.7,292.8 952.4,282.4 1136.2,247.5 955.9,258.7 1132.2,250.7 1035.1,201.2 1039.5,198.2 1031.4,286.1 1090.4,284.5 1073.4,279.4 1056.1,280.8 1167.9,195.4 1093.2,274.1 1043.4,202 1028.8,291.2 1140.9,241.7 1003.2,299.3 1092.7,155.2 1163.8,179.6 1129.5,259.8 1144.6,230.5 1173.8,170.4 949.1,267.1 953.6,260.7 1157.1,176.3 956.9,249 1150.7,211.3 946.9,272.6 1140.4,258.4 1171.2,154 969.9,250.5 1169.3,179.1 1078.4,166 1001.8,230.1 1146.7,226.3 1009.3,288.5 991.9,235.1 1022.7,205 954.6,260.4 954.8,259 984.1,232.8 962.2,254.9 1163.7,166.1 1086.4,152.8 974.4,298.8 956.8,281.9 1155,148.7 1157.7,201.9 1082.9,281.9 1123.3,141 1142.6,153.4 1109.2,274.6 1149,228.2 1055.9,178.6 1122.3,141.2 1139.3,252.4 954.4,292.4 959.9,291.4 1160.6,175.1 1035.9,194.7 1133.8,250.8 1130.2,261.6 1137.2,150 1039.3,288.3 1032.6,279.7 1157.7,205.6 1097.9,155.1 1158.1,227.2 1153.4,220.5 1056.7,288.5 1064.5,187.7 1153.8,218.1 1032.7,204.9 1120.9,262.2 1143.9,243.9 983,247.2 1166.3,168.2 1015.9,283.8 1099.4,154.5 966.4,246.9 988.6,225.4 1141.5,246.5 1130.5,151.5 1110.4,145 991.6,300.3 1144.4,145.7 1170.7,189 1161.7,147.3 949.8,269.3 1149.3,147.5 1041.9,291.8 956.7,262.4 969.9,242.2 981.5,293.1 1097.8,160 945.2,264.4 1110.9,149.1 964.1,244.6 1117.1,140.6 1167.1,188.4 1043.1,284.8 1076.1,282.5 1032.5,199.6 1097.7,275 1037.6,288.6 1130.1,268.6 950.9,266.7 1039.8,278.6 945,275.5 1088.7,279.2 955.6,264.9 994.4,296.6 1168,191.6 1154.3,232.5 942,257.3 989.3,237.7 1163.8,147 1100.5,142.3 1158.7,228.8 1081.8,167.9 1073.3,174.3 1149.2,234.7 1153.8,235.2 947.1,254.5 1051.4,191.2 1159.4,155 1167.8,184.9 1009.8,288.2 1031.8,280 1049.1,199.3 1033.1,203.6 1069.5,169.3 996.4,298.2 967.8,247.9 1057.7,288.6 1151.3,208.9 971.9,250.4 1069.2,282 1138.6,142.7 1013.3,215.3 1067.9,172.5 1000,227.1 1151.8,217.4 1061.2,182.1 1080.7,283.2 1122,260.4 977.7,248 1113.2,155.1 1167.7,181.3 1075,287.9 1165.3,205 959.6,287.4 998.9,301.8 1008.2,214.1 973,247.1 1005.9,210.5 1022.3,213.4 1160.7,209.5 982.6,221.2 1093.7,281.1 1032.7,208.2 1146.3,145.6 1039.4,199.6 1166.2,196.1 988.5,295.9 1161.5,165.7 1007.7,211.9 1147.8,233.2 1116.7,154.1 992.6,218.8 1098.2,151.4 1149.3,214.3 946.5,256.5 1080.1,165.9 1173.1,154.4 1016,291.3 1008.2,215.2 956.3,281.7 1000.6,231.1 1062.3,188 1133.9,146.3 1023.1,214.7 1148.4,145.8 1015,206.2 988.1,288.3 984.2,242.7 1083.2,165.1 1035.2,207 987.7,291.3 1118.9,264.9 1078.5,289.9 1157,192.9 992.4,303.2 950.1,277.8 1054.3,280.3 1057.2,193.8 1082.8,174.6 980,299.5 985.2,245 966.9,290.7 1075.3,178.7 1128.9,271 1060.9,285.6 975.3,236.7 1043.1,192.8 1109.3,269.4 1003.8,225.2 1018.9,214.8 1042.7,285.7 1159,220.4 1131,253 1159.5,200.5 1099.8,275.7 1123.8,270.9 1142.4,147.3 1047.8,279.9 1114.4,267.1 947.2,277.4 1136.8,244.9 970.3,287.1 1056.6,179.8 1048.4,199.2 1066.3,185 1095.5,165 964.6,257.7 1076.6,281 1025.4,282.2 1089.5,275.6 988.6,223.2 1152.2,232.8 1148.7,156.6 1003.9,297.6 984.6,226.8 1146.6,244.1 959.8,287.2 978.1,292.7 946.6,259.8 992.5,216.9 1028.1,203.5 1010.8,287.6 1177.1,159.4 1014.5,283 1072.5,173.1 1101.4,161.7 1150.4,149.6 1139.8,139.4 1124.8,258.1 954.9,284.5 1122.3,147.6 1087.9,278.3 1104.3,273.8 1063.2,278.1 1143.8,146.6 945.9,277.9 1016.7,282.1 1065,187.1 1039.3,201.5 1124,265.6 1125.5,149.9 1056.8,193.6 972.4,294.3 1079,172.2 1084.3,161.2 1029.2,285.5 1032.1,289.4 1154.7,221.6 1006.2,286 1054.6,188.1 1118.3,264.4 1016.6,295.9 1148.1,246.4 953.6,280.5 1075.8,277.1 1164,152.7 1125.2,258.8 988,219.4 1157.2,208 1114.4,149.2 1014.1,221.1 1159.7,177.6 1041.9,199.6 1114.8,140 1082.8,168.3 1055.3,285 956.1,249.7 1061.2,177.3 1024,210.2 1076.6,168.1 1023.4,199.2 1157.7,203.9 1053.1,291.3 950.1,272.3 1145,257.6 990.3,232.9 1155.3,220.3 1042.2,291 1138.5,264.9 1019.8,213.3 1114.5,268.9 1053.1,196.4 957.2,263.1 1059.5,289.9 1118.5,263.7 1147.2,223.9 1151.2,243.9 1114,147.3 1007.8,289 998.7,230.6 1028,281.8 1017.1,283.9 979.7,289.8 1154.7,194.5 1155.4,202.4 958.5,256.8 1146.4,152.5 1149,228 1079,276.5 1091.1,279.2 1105.3,271.4 960.5,284.9 972.3,245.4 1120.2,152.4 1095.2,160 992.1,233.4 1104.7,272.5 961.1,262.3 1125,150.9 1155.9,225.2 963,251.8 1044.4,202.9 1059,188.7 1085.8,283.6 1042.6,282 1076.8,283 1001.6,286.3 960,293.3 1050.9,185.7 1162.7,192.9 947.9,273.6 977.7,235 1121.8,139 1073.5,182.2 960.4,258.2 1164.2,145.7 1071,281.5 1062.8,282.1 1004,228.5 1060.6,192.9 1008.6,216.1 981.5,229.7 1157.6,175.3 991.9,238.2 1045.2,188.2 1026.4,198.5 1171.9,158.2 1096.4,160.5 1067.3,277.8 963.7,246.9 1107.8,281.6 1109.6,277 1074.2,278 959.4,263.4 1087,281.7 984.7,239.8 1116.5,138 948.6,276.8 999.7,221.4 1140,144.8 1145,235.7 1018.6,290 1151.7,206.6 1062.4,287.4 950.4,274.5 951.5,274.1 1001.5,206.2 950,277.5 988.7,295.3 1056.8,196.4 953,252.7 1014.9,290.8 1113.3,271.2 1076.6,168.5 974.9,294.8 1080.5,286.7 1118.6,137.6 1118.9,266.4 964.8,288.7 1080.1,284.5 1131.1,148.4 987.8,293.6 1086.4,154.6 1053.3,190.9 969.3,293.3 1057.4,291.6 1168,179.4 1166.4,190.7 1029.5,199.2 987.8,292.6 1015.8,214.6 1156.3,197.4 1073.3,179.5 1161,188.1 1092,275.3 945.9,270.8 1128.5,151.6 1160.2,201 1065.7,178.2 1051.9,189.8 1140.9,238.3 1116.2,263.4 983.9,229.7 970,299 1120.3,149.3 1013.9,216.1 1156.5,188.3 948.3,272 1145.6,235.2 972,249.5 1142.5,243 1032.3,284.8 1005.2,228.4 1054.5,185.2 990.7,238.8 995.3,298.9 1062.3,174 960.9,283.1 985.4,219.3 1071,178.5 999.8,292.5 1019.9,204.6 1148.6,152.6 1140.9,258.8 1023.5,215.8 1094.6,153.1 1163.6,178 1095.9,285.2 1026.4,287.7 1136.6,248.4 972.2,231.9 1060.3,287 1077.3,277.5 1024.4,210.2 949.2,263.2 964,245.4 1019.3,208.2 1073.4,175.5 1153.3,228.3 1007,294.8 1087.3,154.5 962.9,254.5 977.1,227.3 957.7,280.5 1151.3,153.3 1083,168.8 1018.6,286.5 1068.6,278.1 1044.4,191.2 1063.6,180.2 1144.1,246.6 985.6,298.2 1073.3,182.3 1118.2,262.2 1035.7,192 1143.7,149.2 983.4,245.1 949.3,261.4 1168,151.2 1052.7,179.2 1005.6,212.2 1134.6,261.6 966.8,251.8 1026.5,202 1150.4,242.9 1150.6,150.7 1134.9,258.9 968.8,290.1 963.3,294.3 1050.3,189.1 1138.1,248 955.1,293.8 1149.3,234 1108.6,154.9 1136.8,247.9 1089,153.5 942.7,262.7 1011.2,286.2 1023.7,285.5 1037,205.9 1151.4,233 991.2,291.7 1149.6,148.7 1147.2,252.2 1136.6,146.3 1102.8,160.1 1016.1,200.6 1078.2,286.4 1152.7,161.9 1116.9,271.3 1002.2,295.5 1077.2,174.8 1113.8,153.8 1109.8,272.2 1060.3,284.3 1037.6,289.3 1123.7,259.5 1129.3,138.8 967.3,287.6 980.1,291.7 1133.9,149.7 994.6,288.4 1066.4,174.5 1023.1,214.6 1017,218.2 1027.7,294.6 1064.1,187.8 1088.2,160.2 1131.3,261.8 1126.9,147.5 1046,195.1 1012.4,297.3 1154,232.6 1040.1,195.2 974.6,252 1149.2,241.8 1144.1,152.4 968.9,255.1 1164.1,207.9 972,288.9 1117.1,264.8 963.3,297.6 1047.9,279.4 1099.9,279.1 1069.3,285 1092.1,165.4 948,266.3 1049,182.4 1157.9,209.9 980,240.6 1029.3,288.3 1073.9,179.1 1113.4,141.3 1167.2,155.5 1139.7,150.9 996.7,299.9 1102.6,271.2 1091.1,161.7 1077.3,281.9 995.4,221.8 988.8,299 1057.9,188.6 1100.7,159.6 1055.7,285.9 1158.3,198.9 1030.1,203.6 1037.7,205.7 979.5,293.8 1159.6,217.6 947.3,271.7 955,257.3 1093.7,286.1 1080.3,161.9 988.9,233 1137,246.6 1141.8,242.1 1036.7,205.1 1167.5,177.8 966.4,246.5 1082.7,282.7 1000.4,296.2 1114.4,268.7 1108.7,141.9 1037.8,280.7 1021,203.4 1039.7,203.4 995,227.8 1168.2,154.1 1173.1,167.9 1111.6,272.1 1007.2,284.5 1122.8,274.6 1050.5,291.2 1132,145.8 1022.1,216.4 1042.9,192.4 961.2,262.5 977.8,298.8 1020.4,210.8 1160.2,203 959.8,255.6 1101.4,284.9 1161,176.5 1148.2,150 1146.4,148.6 1156.5,166.6 989.9,304.6 1080,282.7 1056.2,194.8 952.8,286 1107.7,154.5 964.9,290.9 978.7,240 1070.4,165.8 1073.1,288.2 1086.3,283.7 1110,283.9 1040.8,283.5 1070.7,165.6 1037.6,281.1 1116.6,276.3 1093.3,286 987.1,233.2 1137.8,260.2 962.8,298.6 1042.1,187.9 1005.5,212.3 939.4,265.1 1149.9,228.7 1077.3,173.9 1135.5,256.1 969.2,256.9 1039.1,201.7 1005.4,299.5 995.4,295.9 1088,153.3 988.6,219.6 1135.4,264.3 1030.5,292.9 1109.7,152 1038,207 1083.6,157.7 976.2,240.2 1070.9,167.7 1157.3,170.6 952.4,290 1064.5,182.4 1152.9,225 986.3,243.4 1060.4,285.4 1016,215.4 954.4,262.2 946.6,269.7 1028.8,196.6 1033,209.1 1163.2,206.8 1153.4,142.9 1078.7,285.5 1121,138.5 951.6,285.1 1160,167.9 1040.4,280.9 1002.8,217.8 1131.1,265.9 1010,222.3 983.9,299.3 1016.1,219.7 1145.6,250.1 984.5,236.3 1021.2,217.3 1011.1,284.1 1112.5,273 967.9,249.1 1013.7,223 1034.1,281.6 1117.1,272.8 1059.9,191.9 953.8,284.6 1134.6,143.9 1171.8,193 1117.9,143.1 1172.1,182.3 1059.9,188.7 1035.4,203 1152.9,217.7 1016.8,219.9 1023.6,293.9 1166.1,170.5 1024.8,289.4 1159.2,182 1122.9,273.5 1097.7,145.9 969.3,253.7 1166,148.8 1103.6,285.8 1068.3,278.3 1067.2,277.3 984.4,244.6 1051.1,197.8 1071.1,174.3 1085.5,275.9 1016,220.6 1166.9,185.7 1056.4,289 1123.5,268.5 1135.7,150.7 958.2,263.6 964.1,255.7 1144.6,153.8 1019.4,282.7 1003.4,227.8 1034.1,191.1 1123,148.8 1100.5,147.3 1146.4,256.1 987.4,234.3 943.8,271.6 1055.6,194 1158,213.8 1022.2,292 973.5,245.5 1011.3,209.7 1039.4,196.9 1039.1,197.7 1127.6,146 1034.2,282.8 1136.9,250.6 1150.4,227.2 1121.1,141.6 1126,150.9 1151.6,212.4 1064.7,284.3 1151,150.9 958.4,283.7 1025.1,208.2 1137.6,248.8 946.1,258.8 1077.6,176.8 1157.5,192.9 1084.8,166.9 981.4,294.5 969.5,249.8 996.3,231.1 1104.9,276.1 1152.2,206.9 1013.3,217.8 1071.5,165.8 1168.6,158.8 1130.2,263.9 1058.1,186.6 1152.9,161.8 1041.1,278.9 1052.4,291.3 1082.3,170.3 1065.3,175.5 1154.4,164.3 1162.6,191.7 949.8,289.9 971.7,251.7 936.5,282.3 1087,164.4 1027.8,202.2 1013.2,294.2 1071.5,282.4 1095.6,278.8 1162.2,201.7 953,273.2 1114,269.3 1148.2,220.4 1149.3,214.3 977.8,233.1 1088.1,280.2 1123.7,272.5 1058,281.6 999.5,289.4 1023.1,284.4 963.1,290.2 939.6,280.6 1076.6,176.1 1005.3,225.7 1069.1,176 1147.3,243.2 980.2,302.4 1085.2,172.2 1004.6,229.4 945.2,273 1071.8,281.1 1027.3,202.2 1131.2,147.6 1100.7,279.8 1036.3,199.1 1120.7,149.6 1107.8,278.2 1056.7,287.7 1055.3,190.6 1093.7,274.4 1115.9,270.3 983.3,231.9 992.8,239.8 981.8,246.8 1153.6,225.6 1137.4,255.9 1152.3,213.6 1151.4,159.8 1053.4,191 1081,175.3 1006.4,227.3 957.3,263 1057.6,195 1057.9,191.1 1156.1,188.7 1037.2,288.7 1129.9,254.1 1053.8,194.6 1067.8,179.8 1081.4,174.2 1075.9,287.1 1122.7,274 976.7,238.8 1117.2,269.9 1062.1,187.8 1000.7,231.5 963.2,296.3 1058.7,285.1 1029.7,208.6 1092.8,154.2 1164.9,204.5 1140.5,246.5 1021.9,286.5 1156.1,207.4 1132,262.7 1159.4,166.4 1085.8,284.6 973,249.5 1173.9,168.6 1146.6,154.9 1157.6,179.6 1025.7,210.7 954.6,260.2 1086.7,275.4 1092.3,167.3 988,237.2 1069,163.5 1122.7,261.7 953.3,281.7 1078.7,166 1084.1,276.7 1163.2,151.2 1052.8,288.2 1143.9,143.5 1150.1,226 956.1,258.3 953.5,265.8 1051.8,191.3 1159.8,149.1 1151.5,224.9 1065.7,277.3 1015.9,200.8 1058,194.1 1066.5,189.2 1107.6,156.8 1125.6,140.7 1070.5,175.6 1104.3,272.5 957.8,262.7 1170.6,172.9 989.5,290.1 1154.1,136.2 1069.8,281.7 1109.1,157.5 1141.1,247.9 1023.6,206.3 960.1,283 1175.2,181.3 1038.7,188 1061.2,278.2 962.1,260 982.2,298.5 943.8,278.4 1155,149.3 1097.9,149.7 1147.6,151.4 976.3,232.3 1138.8,145.6 1117.7,268.1 988.4,294.6 1035.7,199.6 1079.1,164 1003.9,223.7 1068,284.5 1110.5,268.5 1173.3,169.5 1051.6,286.4 1137.1,152 1078.6,171.9 962.6,253.9 1004.8,291 972.1,255.3 963.4,284.4 1164.7,161.2 962.5,285.6 954.9,289.5 1086.3,283.8 1154,158.1 1146.7,257.3 1061.9,292.1 954.9,284.2 1090.6,162.5 1128.2,259.6 1141.2,242.8 977.6,289.6 1166.8,177.8 1055.3,196.1 1060.1,193.4 1163.8,159.5 1145.7,244.2 991.9,296.3 1110.7,154.9 969.8,295.6 945.8,270.2 1156.3,188 1011.4,205.1 947.8,291.2 1095.9,279.3 1080.4,279.2 1062.9,181 980.4,290.7 1084.2,172 1005,222.7 1051.3,194.3 1154.9,155.6 1060.7,285.4 1134,252.6 1052.2,196.2 1051.5,287.9 1124.5,259.9 1111.4,141.4 1142,240.7 1140.8,150.5 1026.8,283 1083.6,281 1029.2,208.5 1082.8,170 1142.4,244.5 961.9,289.5 996.5,290.2 960.9,247.3 1048.5,288.6 1005.5,288.3 1064.5,288.5 1156.2,143.3 978.9,248.2 947.4,283.7 947.1,261.8 991.8,232 1032.1,292.1 1140.7,256.7 957.1,284.7 1147.8,147.8 989.6,237.5 1159.9,208.4 1108.2,277.6 951.5,259.4 1155.5,191.8 1052.4,195.9 1096,151.6 952.4,285.3 1065.1,173.1 949.9,263.8 996.2,223.9 1128.7,268.6 967.1,249.8 1157.6,208.1 961.3,285.5 1077,282.5 968,258.7 996.5,288.9 1115.5,152.9 978.4,244.1 1013.4,211.5 1075.6,279.4 1074.8,167.4 955.7,295.2 967.9,254.8 1085.4,170.6 1146.5,240.1 1006.7,220.3 1011.2,220.7 990.8,301.6 1131.8,145 1135,260.6 1043.6,194 1079.6,169.4 1142.5,247.8 1063.9,286 1121,264.2 995.6,293.6 977.7,236.8 1126.1,136.4 1061,170.6 1024.7,198.2 1140.5,147.9 1025.1,287.1 944.4,273.9 1074.6,161.5 967,254.9 973.5,246 1114,280.8 1098.2,163.9 1096.6,157.2 1007.7,213 956.3,248.5 1027.3,209.6 1049,190.7 1108.2,153.9 1165.8,154.8 938.1,275 1041,201.2 1116,280.1 1129.8,259.8 1132,258.9 1026.5,285 1171.4,183.6 946.3,268 1117.7,146.5 990.6,296.3 1158.8,172.5 1073.7,178.1 1053.4,285.4 1124,150.8 1008.5,213.2 967.4,254.1 1072.7,283.1 1054.1,186.5 1062.6,179.9 1161.9,146.2 1095.6,283 1121.9,144 1119.9,148.7 968.5,294.1 1048.9,291.8 1120.3,150.9 1019.2,217.7 1078.2,164.5 1163.6,147.7 993.9,238.4 1160.1,172 1020.3,283 1134.3,261.6 1034.3,193.3 1141.1,145.9 1076.2,168.6 1143.9,234.3 1010.3,211.7 1157.4,141.1 1093.4,161.9 1156.3,164.1 1002.3,290.1 1104.2,145.4 1161.4,152 1119.6,148.7 1071.7,279.1 952.9,252.7 1142.4,247.8 1175.5,181.3 958.4,251.7 1162.1,177.8 1079.1,284 1099.8,280.8 1165.7,192 1127.4,269.7 1119.4,275.5 1152.5,158.2 1006.2,226.1 1074.3,286.1 1152.9,207.3 1004.6,225.2 1078.1,278.4 1139.7,143.2 1086.7,170.8 1138.6,244.4 995,225.4 1141.5,247.4 1143.2,241.6 1141.3,147.7 1120.2,146.7 1108.8,274.9 986,236.7 943.7,263.5 1147.7,236.3 1155.2,237.8 1012.8,223.2 961.7,283.2 945.8,276.6 982.5,302.4 1145.5,230.4 1057.4,283.2 1027.5,282.4 993.4,235.3 952.1,275.2 980.4,301.3 1126.9,273 988.3,295 1164.8,174.7 1143.7,151.5 1140.7,137 1149.4,237.9 1024.2,202 1148.5,157 1005.1,226.7 1115,142.5 1115.4,272.6 956.2,255.1 1122.5,270 949.4,268.5 1043.3,292 962.2,253.2 1060.7,280.2 945.7,280.9 958.3,240.9 996.3,210.2 1101.2,287.3 1154.7,233.7 1099.1,161.6 1018.6,292.9 1147.6,226.8 1111.2,142 1053.3,279.3 1103.1,281.9 1089.1,282.4 1131.2,135.8 1119.1,278.6 1157.7,157.7 1086.4,170.1 979.6,238.3 1155,211.6 1123,270.6 1129.9,255 1150.7,154.5 1045,190.6 1048.3,190.5 1064.8,189.2 1069.1,167.7 1069,286.7 949,264.7 1126.1,258.7 990.5,241.5 950.2,281.2 950.5,284.6 961,297.4 1143.4,152.7 953.9,292.5 1017.4,287.8 992,234.6 1057.8,195.9 1089.6,284.6 989.4,243.1 952,294 1021.9,292.5 1160.3,175.9 1103.2,155.5 1154.9,211.9 1110.1,273.2 1076.7,165.4 1149.7,234 1022.3,285.4 1110.7,276.9 1057.8,190.6 1141.4,245.3 1035.9,287.4 951.4,265.2 1154.9,238.7 1171.5,176.1 1072.1,173.2 1066.8,190 1121.2,260.1 968.8,247.3 993,234.8 1118.2,263.7 1084,165.5 1064.1,190.7 1157.1,226.8 1071.6,178.3 1038.7,205.7 1118.3,273.2 970.9,300 1154.4,227.5 1159.7,172 1072,177.4 1063.3,186.2 1157.6,186 1101.4,150 1039.3,192.5 1070.7,177.4 1074.5,165.3 1153.7,206.7 1131,142.3 981.4,289.1 1015.5,282.3 952.9,255.2 1147,153.8 1120.7,140.1 1058,194.6 952.4,276.4 960.6,289.4 1157.4,195.4 1145.3,145.3 982.2,231 1130.9,260 1110.9,270.9 986.4,239.4 1067.8,166.4 1077.3,281.5 1025.2,203.7 975.9,246 1153.5,224.7 1040.2,199.5 942.5,279.2 953.9,273.4 1122.4,148.5 995,298.2 1087.5,280.1 1071.3,167.3 1071.9,282.7 1088.7,164.2 1002.4,294.4 1087.7,170.9 1114.4,148 1118.6,152 1163.3,176.2 1159,204.2 1112.2,146.1 1022.1,208.5 1025.5,213.1 956.4,253.8 1051.6,198.5 1158.6,222 1063.9,188.3 954.7,259.6 1066.9,182.1 1159.8,202.2 959.8,261.9 1164.9,194.9 991.7,292.7 1045.5,186.7 1029.1,203.1 997.7,292.7 1111.3,272 1034.2,208.3 1049.8,282.5 1129.1,148.7 1014.6,286.9 1020.5,293.9 942.8,277 1133.6,149.3 960.9,251.6 940.7,262.9 1096.8,273.2 1020.9,217.2 1028.1,283.3 1162.7,172.2 958.2,296.2 995.8,216.1 1100.1,161.2 1142.9,147.8 955.1,284.8 1144.3,152.3 1042.6,282.2 994.5,230.4 982.6,237.9 1170.6,163.6 1031.1,283 1139.9,260.7 1135.4,151.5 1145.2,244.6 1035.3,203.4 954.7,262.6 961.1,262 1081.6,169.5 1022.4,205.5 1028.7,288.8 1150.3,223.6 1142.2,151.7 1003.9,290.5 1163.2,207.3 1001.3,288.2 1051.9,191.1 943.4,277.9 1158.4,156.5 940.8,270.2 1117,149.7 966.4,292.9 949.4,269.1 1048.3,198 1117.8,264.4 1114.6,265.5 1060.1,175.7 1059.8,184.7 1156.5,151.9 1089,166.6 1067.8,165.2 965.7,253.2 1169.5,155.7 1115.5,151.7 1088.8,279.4 1084,165.6 1098,275.3 1077.3,169.8 957.7,279.7 1037.6,196.8 1005.2,221.2 1030.3,193.8 1125.4,263.3 1130.1,149.6 1118.8,144.5 1160.3,171.6 1102.1,155 1129.5,260.1 1089.3,152.6 1043,283.9 1109.9,146.4 1102.2,285.3 1040.3,279.1 1095.3,277.8 1042.8,201.2 1004.6,296.3 1129.5,259.3 1128.1,264.5 949,272.9 1133.6,151.6 1158.1,225 949.1,287.8 1093.1,153.6 964.9,261 947.5,284.3 1019.2,285.1 1096,162 965.2,260.2 951.2,281.1 1116.2,269.3 1007.2,291.8 992,233.7 1143.1,236 1109.5,151 1160.7,162.9 1060.1,193.9 1155,158.7 1176.1,176.3 1037,290.6 1074.3,175 1107.4,277.5 1010.6,217.4 1004.5,221 1118.9,263 1000.8,227.3 1148.1,154.3 1084.5,162.6 946.2,278.4 1160.3,173.2 1155.8,143 1009.6,215 1087,275.4 1079.1,280.3 1096.7,148.6 1103.5,276.4 1085.3,276.7 1106.9,277.4 957.3,285.2 959.2,260.5 1003.4,289.1 1015.6,209.4 993.2,219.4 1075,282.9 1122.6,278.3 1050.5,195.5 1098.7,161 1032.8,205.6 1160.1,193.8 956.9,262.4 1158.9,181 971.9,295.8 971.7,290.9 1166.8,197 1133.3,135.7 1001.2,217 1019.6,217.2 1078.7,286 1148.6,235.9 1025.1,283.1 1057.8,184.6 1134.5,266.6 1159.7,166.4 1090.6,155.8 991.5,218.2 1035.3,195 969.2,290.8 1023.4,286.8 981.8,232 1098.9,149.2 1058.1,189.9 1033.6,206.5 955.5,277.8 1171.9,182 1138.5,248.4 1052.8,286.4 1155.5,205.7 1019,282.8 949.3,269.7 1165.8,170.5 1124.5,259.3 1169,183.2 1055,190.4 1079.2,278 1058,189.5 1006.4,284.7 1078.4,175.8 952.7,272.6 988.5,222 1125.9,145.8 956.4,259.3 1152.6,205.1 1084.4,281.9 1094.4,277.5 1046.3,199.3 1147,250.1 1121.4,142.6 1069.9,172 1036,208.9 1100.1,153.4 1040.8,288.3 974.7,302.2 999.1,215 988.9,232.5 1118.6,265.7 1050.8,197.3 956.2,284.4 1109.2,148.9 1128,149.1 982.6,231.3 966.4,250.7 1062.7,177.5 1135.5,148.3 1085.2,279.7 963.5,253.4 1169.8,170.2 1074.4,284.1 971.5,250.8 953.3,263.3 1145.5,250.5 1085.7,168.2 992.5,232.2 1094.2,157.5 1136.7,144.9 1016.8,218 984.4,290.6 1167.3,180.6 951.3,261.9 965,290.3 1071.3,285.7 1058.3,278.9 1167.9,178.3 970.2,296.8 1006.6,222.6 971.8,252.3 1099.5,159.8 1044.9,198.4 1072.6,181.7 1108.7,270.6 999.3,207.5 1160.4,204.6 1024.4,213 1173.9,168.5 1030.1,290 1142.9,241.3 1086.3,170.5 1007.1,226.4 1037.9,284.9 1139.6,142.4 1111.5,149 1045.8,290.6 1155.6,196.8 954.9,267.9 942.6,266.3 1077.5,277.8 1141.9,258.8 1149.3,249.4 971.1,244.4 1122.2,146.4 970.9,296.1 998,289.2 996.6,294.4 990,289.7 1070,290.4 1161.1,199.9 1107.9,271.2 1080.4,287.5 1069.3,169.2 949.5,279.1 1156.1,205.1 993.3,222.5 1032.8,281 1028.7,204.3 1155.1,237.4 1144.6,241.2 952.4,282.2 1172.2,168 1110,272.2 1038.9,294.6 975.8,302.7 1058.2,193.2 1057.5,285.3 1058.5,288 1165,194.9 1101.8,279 1171,174.3 1006.4,224.1 964.8,295.3 1144.6,147.4 1049.7,193.4 1036.7,284.7 1156.8,162.3 1060.1,278.6 1132.4,139.8 1150.5,221.6 991.6,227.6 1005.9,288.1 947.8,256.3 1134,258.5 1099.6,155.5 1067,289.5 1030,282.8 1085.7,172.3 1143.3,242.1 1162,199.1 1101.6,277.4 993.3,289.7 1140.9,254.5 1173.6,178.8 946.3,257.6 1061.8,280.5 1085.4,282.9 1167.9,191.5 1058,289.5 1045.5,280.1 1000.9,291.9 1088.5,164.8 1074.6,177.5 1053.7,280.3 1148.5,243.9 1007.1,289.6 1043.2,188.5 1156.3,202.5 1026.1,202.9 1000.2,214 993.6,225.2 1151.3,158.1 1078.8,176.5 1075.5,167.7 1154.3,222.7 1085,160.3 968.1,289.1 1071.6,184.9 1066.4,280.6 1160.8,174.4 1052.2,183.2 1152,220.6 1047.1,199.7 973.6,295.5 961.2,255.8 1104.8,271.4 1154.3,208 1038.5,200.2 1051.7,192.2 1145.4,148.9 1115.3,279.9 1088,282.5 1072.9,181.8 1151.1,227.9 1042.8,287.5 963.2,287.2 1029.7,206 1056.1,189 1143.9,144.1 1043.7,190.1 1133.3,269.5 983.6,244.8 981.3,296.3 1127.8,141 1042.5,199.7 978.7,291.4 1160.9,146.6 1057.7,170.5 1130.6,146.6 1083.7,168.2 949.7,255.6 1109.2,145.9 1019.7,211.1 1085.2,153.1 1078.4,283.1 1144.5,231.5 1106.8,156.9 1103.7,273 1157.2,145 1134.6,249.6 991.3,237.6 983.8,237.2 983.6,231.7 1155.7,193 1043.6,284 1058.9,185.9 1010.8,215.3 1065.4,181.6 948.8,269.3 990,218.4 962.9,255.7 1056.4,285.2 1160.2,191 967.2,251.7 1051.3,278.7 1125.3,262.6 1051.9,282.2 982.4,245.6 1120.5,148.5 966.9,296.2 1033.1,279.3 943.6,277.8 940.8,274.8 1148.5,231 1147.8,145 1127.4,273.2 938.2,273.7 1150.6,224.2 1066,183.6 1139.3,146 944.9,261 961.7,261.5 942.2,280.4" fill="none" marker-start="url(#mh)" marker-mid="url(#mh)" marker-end="url(#mh)"/>
<path fill="#1f77b4" filter="url(#bl)" d="M1118.5,144.5 1125.5,143.7 1133.5,143.8 1141.5,144.5 1146.5,145.6 1150.5,147.5 1154.5,150.5 1157.1,153.5 1162.7,163.5 1165.1,170.5 1165.5,176.5 1165.9,181.5 1165.3,186.5 1163,195.5 1160.1,206.5 1158.8,212.5 1157.2,218.5 1154.1,227.5 1148.4,239.5 1145.1,245.5 1140.4,253.5 1135.5,260.1 1130.5,264.9 1125.4,268.5 1117.5,273.5 1110.5,277.1 1106.1,278.5 1100.4,280.5 1093.5,282 1085.5,284.1 1077.5,284.8 1072.5,285.3 1052.5,286.3 1048.5,285.9 1040.5,286.4 1032.5,287.5 1024.5,288.7 1020.5,289.3 1012.8,291.5 1001.5,295.2 995.5,296.7 986.5,296.7 983.9,296.5 977.5,296.7 970.5,295.6 966.5,295 960.5,292.6 955.3,289.5 951.5,286.1 946.5,279.1 944.9,275.5 944.3,271.5 945.3,267.5 947.8,262.5 950.5,259.8 956.5,255.4 965.5,250 973.5,243.3 978.5,240.2 983.5,237 988.5,233.2 990.6,230.5 998.3,223.5 1003.5,219.3 1013.5,212.3 1020.5,207.3 1027.5,203 1034.5,199 1037.5,197 1046.5,191.6 1052.6,188.5 1063.5,180.7 1067.6,176.5 1071.5,172.2 1074.7,169.5 1082,164.5 1088.9,159.5 1101.5,151.6 1107.5,148.8 1110.5,147.9 1113.5,146.2 1117.5,144.7 1118.5,144.5Z"/>

</g>
<g clip-path="url(#c3)">
<path d="M1387.1,264.2 1340.8,296.8 1361.9,328.5 1560.8,388.9 1578.1,324.8 1471.4,240.9 1393.5,279.7 1489.2,100.4 1551.3,188.3 1580.2,272.6 1371.9,304.7 1365.2,283.3 1598.4,197.1 1598.9,206.1 1590.6,198.7 1420.6,259.1 1605.4,361.8 1452.4,262.8 1369.4,248.9 1375.2,308.6 1509.5,395.6 1514.4,47.5 1426.2,240.1 1580.2,312.2 1369.6,322.4 1608.2,240.1 1497.2,174 1441.8,250.8 1504.2,133.4 1577.1,291.5 1431.9,270.2 1581.8,213.7 1365.9,333.8 1535.2,196.6 1429.7,263.5 1540.3,185.3 1487.7,199 1355.7,321.3 1357.1,303 1487.5,234.2 1583,155.8 1588.6,336.9 1469.7,230.9 1317.1,368.8 1309.3,383.9 1568.1,193.8 1314.2,394.7 1326.4,366.6 1581.5,268.2 1472.9,228.6 1429.1,276.9 1405.1,291.2 1558.8,385.7 1606.5,149.2 1555.4,183.3 1597.4,222.5 1355.4,258 1555.9,380 1601.1,311 1557.6,385.4 1537.8,163.7 1427.2,249.8 1325.6,362.7 1377.3,282.9 1532.4,73.4 1444.6,228.4 1375.5,317 1314.8,385.4 1540.4,122.9 1396.1,314.8 1467.2,223.3 1393.4,293 1404.7,290.1 1429.8,273.1 1572.5,195.9 1345.4,355 1465.5,239.7 1604.1,219.7 1356.1,347.7 1409.8,281.3 1370,337.5 1336.2,352.9 1466.6,228.9 1577.7,349.9 1597.1,274.4 1372.9,298.9 1326.8,327.6 1584.1,281.1 1351.7,322 1572,188.2 1587.9,289.4 1323.5,342.6 1520.4,56.4 1587.9,238.4 1347.6,319.7 1548.3,184.2 1562.8,373.5 1402.4,303.9 1583.8,246.5 1343.9,287.4 1581.1,301.1 1479.5,201.5 1552.6,177.5 1386.5,313.5 1375.2,304.3 1572.4,311.7 1558.8,179.4 1590.9,378.7 1590.8,322.8 1595.5,125 1579.4,327.1 1336.1,299.6 1380.9,260.5 1519.2,199.6 1435.4,230.5 1433.6,263.1 1424,261.2 1568.5,368.7 1447.1,230.4 1483.4,206.5 1346.5,333.1 1569.1,336.5 1589.8,242.1 1422.4,279 1570.4,392.6 1563.5,176.8 1444.4,214.2 1550.2,395.3 1355.5,338.2 1359.4,259 1379.9,263 1460.9,235.1 1418.2,252.7 1428,257.9 1504.3,161.6 1497.3,202.7 1528,198.2 1536.2,194 1592.3,212.8 1526.9,204.5 1596.2,247 1355.9,311.8 1396.8,287.3 1527.2,175.3 1420.6,265.5 1419.8,211.2 1330.6,394.6 1397,323.7 1531.4,191.7 1493.7,219.8 1334.5,373.8 1587.4,211.5 1518.8,172.9 1573.7,308.1 1367.6,257.4 1395.4,271 1379.3,333.5 1527.5,171.4 1604.1,218 1572.6,360.6 1333.6,350.1 1589.6,219 1508.8,197.9 1446.9,236.2 1392.2,250.5 1410.7,217.1 1476.5,237.6 1430.7,239 1382,311.4 1589.2,210.4 1556.7,377.3 1384,310.3 1595.4,176.5 1363,335.6 1565.2,342.4 1563.2,364 1509.4,81.2 1373.7,253.2 1479.3,238.3 1353.9,300.9 1584.5,257.1 1328,344 1582.6,256 1349.7,296.8 1363.3,251.4 1411,259.2 1376.4,294.9 1408.1,266.3 1372.1,297.2 1558.8,369.8 1587.9,347.6 1383,265.2 1422,255.2 1418.3,267.8 1442,266 1593.4,203.4 1585.3,253.3 1458.6,394.1 1495.3,174.2 1573.9,387.4 1373.6,245.9 1449.8,253.3 1359,327 1352.3,344.6 1334.9,337.6 1481.1,184.7 1572.4,320.9 1548.1,158.4 1451.8,236.2 1394,252.1 1578.2,320.3 1572.9,379.5 1517.7,200.7 1366.2,302.3 1408.4,289.5 1500.3,209.7 1530.2,194 1507.5,214 1557.5,196.3 1585.3,370.2 1400.5,275.1 1415.4,264 1352.7,305.8 1582,134 1591,323.8 1316.2,375.1 1483.8,206.6 1583.8,287.6 1389.1,237.3 1406.7,262.8 1326.9,367.9 1573.4,189.5 1593.5,264.8 1533.5,187.2 1416.8,274.5 1363.9,304.7 1607.8,221.2 1354.2,266.8 1364.7,312.7 1497.8,186.6 1384.3,300 1320,375.3 1332.3,320.4 1582.8,327.7 1565.4,193.6 1459.8,230.8 1552.2,152.9 1406,274 1368.9,277.3 1498.4,212.4 1447.8,248.4 1589.9,205 1588.4,215.5 1335.6,321.7 1333.2,322.4 1401.8,278.2 1372.4,236.4 1575.7,382.1 1511.9,201.9 1566.8,363.1 1456.3,196.8 1331,356.6 1562.1,385.2 1391.2,279.7 1388.1,239.1 1578.5,205.9 1354.4,339.6 1357.7,338.5 1611.8,227.7 1399.3,294.9 1570.5,169.6 1435,245.8 1481.6,222.1 1445.7,206.3 1357.5,338.8 1581,360.3 1589.1,269.7 1589.2,172.2 1405.5,276.9 1462.8,193.4 1586,302.6 1573.7,362.4 1579.7,187.7 1445,235.8 1582.5,209.8 1591.8,206.1 1347.9,303.2 1362,296.3 1314.6,343.3 1559.4,183.3 1583.8,219.6 1389.9,322.2 1376.8,306.9 1508.9,203.4 1585,205.9 1405,305.2 1440.5,254.8 1573,360.1 1453.5,131 1474,192.4 1592.2,194.7 1526.6,149.4 1389.5,252.8 1475.5,212.7 1593.2,230.3 1559.7,173.7 1395.3,296.4 1394.3,282.6 1555.2,392.8 1577.1,146.2 1568.6,338.5 1558.1,191.3 1449.8,267.7 1580.1,368.8 1435,235.4 1427.4,229.2 1581.5,195.3 1400.8,243.9 1519,202.7 1351.5,301.4 1348.3,299 1550.2,192.4 1398.2,180.1 1497.5,170.6 1504.8,176.1 1439.4,269.9 1549.1,176.1 1579.3,202.7 1586.1,295.2 1336.8,366.1 1548.5,121.9 1537.5,160.9 1504.1,192 1592.8,283.5 1565,173.8 1338.2,283.5 1470,230.6 1340.4,362.1 1418.1,265 1478.9,394.5 1414,287.9 1422.9,285.2 1464.6,154.3 1580.2,334.9 1569.4,347 1357.3,340.4 1526.4,195.2 1578,341.1 1398,395.2 1569.2,188.9 1359.5,308.6 1580.3,305 1547.4,191.2 1587.7,199.3 1585.9,279.1 1587.2,336.3 1436.6,264.8 1588.7,333 1545.9,139.4 1568.6,380.5 1452.7,254.2 1571.9,195 1534.3,192.1 1387.4,273.2 1604.9,345.1 1588.6,230.5 1524.9,187 1341.5,367.8 1398.4,313 1587.5,215.4 1588.3,198 1569.4,341.5 1565.2,351.5 1540.6,198.6 1417.5,395.1 1382.4,291.2 1576.8,375 1386,210.3 1363.1,304.7 1361.4,342.1 1349.6,323.1 1406.8,273.4 1370.5,311.1 1580.7,302.1 1450.2,241 1400.7,228.5 1423,253.6 1585.9,272.5 1402.8,166.8 1459.6,249.4 1523.9,197.9 1599.1,243.5 1470,224.3 1493.7,185.3 1579,279.3 1334.3,373.3 1430.3,242.3 1564.7,193.2 1497.9,204.8 1396.8,199.9 1396.5,219.6 1369.6,395.6 1598.5,136 1490.1,201 1557.3,376 1378.7,307.6 1602.8,210.8 1511,193.9 1395.2,287.1 1601.9,309.9 1401.2,261.3 1477.9,232.7 1584.4,337.5 1409.3,283.5 1602.3,266.8 1329.4,357 1339.6,362.2 1407.2,290.9 1500.9,207.6 1581.6,303.8 1566.3,167.3 1566.9,146.9 1374.7,308.2 1484.6,230.3 1312.4,394.5 1434.1,244.2 1419.9,283.8 1451.3,258 1589.2,277.2 1578.8,362.6 1556.3,386.6 1386.4,296.9 1594.5,241.1 1522.8,194.9 1552.4,189.1 1397,276.6 1595.2,355.3 1354.1,216.6 1326.2,369.9 1435.6,268.3 1353.4,330.6 1415.3,270.6 1546.8,395.3 1607.1,331.2 1354.6,343.3 1385.4,232.5 1367,306.5 1359.9,290.9 1352.9,291 1426.2,274 1336.7,312.2 1418.2,270.5 1388.6,329.1 1385,301.6 1422.5,258.6 1494.9,175.2 1387.9,314.8 1363.3,286.4 1493.2,220.5 1374.4,105.4 1601.3,190.8 1599.7,281.9 1526.1,154.1 1495.5,210.8 1435.1,264.8 1546.8,161 1377.1,306.1 1331.1,347.4 1480.2,225.6 1574.2,312.5 1357.5,296.5 1598.5,238.1 1338.2,287.5 1564.5,186 1401.1,283 1337.5,362.9 1470.4,203.8 1598.5,231.2 1340.4,355.6 1596.5,303.1 1432.5,267.2 1594.4,217.9 1497.6,167.8 1436.2,159.4 1581.1,192.1 1337,328 1386.5,395.1 1602.4,219.9 1596.1,314.4 1367.4,300.7 1584.4,249.3 1506.3,116.3 1322.1,395.3 1577.1,375.5 1375,270.9 1573.7,332.4 1599.2,344.2 1585.9,355.7 1332,376.3 1353.4,338.9 1399.2,280.2 1327.7,370.3 1360.2,263.3 1478.6,225.5 1450.4,262.7 1556.5,184.3 1606.8,318.9 1580.8,282.7 1378.6,294.7 1343.8,341 1355.2,394.8 1391.7,164.3 1550,172.7 1428.4,259.1 1489.6,201.3 1605.1,221.2 1577.9,335.8 1347.9,287.8 1535.5,131.6 1487.4,201.3 1374.2,314.9 1513.8,206 1581,174.9 1502.2,201.1 1572.1,374.4 1393.7,259 1594.9,194.8 1594.6,187.5 1560.6,164.2 1490.3,171.4 1319.9,331.5 1444.5,237 1592.9,257.1 1408.7,296.9 1594.9,208.5 1501.2,161.2 1537,190.8 1584.5,338.7 1543.1,181.2 1381.7,262.9 1432.2,271.8 1503.1,188.3 1331.9,360 1378,276.2 1506.3,91.3 1493.2,224.6 1405.9,260.8 1411.8,244.1 1381.4,299.5 1365,328.9 1570.2,195.7 1425.1,248.7 1360.5,333.8 1516.1,194.1 1326.7,368.5 1592.6,200.4 1586.2,252.5 1587.8,218.7 1349.2,349.3 1415.3,283.9 1560.1,173.9 1499.5,58.3 1584.6,178.6 1430.3,236 1324.2,371.8 1591.8,235.9 1582.7,293.8 1413,251.4 1531.2,196.8 1323.8,366.6 1420,278.7 1569.8,327.8 1608.8,180.4 1584.3,323.1 1598.5,276.6 1602.6,352.7 1366,330.3 1590.6,286 1525.8,178.5 1437,235.4 1550.9,150.9 1380,296.9 1402.6,274.2 1589.9,235.6 1327.8,362.6 1340.4,363.2 1405.1,262.9 1581.4,271.5 1414.1,257.7 1580.5,275.3 1586.8,248 1368.2,338.6 1377.3,395.5 1333.4,335 1580.6,349.6 1570.3,183.7 1456.3,243.6 1391.4,297.5 1490.1,224 1345.5,335.5 1411.3,282.6 1380.6,324.1 1593.2,193 1593.3,238 1419.5,262.4 1372.5,342.7 1384.3,316.3 1407.3,291.2 1595.8,253.4 1531.7,189.4 1343.7,315.4 1422.8,259.9 1569.1,193.2 1343.4,357.3 1591.6,255.9 1550.3,158.6 1449.1,241.8 1581.3,109.3 1349.6,308.5 1544.2,183.7 1374,278.4 1561.7,189.3 1413.4,250.9 1434.6,269 1585.6,335.1 1365.5,315.5 1368.7,324.1 1591.7,363.7 1486.3,231.6 1331.4,339 1531.2,395.2 1563.5,127 1349.4,310 1379.5,234.5 1380.9,332.3 1511.5,100.4 1579.8,262.7 1521.2,126 1369.1,289.6 1502.2,207.8 1538.9,192.3 1362.4,290.7 1499.2,213 1334.4,333.1 1586.3,321.3 1580.2,169.6 1397.4,308 1388.6,204.1 1469.2,229.6 1408.7,281.8 1385.4,301.4 1359.1,339.9 1404,161 1583.2,254.2 1450.8,232.9 1347.4,337.4 1585.1,364.5 1322.9,383.2 1361.3,311.1 1333.8,325.4 1367.4,327 1569.3,181.9 1519.6,162.2 1439.5,245.5 1592.6,204 1421.4,259.3 1387.8,317.5 1602.3,272 1427.9,276.1 1381.7,317.1 1339.5,347.7 1579,199.7 1387.7,278.9 1398.3,277.1 1324.8,321.9 1365.1,319.9 1587.4,292.4 1530.4,198.2 1583.1,260.7 1390.7,285.6 1522,206.3 1415.6,264.8 1325,316.5 1597.4,256.8 1565.7,192.6 1493.6,187.3 1589.2,175.8 1589.5,297.7 1539,193.2 1391.1,262.8 1321.9,380.6 1373,313.5 1475.2,225.7 1575.3,192.7 1420.2,259.9 1573.5,191.9 1335.8,326.2 1482.2,201.4 1595.3,186.3 1486.1,226.1 1563,195.4 1347.3,276.4 1540.6,192.2 1594.1,260.7 1610.8,223 1348.4,345.7 1527.2,189.8 1403.3,285 1364.6,294.6 1488.7,224 1551.2,194.2 1577.3,370 1424.1,222.9 1355.6,294.3 1420.3,237.2 1320,338.4 1411,234.4 1606.9,231.5 1468.5,212.1 1611.8,209.9 1403.1,278.2 1537.1,174.9 1573.6,337.1 1440.4,273.1 1577.1,361.3 1489.5,212.8 1358.7,211.7 1358.5,322.5 1585.6,347.4 1390.7,275.1 1365.3,271.4 1587.1,340.2 1601.7,218.7 1383.7,299.9 1447.9,244.7 1512.5,120.4 1505.6,394.3 1405.4,289.6 1568.2,391.6 1570.7,342 1497.6,208.9 1465.4,196 1566.6,385.2 1586,188.3 1407,294.9 1545,177.1 1583.6,180.9 1522.8,208.2 1597.1,269.2 1602,325.3 1567.3,376.4 1359.7,287 1579.5,270.1 1430.1,264.4 1329.4,366.5 1602.2,203.2 1603.1,318 1479.5,224.9 1343.5,332.8 1461.9,225.8 1579.2,335.1 1556.6,371.9 1588.1,212.7 1375.5,266 1513.4,181.9 1577.5,379.2 1508.1,212.9 1335.5,349.8 1589,224.4 1449.8,247.6 1411.9,261.9 1544.9,185.4 1585.2,204.6 1583.6,265.2 1496.5,220.5 1455.5,228.7 1463.3,188.9 1595.5,248.5 1371.6,243.8 1452.5,249.9 1579.7,275.5 1593.4,232.3 1383.6,314.8 1381,290.9 1437.2,262.9 1547.7,151.8 1390.8,281.1 1373.5,330.8 1523.4,187.4 1372.5,267.4 1559.8,356.1 1345.7,327.2 1582.1,272.7 1463.1,230.9 1405.8,294.2 1511.7,182.7 1473.5,220 1377.1,314.2 1569.9,189.2 1577.5,286 1381.8,306.3 1425,250.7 1524.5,395.1 1587.5,331.8 1396.2,314 1416.5,274.8 1540.2,52.3 1363.5,331.7 1394.3,275.5 1412.2,284 1380,306.8 1498,220.1 1333.8,346.6 1461.8,237.1 1493.8,227.8 1405.4,235 1371,279.7 1507.7,146.8 1436.6,228.9 1535.3,62.4 1355.6,304.7 1585.6,324.5 1440.4,192.4 1445.1,236.9 1390.4,328.1 1338.4,343.3 1457.5,252.4 1573.7,380.9 1522.8,135 1563.7,362.3 1422.8,267.5 1355.6,309.5 1443.4,252 1471,199.7 1585.1,268.1 1456.6,233.2 1359.4,331.8 1370.3,279.1 1518.9,173.4 1453.5,245.5 1556.6,367.1 1398.7,258.4 1417.9,208.5 1561.1,366 1572.8,199.7 1423.8,254.7 1581.1,296.9 1323.2,318.5 1602.1,235.7 1506.3,217.7 1333.4,327.9 1400.3,289.8 1553.4,178 1588,181.3 1504.6,215.6 1584.7,249.4 1347,343 1602,318.8 1371.4,279.2 1516.6,202.7 1386.2,308.3 1354.6,303.5 1325,366 1556.9,369.8 1378.2,328.9 1352.2,311 1593.8,341.6 1567.8,188.8 1334.1,370.6 1577.5,283.1 1605.6,273.3 1351.8,341.8 1570.3,355.7 1400.9,294.4 1350.4,335.3 1485.6,215.6 1374.5,315.8 1344.4,333.5 1554.7,189.1 1566.1,341.5 1367.4,307.9 1492.5,211.7 1442.1,182 1583.1,240.7 1574.2,187.5 1465.9,229.8 1543.1,183.4 1499.6,210.2 1604.8,231.3 1599.7,344.9 1591.4,238 1362.3,289.9 1563.1,377.2 1578.4,309.9 1419.2,281 1443.5,238.4 1358.2,298.2 1321.4,337.6 1402.4,270.6 1586.7,304.7 1546.9,189.7 1413.5,293.9 1446.9,249.7 1539.4,58.3 1394.5,251.3 1369.4,298.9 1579.6,202.1 1335.9,312.1 1427.4,244.3 1378.3,306.2 1347,334.9 1576.5,323.7 1585.1,195 1400.5,283.8 1492,395.4 1472.9,240.8 1335.3,315.4 1590.5,190 1422.7,222.2 1415,267.5 1592.9,187.5 1429.1,271.7 1584.5,176.6 1376.4,335.2 1586.1,230.5 1600.8,331.9 1461.5,253.6 1325.8,335.2 1598.1,263.8 1365.8,340.1 1471.3,238.9 1342.6,363.5 1393.4,260.2 1574.2,171.1 1448.8,234.1 1585.2,245 1578.8,309.3 1481.8,231.8 1410.7,239 1337.5,347.8 1330,376.8 1400.7,263.4 1473.6,225.8 1550.6,192.7 1427.4,246.1 1485.3,209.2 1416.9,250.6 1524.4,200.9 1414.5,282.5 1482,160.7 1333.4,355.6 1351.2,262.1 1506.7,211.3 1325.9,375.3 1469.4,237.9 1451.8,246.9 1518.7,204.2 1482.9,162.3 1431.4,271.4 1560.1,187.8 1587.9,194.3 1568.1,344.6 1593.5,284.1 1516.5,210.2 1543.8,190.1 1333.5,334.3 1402.9,299.8 1317.4,371.8 1338.4,310.7 1341.5,333.7 1603.2,256.2 1438.9,194.9 1431.9,260.4 1434.8,248.2 1602.1,279.6 1421.4,206.5 1421,244.6 1461.6,236 1324.4,356 1336.1,347.1 1512.3,206.5 1395.1,282.5 1351.7,331.3 1586.1,205.6 1412.3,274.6 1572.3,195.2 1476.7,227.3 1362.7,295.8 1436.3,201.3 1594.8,234.5 1594.2,247.9 1580.2,350 1435.6,239.8 1355.2,343.9 1572.1,325.9 1370.2,314.2 1397,301.8 1371.9,265.7 1604.8,343.6 1389.1,252.9 1582,266.7 1543.5,81.2 1363,301.1 1455.9,257 1584.9,198.6 1519.2,210.8 1399.9,306.1 1602.3,270.7 1564.9,193.4 1585.9,330.2 1486.8,171.7 1582.8,342.8 1407.8,270.9 1558.2,137.5 1338.7,331.5 1394.4,225 1361,314.9 1491.5,198 1361.7,317.1 1526.8,193.2 1355,322.1 1355.7,300.7 1507.4,47.5 1498.4,202.2 1520.1,180.5 1566.6,171.9 1592,224.6 1389.2,296.1 1555.2,179.2 1568.7,382 1534.2,175 1413.7,204.1 1503,207.5 1453.9,242 1333.2,327.9 1381.6,286.1 1349.1,318.8 1383.9,296 1448.8,237.8 1581.4,272.7 1435.1,256.6 1509.8,214.4 1452.9,224.4 1570.8,384.4 1508.3,180.7 1465.8,395.3 1401,273.4 1532,194.4 1398.8,314.2 1551.8,394.6 1414.3,288.7 1566.4,187.3 1363.1,252.5 1429.7,256.3 1426,249.1 1586.5,196.7 1593.4,227.7 1401,240.4 1601.2,248.6 1473.9,244 1363.6,297.5 1591.5,295.2 1378.1,319.6 1348.3,328.4 1498.6,394.2 1504.7,218 1591.6,271 1597.9,341.1 1546.5,179.3 1316.6,383.8 1374,319.5 1472.1,134.9 1507.3,199.2 1332.3,359.9 1341.7,308.1 1434.6,187.5 1421.8,256.5 1346.5,219 1444.9,261 1446.7,237.1 1369.4,292.9 1583.3,196.3 1353.7,304.7 1593,256.4 1560,192.3 1541.5,156.6 1578.7,268.8 1350.1,327.4 1601.6,260.8 1443.8,256.2 1372.5,275.2 1525.7,188.4 1475.9,172.2 1571,344.3 1457.4,242.5 1574.4,326.2 1586.8,150 1586.1,244.1 1590.9,237.7 1393.5,326.7 1559.6,186.9 1592.2,244 1459.1,225.1 1544.9,165.4 1556.3,191.9 1595.9,310.9 1467.6,241.2 1436.6,119.4 1429.1,394.7 1481.9,203.1 1588.5,191.1 1553,165 1594.9,201.1 1458.1,204.6 1374,335.9 1333.7,356.4 1362.4,293.6 1552.6,126 1388.6,394.9 1484,232.9 1410.2,288.8 1510.5,62.4 1566,384.2 1581.4,301.8 1373.9,342.2 1466.5,208.5 1555.3,395.5 1486.9,224.6 1590.1,282.7 1464.4,249.1 1416.1,294.4 1420,264.3 1575.4,340 1385.6,310.6 1446.2,155.7 1401.7,254.8 1369.1,249.7 1393.3,300.1 1583.7,288.3 1353.8,332.4 1528.5,175.9 1386.6,208.1 1331.8,310.4 1582.9,160 1479.2,142.4 1334.3,367.9 1497,226.7 1392.1,241.2 1560.2,135.8 1489.8,227.2 1552.2,183 1563.2,190.6 1334.5,358.7 1576.3,322.4 1506.9,200.4 1441.6,263.8 1423.8,264.9 1460.4,234 1562,355.7 1598.1,216.8 1343.5,328.9 1477.9,231.8 1477.3,238.2 1559.5,376.3 1466,222.8 1497.7,205.7 1566.5,168.6 1357.4,341.5 1570.5,385.1 1560.9,369.2 1311.7,384.2 1388.4,305.3 1416.2,259.3 1485.8,220.1 1362.2,338.1 1456,252 1588,319.2 1369,259.1 1401.4,223.9 1377.7,276.5 1572.9,375.3 1579.4,340.2 1344.3,321.5 1353.2,311.6 1399.4,314.7 1369.8,315.3 1526,185.6 1365.1,322.6 1423.8,251.4 1396.6,277.2 1360.6,297.8 1482.1,395.5 1387.4,242.1 1367.2,291.4 1418.1,253.2 1373.5,321.7 1388.8,314.7 1557.5,388.1 1569.4,375.5 1594.7,312.4 1593.8,288.1 1428.2,239.9 1320.7,361.1 1440,241.8 1588.7,200.6 1356.5,331.9 1385,284.5 1351.4,333.4 1362.6,328.6 1555.7,391.9 1372.8,315.1 1569.1,189.7 1449.9,263.7 1532.4,183.5 1373.2,289.2 1544.2,187.5 1592.7,216.3 1533.7,200.9 1310,387.2 1311.9,393.2 1521.5,144.5 1387,290.9 1355.9,318.9 1590.6,296.6 1557.3,186.4 1587.3,203.3 1346.6,327.1 1574,309.8 1464.4,211 1587.2,258.6 1380,216.8 1569.4,371.8 1393.1,292.2 1406.3,263.2 1585.1,346.7 1577,286.6 1391.4,317.8 1492.3,208.3 1480.5,229.4 1359.3,335.2 1541.4,170 1343.3,300.2 1384.1,315.6 1385.7,328.1 1502.3,160.2 1426.4,196.8 1601.4,335.6 1520.7,210.9 1332.8,366.7 1525.2,135.7 1456.5,240.2 1509.6,213.3 1365,287 1575.6,326.9 1567.6,170.8 1593.9,206.5 1509.3,203 1582.6,270.9 1368.4,259.2 1376.5,281.5 1345.5,324 1365.9,340.1 1408.2,288 1529,181.6 1575.6,196 1419,268.3 1381.1,215.1 1403.5,183.2 1368.8,293.4 1322.9,343.6 1521.9,185 1462.6,196.3 1585.2,204.5 1327.2,357.8 1408.4,268.7 1386,309.9 1462.6,231 1577,314.7 1580.1,192.8 1486.7,221.6 1553.4,177.5 1557,386.4 1583.5,176.7 1582.1,272.3 1452.8,244.2 1465.4,219.2 1554.9,390.1 1581.9,300.6 1565,370.2 1439.6,274.8 1404.9,280.8 1408.9,285.7 1608.6,202.8 1554.8,189.5 1360.4,335.2 1390.1,275.3 1451.2,256 1585.6,279.7 1397.1,325.7 1590,186.6 1588.5,202.8 1530.1,138.2 1480.5,178.7 1373.6,320.3 1366.8,278.9 1519.6,201.5 1576.8,322.8 1431.8,253.4 1506.7,218.5 1588.9,243.8 1382,298.9 1465.7,233 1426.2,251.3 1501,188.9 1540.4,69.2 1444.7,253 1346.2,339.9 1568.7,360.7 1598.1,234.3 1515.9,174.2 1571.9,393.8 1561.5,79.5 1574.9,346.1 1513.9,208.3 1481.2,201.8 1584,321.5 1388.4,292.3 1585.8,315 1451.8,236 1332.2,357.7 1392,299.8 1375.2,328.5 1590.9,335.8 1593.2,217.3 1506.4,204.1 1339.7,360 1389.4,244.9 1363.9,304.7 1456,233.3 1316.5,383.1 1437.2,235.4 1398.6,294.8 1424.1,246.6 1382.1,287.5 1321.4,316.4 1495.1,218.4 1369.6,262.5 1450.1,251.3 1346.1,321.7 1457.1,226.5 1438.7,270.7 1604.4,337.9 1448,222 1381.4,311.8 1584.4,374 1583.1,268.3 1571.3,384.8 1438.1,230.9 1479.9,215.2 1476.4,97.3 1381.6,316.4 1560.8,371.6 1487.7,219.8 1332.4,365 1316.5,286 1432.4,272.9 1438.4,260 1567.2,176.9 1586.1,302.9 1572.8,378.1 1537.8,195.8 1469.2,216.6 1390.8,223.5 1427.6,243.4 1407.9,303.8 1579.1,198.1 1590,277.3 1312.4,385.3 1410.9,258.3 1484.1,93.4 1368.1,335.7 1560.7,171.5 1485.1,201.6 1496.7,215.3 1393.1,231.6 1595.1,236.5 1587.9,285.9 1403,262.5 1452.5,65.5 1426.7,271.9 1585.3,276.9 1493.6,220.8 1572.2,354.4 1576.6,167.5 1569.6,384.5 1589.5,271.5 1400.6,261.9 1413.5,271.8 1536.5,47.5 1340.8,346.6 1575.8,349.7 1530.4,170.6 1440.3,253.4 1409.3,243.4 1576.8,279 1457.2,236.4 1376.8,320.5 1556.7,393.1 1587.8,237.5 1405.1,256.9 1593,206.2 1420,279.1 1586.9,260.6 1593.1,272.2 1560.6,191.6 1456.5,250.8 1595,273 1378.8,322.7 1370.7,281.3 1557.8,384.9 1338.5,332.9 1566,193.3 1440.9,241 1382.6,278.4 1461.7,248.3 1383.2,271.7 1478.8,162 1498.8,215.2 1378.5,258 1599.1,316.2 1513.9,132.3 1567.8,170.9 1381.2,303.5 1400.8,264.8 1573.2,330.9 1597.2,236.8 1378.2,323.9 1590.8,263.4 1319.5,380.3 1395.1,199.5 1553.2,192.9 1595.8,211 1449.3,144.2 1445.8,261.8 1380.7,267.2 1322.1,356.5 1584.8,263 1372.7,252.3 1561.4,193.2 1365.1,290.6 1449.9,234.1 1431.2,261.1 1573.3,324.3 1596.7,217.2 1346.2,353.3 1419.2,250.8 1403.9,285.2 1590.1,278.8 1381.6,276.1 1440.8,217.4 1520.9,209 1557.6,143.1 1490.8,209.6 1572.1,354.3 1361.6,315.4 1556,142.1 1410,287.7 1594.7,256.8 1348.9,336.8 1482.8,223.4 1368,313.9 1337,340.3 1382.6,307.9 1374.9,298 1575.6,149.3 1392.5,263.5 1344.8,321.3 1596,204.3 1418.7,254.7 1517.9,186.8 1418.2,242.2 1545.9,180.5 1362.4,273.5 1582.8,265.8 1342.3,315.8 1476.6,236.6 1581.5,372.8 1357,284.9 1467,209 1599.6,230.2 1487.2,196.5 1345.8,349.6 1581.2,268.5 1407.4,284 1317.4,365.2 1364.1,258.8 1589.1,292.8 1365.5,304.6 1340,394.3 1412.7,247.5 1435.1,217.8 1487.7,191 1423,189.2 1521.4,193.5 1367.4,269.9 1507.6,194.6 1418.2,247.4 1591.3,189.5 1588.2,173.8 1353.6,244 1415,286.7 1586.8,216.8 1336.9,235.3 1373.7,292.1 1375.9,233.7 1561.3,357.9 1451.9,231.5 1588.3,359.2 1597.6,286.5 1507.1,186.3 1576.4,282 1497.8,195.1 1598.4,247.1 1386,299.3 1601.8,205 1323.7,370.1 1583.2,373.4 1429,219.7 1386.7,283.2 1418.6,280.8 1451.2,236.8 1459.6,225.8 1538.4,192.5 1333.9,346.5 1333.3,324.7 1568.2,376.9 1462.9,253.8 1598.2,130.9 1472.7,191.1 1386.5,290.7 1380.5,333.5 1554.2,174.2 1377.9,318.3 1370.1,271.5 1333.7,312.6 1385.7,276.7 1448.2,154.4 1469.2,237.9 1578.5,369.8 1394.7,281.3 1529.9,161.1 1562.3,135.1 1408.7,283.8 1374.3,270.8 1390.1,279 1360.1,327.6 1610,203.9 1405.4,227.8 1515.2,162.3 1393.3,296.8 1355.3,325.3 1341.8,339 1503,211.2 1480.8,197.1 1385.9,316.2 1440.9,219.9 1356.8,347.2 1568.9,337.4 1363,326.9 1385.7,253.8 1360.6,336 1423.7,271.5 1376,315.5 1362.9,329.5 1523.1,184.1 1381.8,341.8 1492.7,226.9 1414.7,287.8 1598.8,347.6 1589.5,204.5 1446.3,240.9 1389.6,330.9 1339.5,365.8 1316.7,321.6 1383.8,315.4 1584.6,247.5 1391.2,304.7 1404.4,296.1 1397.5,299.2 1494.8,192.3 1404.5,252.5 1521.1,192 1569,389.6 1567.1,339.5 1578.1,370.2 1384.5,316.7 1557.3,372.3 1528.4,120.4 1364.9,321.5 1404.7,239.7 1456.6,213.9 1591.3,265.6 1310.6,381.7 1580.5,288.4 1383.7,232 1521.4,175.1 1407.3,282.7 1560.8,365 1333.1,337.2 1496.5,216 1357.1,334.7 1429.2,201.1 1479.3,213 1505.8,201.2 1599.9,316.6 1529.2,183.9 1499.8,135.5 1408.8,278.8 1568.7,357.7 1583.3,362.3 1320.5,363.3 1445.5,262.6 1520,203.7 1449.2,239.2 1412.5,285.4 1370.4,290.7 1498.5,200.9 1583.8,205.1 1352.8,222.8 1556.2,369 1423.3,267.1 1334.7,333.6 1385.8,256.8 1340,337.7 1333.4,363.6 1576.3,300.3 1434.4,244.1 1353.1,294.3 1509.1,199.5 1349.1,354.1 1562.1,152.6 1374.6,301.6 1589.2,337.7 1569.3,374.3 1350.9,321.4 1523.3,101.4 1380,312.3 1579.8,348.3 1568.7,166.9 1479.8,160.3 1385.4,289 1503.4,203 1405.3,212.1 1435.1,247.2 1543.7,177.1 1580.4,333 1388.1,299.7 1583.6,177.1 1596.2,197.6 1569.2,195.4 1575.1,337.6 1404.2,292.4 1426.1,202.4 1346.7,334.3 1595.8,277.1 1393.2,280.2 1549.4,187.1 1353.9,332.3 1405,253.2 1404,167.1 1581.3,290.2 1571.8,192.7 1559.8,381.5 1585.3,252 1596.5,175.5 1547.9,179.6 1571.4,177.7 1527.9,200.2 1328.5,374.6 1395.6,281.3 1517.9,168.2 1571.8,202.2 1539.1,169.9 1519.8,206.6 1593.2,277.8 1396.2,233.1 1481.1,225.9 1582.3,187.8 1421.8,270.2 1558.7,161.5 1592.1,254.3 1367.2,301 1336.1,365.3 1589.4,393 1537.2,188.4 1412.4,267.6 1400.2,269.6 1377.8,260.1 1586.6,268.2 1497,210 1569.8,387.9 1592.5,200.8 1581.9,194 1493.5,198.7 1327,336.1 1335.1,350.2 1556.4,186.3 1488.6,208.8 1523.2,196.5 1550.3,174.8 1401.3,219.5 1381.9,325.9 1548,177.7 1569.1,172.4 1510.4,205.1 1509.1,200.4 1452.8,245.5 1316,382 1376.4,180.6 1601.8,205.9 1351.8,225.6 1488.4,112.4 1560.6,376.5 1513,215.5 1591,327.1 1375.1,339.5 1327.1,364.9 1588.8,330.2 1400.1,306.5 1382.7,315.5 1545,154 1327.2,361.8 1329,321.2 1584.9,283.8 1394.8,264.2 1479.8,222.5 1585.5,247.4 1560,195.2 1368.4,65.5 1406.7,394.2 1422.4,237.5 1363.1,312.8 1480.1,224.5 1393.4,273.8 1382.5,324.7 1405.8,234.6 1346.9,309 1590.8,252.5 1318.2,363.7 1383.8,332.7 1542.9,160.7 1435.5,244 1504.6,198.8 1585.9,235.7 1471.2,207 1374.5,280.3 1567.3,165.5 1564.1,370.2 1579.2,326.7 1443.9,230.3 1508,170.7 1522,198.5 1574.4,326.3 1346.9,331.5 1392.3,253 1550.2,170.1 1600.9,160 1583.2,190.3 1422.1,276.5 1358,318.6 1332.4,325.1 1603.4,230.2 1354.4,306.8 1571.2,365.2 1374.4,337.9 1533.3,191.2 1599,233.6 1574,184.5 1579,289.1 1540.6,195.5 1409.8,233.9 1567.4,344.2 1557.4,385.9 1353.7,337.5 1484.1,200 1428.3,395 1383.7,323.9 1457.6,255.2 1379.3,304.3 1382.6,233.8 1535.3,82.2 1332,348.1 1597.7,219.4 1582.7,314.7 1529.8,184.2 1468.8,185.3 1354,325.7 1557.9,190.9 1581.4,269.2 1539.7,198.2 1420.9,270.1 1331.6,362.2 1380.7,303.6 1579.2,341.2 1402.9,249.4 1594.5,279 1348.3,326.1 1343.8,326.3 1376.8,329.8 1411.1,250 1431.9,265.8 1445.8,252.5 1585.8,177.1 1428.8,270.5 1339.5,350.8 1578.3,356.1 1558,370.3 1419,272.8 1458.8,142.4 1328.1,366.2 1584.2,212.3 1444.6,265.6 1575.8,180.1 1593.3,278.6 1576.7,360.7 1424.2,271.4 1448.1,242.9 1508.7,217.3 1398.1,272.7 1305.3,324.2 1538.7,177.9 1369.2,323.5 1568.1,377.4 1387.1,288.5 1447.8,248.3 1406.8,258.6 1408.4,273.1 1365.5,320.6 1598.4,261.6 1586.5,200.8 1604.7,212.3 1454.2,188.2 1342.7,319.9 1342.3,360.2 1579.5,188.8 1571.8,174.1 1401.2,259.5 1382,315.3 1509.2,217 1517.5,214.5 1324.5,375.4 1480.4,208.7 1309.4,385.2 1582.1,202.9 1402.2,256.8 1390,278.2 1558.7,368.4 1372.4,259.5 1497.4,214.5 1358.6,320.3 1450.8,248.8 1570.7,135.3 1414.3,289.6 1329.7,370.8 1408.8,298.8 1527.8,395.5 1576.6,315.5 1585.6,346.1 1423.4,233.9 1358.6,267.2 1576.5,300.7 1314.6,394.9 1586.2,323.4 1380.3,313.6 1347,325.1 1391.9,287.8 1546.5,178.2 1601.7,349.7 1564,386.3 1585.7,317.8 1611.7,248.5 1569.4,191.8 1421.2,190.7 1393.1,295.7 1583.1,254.6 1576.5,296.2 1374.2,250.6 1583.4,377.4 1477.3,395.5 1462.2,236.5 1462.9,240 1346.6,350.3 1555,189.4 1556.3,176.5 1473.3,221.8 1499.7,212.3 1582.8,318.2 1469.8,233.2 1414,281.7 1337,325 1388.2,241.9 1421.5,70.3 1588.8,256.8 1579,287.9 1560.2,193.2 1541.1,172.4 1402.6,281.3 1591.7,172.7 1334.3,342 1389.2,274.9 1382.8,322.2 1343.6,328.7 1354.8,209 1487.9,219 1577.3,281.4 1489.7,209.2 1351.7,320.5 1474.6,395.1 1321.5,380.4 1382.7,236.8 1590.9,385.1 1376.8,320 1569.1,180.6 1558.5,186.2 1338.4,352.2 1459.9,244.4 1571.7,333.8 1354.2,348 1409.1,263.8 1413.8,282.5 1564.6,348.2 1441.4,163.6 1500.6,209.8 1378.7,334.3 1577.4,322.3 1360.7,291.3 1352.6,311.7 1311.3,310 1573.4,351.7 1575.2,354.9 1358.2,320.4 1589.9,280.6 1585.6,198.1 1540.7,194.1 1489.9,394.1 1556.7,382.8 1519.1,199.3 1350.1,303 1362.2,324.4 1344.8,356.6 1522.1,187.3 1379.8,258.9 1362,299 1539.1,193.9 1598.1,281.6 1398.5,291.7 1350,305.4 1449.6,236.4 1461.3,237.5 1528.8,180.7 1537.7,127 1576.4,286.5 1581.1,206.6 1590.4,269.9 1318.3,378.4 1360.4,338.8 1476.5,188.3 1350.5,348.8 1571.2,185.5 1487.7,178 1388.7,322.1 1447,260 1390.4,243.1 1417.9,208.1 1446.5,237.4 1469.8,219.7 1579.9,274.9 1570.4,342 1575.5,180 1581.7,326.7 1599.2,265.3 1483.5,191 1565.7,171.3 1420.8,275 1445.3,223.3 1468.3,231.7 1530.3,191.2 1534.8,195.3 1403.3,264.3 1531.1,189.2 1557.7,372.7 1579.6,276.3 1479.1,214.8 1366.6,310 1593.7,311.2 1537,132.3 1345.7,350.2 1440.1,262.7 1337.9,342.3 1451.3,254.5 1566.9,337 1570.5,394.9 1561.4,383.4 1471.9,234.7 1342.6,305.9 1596.3,289.8 1508.9,214.6 1372.3,260.5 1351.5,338.7 1385.9,299.6 1420.1,271.2 1550,165.5 1449.3,228.8 1404.6,270.9 1324.1,364.6 1590.5,184.1 1337.9,358.1 1411.4,290.5 1587.3,272.9 1320.4,373.8 1568.4,388.7 1573.8,318.6 1333.9,363.8 1433.8,243 1355.2,292.8 1567.9,336.4 1327,359.7 1490.5,216 1373.6,282.9 1575,310.6 1446.3,102.5 1343.8,365.8 1332.3,361.5 1379,300.7 1475,189 1363.2,258.6 1428.9,250.7 1375.8,329.1 1328.6,362.3 1341.2,307 1588.8,302.5 1400.3,178.6 1546.4,394.3 1586.5,239.1 1355,305.8 1390.2,286.3 1575.5,365.3 1560,365.1 1585.7,208 1452.7,258.7 1558.5,176.4 1501.3,208.7 1373.8,294.9 1372.2,395.3 1542.9,167.8 1408.9,272.4 1584.8,304.8 1315.8,394.6 1449.8,237.1 1524.2,199.5 1567.4,195.8 1582.5,284.6 1448.5,395.3 1589.1,216.7 1376.8,342.9 1380.8,277.3 1528.4,106.4 1571.1,150 1583.4,274.6 1310.7,259.8 1432.2,252.9 1603.7,194.6 1390.3,290.9 1428,268.3 1588.3,192.1 1344.9,354.4 1378.2,302.2 1466.5,236.7 1337.4,329 1359.4,299.4 1447.5,246.6 1440.6,182.9 1587.3,323.1 1383.7,274.1 1319.5,373.6 1573.4,190.3 1545.3,169.6 1409.5,287 1541.3,174 1471,225.7 1507.8,176.6 1493.5,220.3 1594.5,243.2 1378.1,280.3 1555.2,181.8 1587.4,157.4 1308.8,392.8 1593.7,262.1 1493.3,202.8 1320.5,363.7 1317.9,395.2 1364.8,294.3 1598.7,353.2 1536.2,195 1549.4,193.6 1596.5,304.5 1571.1,338.5 1318.9,379.8 1568.6,355.1 1320.2,374.4 1320.3,355.1 1370.3,284.6 1470,222.4 1324.6,373.6 1415.1,264.4 1434.8,256.3 1382.6,314.4 1417.6,265.6 1596.2,243 1596,314.6 1392.6,314.3 1303.6,390.9 1425.7,247.4 1392.4,224.2 1446.5,256.5 1347.8,343.6 1569.6,375.8 1544.6,168.9 1392,285.2 1329.9,331 1551.9,154.3 1600.7,252.1 1439.1,252 1420.3,285.4 1395,298.4 1404.6,278.7 1453.5,250.6 1424.3,258.7 1346.5,356.6 1504.1,170.6 1593.3,252.7 1386.6,295.3 1334.9,358.5 1419.2,201.9 1431.8,276.3" fill="none" marker-start="url(#mk)" marker-mid="url(#mk)" marker-end="url(#mk)"/>
<path d="M1408.2,387.2 1487.3,251.1 1380.8,347.5 1567.8,265.4 1549.6,354.7 1397.6,322.9 1516.3,386.9 1569.9,296.5 1530.5,389 1420.3,388 1507.4,384.8 1566,297 1543.2,194.6 1529.2,223.5 1509,223 1560.7,325.7 1376.9,345.4 1386.2,355.8 1376.3,361.7 1576.6,280.9 1444.1,275.8 1415.3,389.7 1485.5,388.7 1389,343.3 1347.2,392.5 1573.8,295.5 1548.1,357.4 1487,245.4 1565.8,214.4 1411.3,393.3 1347.9,363.6 1555.3,337.5 1566,308.7 1461.9,386.2 1521.6,220.1 1448.1,389.5 1414.1,336.8 1382.8,352 1370.2,348 1355.7,339.4 1534.7,203.7 1527.9,204.1 1564.3,309.6 1483.1,239.4 1372.2,364.4 1576.2,222.3 1360.1,386.9 1451.7,276.5 1371.7,367.7 1363.5,382.2 1335.9,366.2 1452.1,285 1546.1,206.2 1357.6,366.5 1402.2,352.5 1572.5,287.4 1563,292.9 1576.8,224.5 1519.9,210.1 1357.5,387.5 1552.4,347.9 1419.7,391.8 1416.6,339 1385.7,360.5 1345.4,387.1 1579.2,212.4 1559.3,205.3 1383.2,337.7 1412.2,304.5 1510.6,229.5 1401.8,331.7 1459.6,281.7 1405.1,344.2 1541.7,374.4 1538.1,382.1 1388.7,335.1 1575.5,251 1514.4,393.4 1531.3,210.8 1442.7,266.2 1526.4,219.6 1377.1,341 1421,292.7 1507.3,392.5 1360.8,390.6 1515.7,386.4 1552.5,367.1 1326.8,394.2 1373.4,388.6 1467.2,253.7 1430.9,284.6 1577.9,251.2 1536.9,202.4 1489.7,245.7 1570.8,305.1 1383.3,336.6 1421.2,290.1 1545.9,195.3 1375.8,388.4 1535.4,214.7 1453.7,283 1369.2,365.9 1552,204.4 1447.5,286.1 1343.7,394.4 1472.3,252.5 1390.8,390.8 1361.8,342.5 1536.2,389.8 1359.7,340 1414.2,342 1571.6,245.1 1442.4,294.2 1485.1,243.2 1548.3,352.3 1452.6,386.7 1360.6,360 1473.7,265 1508.4,237 1416.1,386.2 1575.6,264.3 1568.6,249.9 1372.9,340.3 1581,252.2 1473.8,267.3 1554.6,378.1 1571.4,230.1 1545.3,369.3 1453.8,259.6 1388.3,343.4 1482.6,388.2 1417.6,308.9 1519.9,389.1 1412.2,338.8 1435.3,295 1384.3,346.6 1353.5,387.3 1514.9,233.7 1523.2,385.8 1567.3,306.5 1477.4,242.2 1403.4,348.6 1436,293.5 1398.2,346.2 1572,237.8 1369.4,368.3 1398.5,341.6 1445.5,279.6 1517.1,226.6 1393.5,385.2 1388,326.1 1555.2,212.1 1552.4,210.9 1553.2,199.8 1338.4,389.9 1367.9,388.6 1503.8,392.5 1459.2,279.5 1548.2,348.9 1369.8,366.6 1562.1,299.4 1575.3,221.5 1385.6,358.1 1471.7,245 1551.4,347.6 1408,346.3 1460.4,273.8 1561.9,203.1 1570.9,264.7 1545,364.6 1392.7,299.1 1574.9,214.4 1539.4,204.9 1549.4,382.8 1410.9,301.4 1569.9,233.2 1460.4,251.7 1569.4,255.8 1390.4,345.1 1399.5,392.5 1522.8,386.4 1415.2,313.2 1358.4,377.2 1412.7,385.2 1340.2,370.7 1514.7,224.8 1397.1,342.9 1437.2,296.7 1407.1,308.2 1394.9,356.7 1361.3,364.9 1488.9,254.7 1392.9,354.2 1523.9,213.1 1477.1,393.8 1378.2,362.6 1453.8,282.2 1454.9,386.4 1477.9,386.5 1379.6,345.7 1481.9,260.5 1573.4,196.6 1553.5,375.7 1377.9,330.5 1481.4,259.8 1414.3,387.1 1503.1,389.5 1415.5,277.5 1461.4,271.9 1333.2,377.1 1577.1,260 1380.2,355.2 1506.6,391.4 1500.1,231.1 1566.3,259 1431.3,389.9 1501.6,234.2 1555.7,332.6 1427.5,388.9 1417.8,384.6 1402.2,334.8 1454.2,272.4 1487.1,244.8 1485.3,250.2 1336.3,390.4 1377,355.6 1415.7,305.2 1395.2,355.1 1564.5,310.9 1332.2,381 1523.2,390.8 1347.8,356.2 1382.3,385.1 1399.4,353.7 1558.8,325.1 1560,303.1 1352.1,352.4 1429,297.5 1417.1,315.5 1353.6,346.9 1568.3,283.4 1406.1,298.6 1397.6,390.9 1548.4,355 1413.8,335.3 1534.7,384.5 1372.9,355.9 1546.7,200.8 1415.6,385.9 1559.4,324.5 1481.6,256.8 1544.4,213.6 1470.7,387.1 1394.7,337.7 1470.7,388.8 1558.7,311.5 1420.1,326.1 1413.9,345.4 1424.4,309.6 1372.9,345.2 1413.6,304.1 1431.6,289.2 1492.6,244.5 1432.5,386.4 1417.2,318 1532.9,219.1 1498.2,244.4 1366.3,365.1 1417.3,285.3 1495.8,386.1 1352.3,393.8 1347.6,390.7 1356.3,390.5 1393.5,339.4 1357,346.6 1563.6,274.4 1396.4,392.9 1585,218.6 1568.6,240.3 1500.5,385.5 1409.4,311.6 1568.8,302.1 1530,220.2 1537,204.4 1366.3,384 1507.7,389.3 1572.1,213.6 1566.8,217.9 1565.3,282.2 1415.6,333.8 1512.9,388.8 1484.9,388.6 1382.8,363.5 1559.7,328.8 1401.5,307.5 1406.3,386.1 1563.9,286.2 1489.1,246.8 1446.5,384.4 1555.3,348.7 1564.9,209.6 1563.9,275.9 1525.6,391.9 1570.7,239.1 1341,384 1532.4,211.4 1352.8,388.3 1361,354.5 1540.6,216 1458.1,280.4 1397.4,355.2 1473.1,244.2 1437.8,286.8 1553.9,357.9 1465.9,384 1360.5,362.8 1363.6,358.8 1525.5,222.7 1567.2,298 1578.1,248.6 1363.3,377 1435.6,296.9 1369.7,384 1560,302 1436.2,386.3 1344.4,383 1324.9,384.1 1405.1,331.6 1403.4,354.1 1528.6,223.5 1544.9,376 1352.7,359.5 1405.5,384.5 1422.3,390 1435.7,384 1480,250.4 1563.1,335.7 1375.4,334.8 1384.4,389.4 1347.7,371.9 1420.3,316.9 1578.7,221.5 1577.5,257.5 1574.4,275.4 1349.5,369.4 1502.1,391.7 1562.2,214.9 1470.6,248.1 1510.6,217.7 1530.8,216.8 1549.3,211.3 1346.8,392.7 1389.9,347.2 1569.7,317.1 1465.1,390.6 1467.9,264.9 1483.4,389.5 1474.5,262.2 1372.7,388.5 1479.2,254.7 1335.8,391.9 1562.7,282 1481.4,392.5 1382.1,386.4 1323.1,393 1488.3,235.3 1433.2,281.8 1555.4,209.5 1549.6,348.4 1353.9,382.5 1477,244 1559.8,312.2 1551.4,200.5 1415,326.2 1514.7,388.3 1546.9,365.6 1550.4,352.3 1562.3,340.7 1552.1,191 1472.3,394.1 1552.2,345.4 1351.2,353.9 1362.6,375.9 1333.3,386.7 1572.7,285.9 1563.4,325.6 1500.1,387.4 1410.2,311.3 1487.2,246.6 1416,293.3 1369.2,363.4 1570.4,247.7 1545.7,367.6 1471.6,270.9 1550.1,364.2 1329.3,392.7 1569.5,323.6 1358,388.6 1501.1,225.1 1562.4,344.8 1420.7,385.1 1456.8,387.9 1548.7,362 1565.6,291.8 1390.8,323.2 1433.7,292.2 1481.1,253.5 1570.7,272.4 1405.5,320.8 1467.1,258 1366.1,382.1 1505.6,228.3 1482.3,258.5 1345.2,392.3 1459.3,271.8 1440.7,286.1 1418.4,305.4 1543.4,201.6 1420.9,287.1 1339.3,391.6 1444.7,286.1 1415.1,389.4 1461.4,261 1515.4,221.8 1550.5,354 1574.9,251 1395.1,391.1 1416.3,309.6 1505.6,386.2 1404.2,331.5 1530.4,218.1 1338.3,388 1566.8,210.2 1566.3,215.6 1499.5,231.2 1396.1,392.1 1568.7,274.6 1569.5,278.1 1380.7,361.2 1475.8,265.4 1426.4,385.2 1544.3,389.1 1464.1,266.8 1332.5,385.9 1436.3,292.9 1531.6,215.5 1565.3,304.2 1361.3,366.2 1579.4,213.8 1517.1,389.1 1469.2,269.7 1376.5,390.4 1397.3,342 1468.3,389 1521.3,226.8 1339.1,375.2 1572.4,240.9 1487,388.9 1571.3,295 1438.2,284 1331.8,394.2 1381.9,342.6 1417.4,272.5 1386.9,355.4 1366.3,389 1514.5,387.5 1362.9,356.4 1458.4,391.2 1525.9,391.3 1397.7,351.9 1380.8,364.9 1532.7,209.5 1433.5,284.3 1566.6,288.7 1427.9,390.5 1542,379.3 1568.3,266.1 1566.9,255.3 1475,245.2 1530.2,211.4 1387.4,352.4 1373.6,361.9 1559.6,204.2 1566.7,314.3 1373.8,392.8 1545.2,209 1540.1,392.4 1550.5,362.2 1525,225.1 1349,394.5 1326.3,387.5 1488.7,251.8 1544.3,386.4 1505.2,389 1482.2,244.1 1528.7,224 1474.8,238.8 1360.8,347.2 1378.7,364.7 1420.5,309 1531.9,218.6 1438.2,296.7 1407,321.6 1420.1,322.8 1405,345.7 1570.4,304.8 1411.1,303.9 1414.3,319.1 1490.3,235.4 1484,238.4 1428.2,292.4 1562.1,301.1 1407.4,334.2 1562.2,327.1 1510.3,233.9 1517,388.5 1328.2,377.2 1363,347.3 1482.7,258.5 1486.4,386.2 1486.1,251.4 1555.6,343.4 1445.9,390.9 1411.2,347.5 1476.3,240.4 1525.4,393 1415.9,393.3 1409.1,310.5 1544,203.9 1503.7,240.8 1561.1,205.1 1370.1,390 1554.7,199.1 1455.4,388.6 1482.7,255.8 1385,354.6 1363.2,349 1491,251.5 1436.1,296.1 1519.6,391.3 1516.6,220.6 1476.8,256.3 1579.2,239.2 1485.9,234.3 1390.9,306.5 1539.2,391.9 1349.6,370.1 1347.1,353 1510.1,393.8 1554.9,205.8 1390.4,385 1570,252.7 1378.8,330.7 1535,384.2 1501,230.2 1498,388.9 1368.3,367.9 1477.4,385.7 1538.2,393.2 1483.6,385.5 1557,327.6 1567.9,249.4 1539.6,211.3 1347,394.8 1405.3,299.9 1542.7,376.4 1560.6,321 1455.2,387.2 1555.7,359.9 1354.8,371.2 1555.9,332.4 1492.4,243.2 1371.2,391.3 1550.4,203.3 1537.9,388.5 1419.1,389.2 1395.4,311.8 1364,379.3 1567.4,287.7 1396.1,387.9 1340.8,389.5 1563.2,338.7 1412.5,337.9 1540.6,385.9 1550.8,342.5 1571.3,221.7 1554.3,197.3 1445.2,290.3 1402.3,312.7 1448.4,386.1 1411.7,306.7 1419.8,330.3 1570.1,204.6 1482.4,259.4 1455.5,273.4 1558.2,320.9 1461.4,384.8 1566.3,269.9 1379.3,352.3 1422.9,317.1 1584.8,240.2 1493.9,388.4 1551.5,392.5 1387.3,385.2 1552.2,388.6 1360.3,374.8 1406.7,341.4 1364,351.2 1583,246.6 1464.3,247.1 1571.4,307.8 1443.3,264.3 1493.1,241.1 1444.9,389.4 1360.9,350.7 1553.3,341.7 1568.4,301.7 1398.4,353.8 1470.1,262.8 1523.3,384.8 1371.2,368 1488.1,252.7 1422.3,319.5 1573.1,236.2 1439.1,271.2 1574.5,201.4 1553,356.3 1535.9,204.3 1365.4,385.5 1478.9,263.9 1567.3,260.2 1566.9,267.5 1463.6,272.2 1426.3,297.6 1559.4,317.2 1313.2,392.5 1563.1,287.7 1572.9,218.2 1334.5,387.6 1410.9,324 1495.5,393.5 1450.2,390 1412.8,311.7 1556.9,336.6 1454.4,387.9 1448.3,271.1 1389.8,352 1550.6,347.3 1520.7,230.7 1546.4,372.2 1462.4,248.5 1320.9,393.9 1415.1,333.8 1423.1,316.4 1430.7,303.6 1348.6,340.6 1340.1,368.8 1450.5,275.4 1385.1,386.8 1382.8,328.9 1367.5,383.1 1515.1,387 1353.6,355.4 1542.9,206.5 1353.1,392.1 1568.7,257.1 1351.5,370.4 1447.6,269.5 1558.7,361.3 1427.4,383.5 1451.5,288.5 1333.8,381.5 1370.5,388.4 1426.5,389.5 1525.8,384.1 1510.2,227.6 1551.1,212.7 1438.4,295.7 1497.1,392.4 1472.2,386.3 1403.9,353.6 1412.3,317.7 1481.7,259.1 1531.8,391.8 1573.1,236.8 1387.8,389.7 1420.8,311.7 1453.6,392.8 1462.4,388.7 1477.8,256.8 1416.8,341 1422.6,320.4 1384.9,360.4 1562.4,285.1 1423.2,306 1562,199.6 1576.5,236.9 1566.2,272.6 1403.7,354.6 1361.4,367 1395.2,354.3 1354.2,358.1 1386.3,387.6 1369.3,366.8 1398.5,338.8 1527.3,394.5 1397,330.8 1565,298.5 1461.3,385.3 1462.8,385.9 1350.1,375.2 1514.2,220.9 1471.5,389.4 1449.2,386 1385.8,349.9 1560.2,312.8 1470.9,271.1 1413.9,305.9 1361.6,377.7 1415.1,324.8 1421.6,309.8 1533.2,218.5 1562.8,294.6 1438.1,298.1 1340.9,394.5 1581,255.2 1556.2,349.1 1402.2,335.7 1398.2,304.6 1568.8,268.7 1479.5,257.9 1513.4,392.3 1432.7,303.5 1546.3,360.9 1362.7,390.9 1543.4,209.9 1480.7,390.7 1541.4,389.9 1521.3,223.5 1493.9,386.1 1562.9,311.4 1470.2,270 1398.5,323.9 1379.8,337.5 1438.8,283.1 1406.9,388.1 1363.6,378.1 1571.5,252.7 1412.5,329.3 1431.3,298.9 1509.9,221.5 1456.2,273.7 1361.1,349.6 1420.5,312.4 1469.9,246.4 1570.6,267 1459.9,279.4 1380.6,342.8 1564.4,277.9 1420.4,311.4 1332.7,387.7 1578.6,255.6 1391.2,384.7 1510.9,385.6 1408.9,319.7 1538.2,215.9 1576.4,227.7 1550.1,387.7 1446.3,283.8 1505.3,237.8 1416.4,325 1552.6,361.1 1341.2,375.2 1544.7,197.2 1531.2,221.4 1544.1,211 1454.8,267 1557.6,336.2 1515.1,215.5 1406.5,305 1416.4,321.3 1451,263.9 1415.6,339.5 1528.4,219.2 1497.8,244.2 1352.6,368.3 1367.4,368.3 1377.9,391.3 1369.6,389.4 1511.6,233.1 1465.3,270.3 1579.8,231.7 1382,361.1 1576.4,253.2 1350.1,360.5 1403,323.5 1466.5,245.2 1556.9,353.7 1529.7,218.5 1425.9,390.3 1482.3,251.2 1391,329.1 1585.8,214 1547.5,367.8 1562,196.6 1563.4,321.9 1576.7,215.8 1519.8,392.5 1569,209.9 1355.3,370.9 1395.7,331.4 1401.1,348.5 1575.7,232.9 1375.6,390 1573.9,223.6 1321.7,388.7 1432.8,389.2 1319.1,385.8 1560.9,209.9 1449.6,264.7 1361,368.1 1345.7,354.8 1428.6,391.2 1340.1,390.3 1433.1,385.2 1491.5,391.4 1420.9,304.8 1383.3,386.8 1509.9,224.3 1556.2,335.2 1385.9,361.9 1563.8,315.4 1380,349.5 1499.7,384.6 1569.5,326.3 1524.3,223.9 1570.4,221.2 1560.3,343.9 1516.9,388 1563.8,309.4 1520.4,387.8 1454.8,282.1 1544.7,380.7 1373.9,361.7 1408.7,384.8 1478.1,255.2 1363.7,389.5 1413.8,292 1445.7,287.9 1432.4,393.1 1430.1,391.6 1438.4,298 1415.2,391.4 1496.3,231.5 1464.7,237.6 1567.9,211.3 1354.4,360.1 1421,313.4 1411.5,329.9 1578.3,249.7 1355.3,369.2 1568.1,217.2 1451.1,282.2 1569.9,293.6 1392.3,348.3 1426.4,390.9 1478.8,244.8 1445.2,260.2 1446,271.9 1570,259.9 1530,218.5 1428.6,389.6 1408.8,291.2 1497.3,244.6 1557.6,205.4 1550.2,210.8 1342.3,376.2 1426.6,301.4 1551.8,349.7 1344.7,390.4 1514.2,228.5 1571.8,300.8 1431.1,394.8 1427,297.4 1416.2,341.2 1354.7,348.4 1469.9,272.3 1558.3,320.7 1482.8,243.2 1565.8,335.2 1575,253.6 1474.9,383.3 1461.9,256.3 1331.4,378.7 1430.1,386.9 1357.7,357 1440.4,273.3 1579.1,253.8 1345.8,390.2 1381.7,337.7 1483.9,251.6 1449.5,290.6 1370.8,346.7 1566.5,208.5 1560.1,311.2 1484.9,258.2 1560.8,211 1551.2,346.1 1571.6,209.7 1362.1,353.6 1471,247.4 1503.2,383.1 1424.3,297.6 1557.9,338.7 1454.7,393.2 1399.3,311.2 1456.1,385.8 1445.7,273.4 1564.4,331.1 1351.8,381.3 1364.4,388.1 1380.1,387.9 1549.6,360.1 1557.4,356.7 1574.4,197.1 1531.8,214.4 1410.9,348.7 1367.4,360 1459.8,269.4 1359.6,383.2 1362.9,381.6 1445,276.7 1333.6,387.8 1510.6,221.7 1343.2,392.7 1552.3,366 1585.4,229.6 1507.2,389.6 1396.5,393.5 1514,389.1 1467.5,265.7 1415.5,328.8 1360.2,357.7 1548.5,347.9 1549.3,358.7 1519.6,223.5 1567,220.2 1359.3,355.3 1550.3,390 1575.8,289 1355.9,383.4 1544.2,380.2 1421,275.3 1548.9,381.1 1423.9,304.9 1386.5,353.3 1485,244.3 1408.8,303.7 1382.6,328.5 1517.3,389.3 1565.1,215 1524.6,384.2 1410.8,310.1 1403.2,353.5 1410.1,342.3 1530.3,393 1375.4,360.5 1377.1,389.2 1495.6,387.1 1398.8,356 1351.1,372.7 1570.9,292.7 1384.7,307.7 1401.4,351.6 1537.6,390.3 1423.7,310.3 1531.8,392.4 1528,385.1 1536.5,388.3 1564.8,208 1574.2,234.2 1502.7,242 1316.6,388.1 1529.3,216.8 1560.8,324.8 1425,393.4 1488.4,384.6 1390,349.2 1420.9,386.6 1565.8,304.1 1362.8,379.3 1356.9,374.6 1571.3,230.8 1495.8,246.9 1559.6,329.8 1567.9,272.4 1481.1,384.8 1437,268.2 1538.7,200.9 1521.6,393.2 1564.2,214.2 1412.7,306.5 1567,204.5 1560,311 1419.2,394.6 1562.2,312.3 1505.6,385.6 1362.4,373.8 1561.5,289.1 1368.8,346.4 1573.9,283.6 1552.1,349.3 1462.2,272.2 1578.2,259.8 1569.2,253.5 1454.2,278.3 1376.2,317.4 1331.5,376.8 1490.6,243.7 1457.2,273.2 1382.1,386.4 1568.3,219.6 1540.1,382.2 1414.4,390.7 1398.2,312.8 1478.7,249 1555.5,343.9 1552.8,391.5 1437.6,292.2 1553.7,367.8 1381.1,358.5 1566.5,282.8 1553.6,343.1 1471.7,390.6 1417.6,339.7 1380.4,357.1 1472.6,269.2 1527.2,221.1 1435.4,384.8 1498.4,238.6 1354.4,359 1573.2,233.6 1557.3,338 1463.2,268.4 1420,314.6 1388.1,386.7 1447.2,384.3 1540.9,384.5 1499.8,384.1 1388.9,356.6 1410.9,309.5 1562,201.4 1419.3,309.8 1567.3,278.8 1320.6,391.3 1423,317.4 1544.9,388.7 1472.5,257.9 1456.4,259.7 1515.6,387.5 1512.1,223.6 1563.3,308.2 1543.4,370 1365.6,378.5 1421.8,312.2 1573.8,282.9 1365.5,386.1 1398.2,343.1 1365.6,385.2 1470.3,245.5 1407.4,345.6 1349.7,370 1576.7,254.8 1476.2,244.5 1376.4,333.9 1567.1,317.4 1399.3,342.4 1364.1,371.5 1393.8,357.8 1357.8,387.4 1524,385.3 1550.5,362 1517.5,389.4 1579.5,226.9 1430.2,301.8 1509.6,219.8 1565.2,269.9 1313.1,387.6 1552.4,344.6 1510,236.7 1374.1,338.2 1351.8,368.4 1560.1,308.7 1543.8,208.7 1581.1,241.1 1339.1,378 1407.2,290.4 1402.7,314.1 1363.7,377 1574.1,220.1 1328.9,389.1 1558.5,332.5 1569.4,232.9 1357,391 1560.7,340.2 1538.4,204.3 1573.2,205.9 1572.1,311.1 1481,255.1 1397.6,306.5 1566,289.3 1472.2,243.6 1417.7,394.4 1569.6,208.5 1558.9,342.8 1533.8,386.8 1582.7,242 1460,274.6 1367.2,383.9 1373.9,349.9 1324.1,388.1 1458.7,388 1478.2,384.3 1547.7,210.9 1458.4,279.1 1531.7,221.6 1498.7,392 1564.6,286.8 1467.3,272.8 1429.3,281.7 1473.3,258.3 1563.7,293.2 1569.4,256.2 1561.2,308.9 1568.1,210.4 1501.3,219.7 1560.7,340.7 1396.9,392.1 1540.5,386.6 1393,339.3 1549.3,366.2 1480.4,249.8 1430.2,276 1564.5,300.6 1543.9,363.5 1426.8,276.9 1551.4,385.7 1440.1,387.9 1418.6,296.5 1575.2,213.9 1363.1,348.4 1410.3,331.1 1491.5,238.8 1495.7,232.5 1545.3,391.6 1447.6,271.6 1530.4,392.2 1318.1,394.1 1563.6,278.7 1507.7,390.9 1517.2,229.1 1475.3,260.5 1381.7,363.5 1443.5,286.8 1523.3,217 1373.4,385.3 1325.5,392.7 1540.2,382.8 1448.8,386.1 1558.2,345.4 1323.5,383.9 1564,310.9 1560.5,295.5 1553.4,368.2 1354.8,393.2 1425.6,277.4 1422.9,319.6 1567,338.4 1463.7,270.4 1436.8,277.7 1453.5,393 1447.4,271.3 1582.3,227.6 1510.7,390.3 1484.5,240 1566.1,272 1553.6,203.9 1501.6,383.9 1548.9,369.5 1567.6,199.5 1440.4,296.6 1372.1,357.7 1397.7,315.4 1573.1,216.7 1418.7,320.2 1391,354.8 1574.2,219.3 1367.1,362.9 1525.5,222.3 1368.5,363.2 1485.5,389.9 1548.6,372 1456.6,280.7 1550.3,387.4 1481.3,390.7 1393.7,353.5 1567.6,291.4 1430.5,391.9 1416,330.1 1405.5,336.4 1457.8,263.3 1565.3,278.6 1562.8,296.8 1411.1,333.8 1547.4,202.2 1428,304.1 1400.1,348.4 1501.6,391.7 1375.2,344.6 1441,278.5 1413.3,337.3 1539.8,382.3 1574.8,215 1568.1,247.4 1492.2,224.9 1417.6,334.6 1434,295.9 1334.8,389 1570.2,293.2 1555.9,342.8 1321.8,388.7 1405.9,389 1453.6,390.8 1540.1,381.9 1567,300.6 1411.3,389.9 1432.5,297.6 1561,197.8 1412.4,295.7 1428.1,389.2 1371.6,361.1 1457.1,281.4 1416.7,306.6 1563.7,318.2 1423.1,318.2 1380.1,361.6 1387.2,357.2 1465.8,386.9 1476.7,232.2 1499.6,220.1 1467.2,256.7 1390.1,358.8 1383.6,387.7 1483.6,390.6 1487.2,387 1359.4,351.5 1579,261.4 1553,209.8 1494.6,392.2 1412.3,336.7 1530.8,221.1 1334.6,391.7 1540.3,386.7 1465.6,276.8 1497,390.8 1545.7,212.4 1558.1,209.1 1458,384.6 1459.2,392.8 1573.3,206.3 1416.8,324.7 1362.6,339.8 1464.6,385.7 1400.5,324.5 1560,351.8 1473.8,391.7 1413.8,345.3 1486.8,240.1 1571.6,273.6 1423.5,303.6 1558.4,348.1 1411.9,318.1 1449.2,271.7 1508.6,225.3 1431,289.9 1533.4,389.4 1419,307.5 1353.1,364.7 1569,304.9 1470.2,393.4 1521.1,393.5 1379.2,350.4 1429,297.5 1422.5,394 1480.8,392.1 1534.3,393.1 1401.8,347.7 1522.3,388.6 1566.8,255.3 1569.5,246.7 1522.3,391.6 1483.5,391.6 1530.1,387.9 1549.9,366.9 1469.4,265 1519.2,220.1 1515.1,384.9 1492.9,251.5 1512.5,386.9 1416.1,323.2 1338,387.2 1540,202.5 1420.1,299.3 1536.6,386.7 1467.3,258 1567.1,246.5 1430.1,279.7 1517.8,220.7 1520.6,228.2 1528,387.5 1404.1,333.4 1447.8,394.7 1386.2,355.5 1443,272.7 1569.3,321.4 1565.3,306.3 1496.7,239.9 1477,242.9 1525.1,219.3 1399,354.9 1446.8,388.4 1503.7,235.4 1377.8,358.2 1414.9,336.9 1489.2,226.6 1565.6,312.6 1483.1,259.6 1568.6,289.8 1553.4,348.6 1556.2,323.2 1346.9,365.5 1462.5,388.7 1331.9,387.9 1415.3,325.8 1448.1,388.1 1392.1,386.6 1327.7,389 1557.8,206.7 1550.1,374.7 1570.6,204.7 1414,393.7 1567.4,314.8 1432.4,295.6 1555.9,389.2 1502.5,383.1 1550.5,208.9 1426.3,291.4 1399.4,392.2 1389.1,351.1 1537.2,385.9 1561.6,211.4 1566.8,288.2 1577.7,209 1473.8,383.2 1486.4,254.5 1347.4,385.5 1399.9,339.2 1473.1,390.6 1389.7,338 1561,352.9 1375.5,348.8 1455.9,266.7 1402.3,302 1568.4,284.7 1337.4,373 1372.2,353.3 1469.5,258.9 1332.7,388.9 1521.3,217.3 1453.3,267.7 1380,346.1 1556.3,200.5 1558.1,331.9 1449.9,268.8 1449,282.3 1474.7,394.3 1565.4,310.5 1438.9,290.8 1477.9,229.9 1432,285.2 1423.1,384.8 1485.7,390.5 1412.9,336.6 1490.2,231 1411.7,321 1404.1,389.6 1428.1,393.4 1515.3,215 1411,311.6 1577.2,226.3 1360,385.9 1562.1,280.3 1453.3,274.9 1466.1,242.7 1570.6,292.7 1398,333.6 1428.3,305.7 1375.2,384.3 1569.7,292.7 1469.3,251.2 1538,391.6 1358.7,381.8 1394.5,358.1 1583.2,222.3 1424.5,315.2 1423.1,295.8 1494,391.9 1571.8,194.6 1554.7,356.6 1386.4,359.5 1547.7,368.4 1405.7,351.2 1519.8,387.2 1487,241.7 1575.9,264.7 1355.6,383.7 1534.8,217.2 1458.3,265.2 1567.7,211.4 1491.8,390 1422.4,391.7 1555.8,353.1 1396.7,385.3 1372.4,361.6 1574.3,260.9 1570.4,270.4 1404.2,324.8 1551.6,361.6 1459.1,261.2 1464,278 1404.8,385.2 1366.1,328.7 1554.2,200.5 1523.8,228.3 1457.2,254.7 1550.9,357.7 1550.5,354.2 1511.9,383 1561.6,195.6 1475.8,386.1 1483.7,384.6 1492.2,392.6 1429.5,284.7 1394.8,344.7 1406.6,318.5 1458.4,276.8 1570.3,219.3 1519.5,384.9 1360.4,348.3 1401.5,310.5 1367.1,369.8 1406.4,334.7 1531.4,218.4 1499.7,386.9 1401.4,387.1 1365.3,380.6 1564.4,312.9 1572.7,227.3 1558.4,197.1 1562.4,301 1487,252.4 1504.1,213.2 1406.8,348.6 1406.1,339.8 1368.2,361.2 1526.2,385.5 1480.7,391.4 1480.6,240.2 1552.2,385.2 1567.9,272.2 1470.4,389.4 1429.8,383.3 1487.2,234.9 1555.1,360.6 1351.1,336.1 1392.3,383.4 1557,357.3 1575.6,224.7 1365.4,344.1 1428.3,385.7 1337.9,365.6 1457.2,270.1 1413.3,386.6 1562.3,333.4 1455.1,389.7 1456,263.4 1340.9,357.7 1511.2,237 1433.3,289.6 1477.1,238.5 1361.4,375.5 1370.2,385.7 1568.3,260.4 1354.9,339.8 1500.1,228.2 1326.1,390.7 1326.6,386.1 1439.3,284.4 1394.1,349.9 1548.8,207.4 1359.7,380.7 1408,351.7 1364,372.3 1383.7,337.1 1575.6,217.9 1465.9,266.5 1490.8,242.5 1569.8,269.5 1343.7,391 1339.3,379.7 1473.8,389.9 1554.5,202.2 1585.7,235.3 1404.7,387.4 1570.9,195.5 1544.8,384.7 1442,287.1 1421.5,323.5 1509.9,390.4 1418.6,312.8 1354.3,389.1 1544.7,368 1558.9,201.1 1353.6,350 1379.1,386.9 1468.1,388.1 1401.7,388.5 1568.7,268.7 1410.3,385.2 1455.1,285 1439.2,277.7 1438.4,292.4 1346.4,361.1 1352.3,379.7 1414.1,307.5 1382.2,393.5 1403.2,339.5 1566.9,317.3 1564.2,304.8 1414.2,324.7 1412.5,319.6 1527.3,221.8 1425,313.8 1396.3,387.4 1558.1,193.6 1527,224.7 1382.8,342.8 1423.3,390.1 1571.2,210.8 1446.7,279.3 1537.7,386.1 1562.9,318.2 1448.7,278.1 1456.5,259.5 1429.9,306 1585.4,217.3 1414.5,289.5 1538.5,394 1565.2,285.9 1408.3,385.6 1341.5,361 1577,260.4 1371.3,361.9 1400.3,326.8 1429.5,306.9 1416,311.3 1409.4,335.5 1498.4,229.2 1498.8,221.7 1569.1,230.2 1570.9,246 1550.7,387.4 1502.5,384.6 1321.1,381.9 1475.9,389.1 1486.3,390.5 1544.6,210.2 1574.1,225.5 1357.7,390.2 1456.1,269 1441.4,292.5 1514,223.7 1455.2,257.2 1560.5,329 1534.4,388.6 1487.4,387.1 1352.2,348.1 1560.8,213.7 1570.5,323.9 1527.5,213.3 1405.7,390.9 1385.7,332.7 1465.4,261.9 1494.7,235.8 1369.7,341.3 1548.3,360.3 1412.3,329.1 1566.1,323.6 1488.1,249.1 1429.8,299.5 1567.6,252.6 1456.9,266 1446.6,278.1 1450.2,279.7 1497,393 1428.9,297.8 1383.9,386.9 1436.5,393.2 1397.1,332.4 1472.5,252.3 1442,261.9 1424.6,277.2 1496.6,244.4 1396.9,358 1408.2,319.3 1357.4,385 1420.1,292.5 1541.3,213 1519.9,215.6 1560.1,310.9 1468.2,384.4 1506.2,233.3 1530.8,388.6 1444.4,266.4 1367.4,368 1519.8,392.5 1572.1,223.4 1408,345.2 1570.4,280.2 1546,209.3 1542.8,372.6 1572.6,306.3 1552.1,341.9 1585,217.7 1488.5,236.4 1432,300.1 1558.3,336.4 1376.5,344.4 1380.7,321.5 1357.8,385.7 1499.5,229 1402.6,387 1428.4,289.5 1434,383.4 1564.9,322.6 1379.1,347.7 1583.2,214.6 1477.8,264.3 1442.1,388.3 1462.2,278.8 1441.9,295.4 1462.3,279.6 1488.8,248.7 1432,389.1 1455,282.8 1420,296.4 1577.4,258 1550.1,211.5 1418.4,292.8 1383.4,351.8 1557.7,364.7 1562.3,339.2 1557.7,330.3 1541.6,209.6 1475.8,386.2 1452.6,282.6 1465.9,254.6 1567.2,255 1385.4,344 1583.2,229.8 1348.5,377.3 1430,392 1465.3,274.9 1448.4,392.4 1387,334 1346.8,369.5 1362.1,360.5 1509.1,390.6 1461.5,384.6 1362.5,367.5 1557,339.8 1464.1,276.1 1493.6,231.4 1466.6,257.1 1539.2,213.5 1352.7,359.5 1439.1,290.2 1577.3,242.4 1571.3,234.8 1515.9,385.8 1570.4,264.7 1371,353.6 1337.2,381.9 1391,310.3 1424.2,386 1421.8,315.8 1417,330.6 1451.9,283.1 1568.2,295.3 1389.1,390.2 1409,341.6 1412.7,392.1 1556.8,210.5 1487.4,237.5 1405,350.1 1489.5,245.3 1545,371.7 1460.7,269.3 1479.4,255.5 1376.2,387.9 1579.3,219 1387.2,358.5 1465.2,266.2 1514.9,211.1 1401.3,354.1 1460.9,279.4 1438.9,268.8 1361.1,377.5 1573,267.9 1423.8,295.2 1469.1,392.9 1492.7,394.4 1516,389.5 1458.3,262.1 1525.7,386.8 1393.4,304.7 1444.1,393 1578.1,245.9 1583.6,241.3 1492.9,389.3 1516.4,392.4 1460,386.9 1448.9,287.2 1533,207.7 1487.2,388 1369,385.5 1495.8,389.6 1433.8,295.4 1438.4,296.2 1478.4,262.9 1566.5,287.2 1571.5,292.6 1499,244.1 1404.3,305.5 1559.6,327.7 1540.6,389.1 1571,233.1 1563.3,295.2 1548.9,210.6 1496.5,240.8 1374.9,390.8 1433.6,296 1338,390.4 1541.8,203.4 1563.8,205.7 1393.7,388.4 1467.5,259 1323.1,385.2 1481,257.2 1478.6,254.2 1467.7,385.9 1543,375.8 1571.5,241.7 1547.1,196.6 1379.5,388.9 1564.1,319.9 1580.5,241.1 1400.9,341.7 1419.6,314.2 1408.6,386 1557.7,347.9 1467.1,257.2 1369.3,386.3 1359.7,357.6 1416,289.4 1355.7,384.7 1419.4,327.9 1446.8,271.7 1357,374.1 1452.9,387.6 1516.7,391.9 1548.7,371.5 1421.3,391.2 1508.6,390.7 1413.8,392.9 1548.4,209.3 1411.3,340.6 1565.2,321.1 1333.7,381.5 1527.3,215.8 1337.7,365.9 1411.6,392.2 1504.3,385.2 1560.3,325.5 1460.5,387.9 1579.5,209.5 1398.1,348.5 1536,202.8 1504.8,239.3 1568.6,275.4 1497.9,243.1 1555.6,344.6 1572.5,217.9 1546.8,388.8 1371.8,388.1 1421.8,292.2 1393.2,318.1 1559,313.2 1568.8,265.3 1363.9,354.5 1369.5,387 1356.3,365 1422.3,384.7 1356.3,380.9 1488.1,394 1461.7,275.7 1572.9,232.3 1444.1,289.9 1527.1,390.8 1388.1,326 1415.4,328.2 1403.6,331.4 1579.5,257.2 1471.1,262.3 1404.1,306.4 1440.4,391.7 1575.3,239.9 1441.4,393.3 1494.9,393 1360,378.9 1509.1,233.6 1419.9,290.7 1370.3,362.7 1510.7,220 1425.2,285.5 1445.3,388.1 1387.4,338.1 1401.8,385 1420,316.9 1371.7,392.5 1344.5,361.1 1384.8,357.9 1399.3,325 1386.1,356.6 1476.2,261.2 1567.3,258 1560.8,301.5 1548.5,355.9 1368.8,331.7 1545.2,386.4 1380.6,348.7 1466.8,388.4 1582,255.2 1438.7,282.9 1483.8,388.1 1463.1,263.9 1406.6,349.9 1543.4,390.4 1381.2,363.8 1334.4,373.4 1486.5,385.5 1563.7,287 1501,243 1514.7,217.9 1487.2,241.6 1382.4,390.3 1450.9,277.8 1498.4,227.2 1554.4,359.9 1509.9,232.1 1354.9,369.2 1523.9,394.1 1347.1,364.4 1482.6,237.8 1395.5,342.7 1414.4,387.1 1449.7,279.4 1570.2,272.4 1384.9,386.1 1542.4,384 1376,346.1 1540.1,216.3 1524.4,215.9 1493.1,241.2 1392.3,331.2 1509,225.8 1557.6,319.2 1409.9,340.1 1560.4,294 1568.8,283.5 1359.5,344.5 1354.1,388.2 1430.1,308.9 1409.2,348.7 1560.6,320.3 1568.2,302 1431,302 1470.2,265.9 1565,323.5 1355.7,364.7 1469.7,266.1 1351.5,385.2 1399.5,323 1406.2,347.5 1491.1,388.5 1403.4,348.3 1423.5,293 1457.7,283.5 1513.7,227.6 1563.4,212.5 1438.1,393.1 1371.9,365.8 1456.2,277.9 1559.5,210 1576.4,261.7 1567.8,333.5 1421.2,288.6 1470.5,263.3 1568.3,198.8 1559.7,338.9 1586.4,214 1401.2,328.8 1373.5,386.4 1424.1,391.6 1390.1,321.7 1497.8,239.8 1429.1,290.2 1564.5,277.6 1563.4,200 1452,288.7 1507.3,390.9 1452.2,385 1468.7,391.2 1431.8,300.6 1554.9,332.4 1481.9,390.4 1392.5,326.3 1405.4,343.2 1569.7,236.4 1473.9,254.9 1568.8,249.4 1517.2,227.4 1543.7,210.1 1350.6,349 1554.6,354.2 1488.2,390.8 1409.8,300.4 1368.7,348 1564.7,267.9 1517.5,217.1 1568,277 1563.9,333.6 1384.1,340.4 1347.5,389.4 1481.6,247.1 1365,371.1 1331.5,388.6 1377.6,391.9 1570.7,312.7 1335.7,375.3 1564.8,286.2 1567.9,265.2 1540.6,216.2 1442.3,287.4 1564.4,197.1 1386.1,355.4 1501.9,229.4 1435.4,299.3 1408.8,386.7 1564.9,215.3 1408.8,301.9 1565,310.4 1478.2,251.9 1564,282.8 1582.4,223.6 1456.8,262.2 1519,212.1 1408,330 1573.2,279.1 1444.6,281.1 1551.2,204.4 1567.8,299.8 1430.1,284 1400,386.9 1431.8,394.2 1535.8,205.1 1484.4,250.4 1557.5,208.4 1554.2,335.4 1428.2,285.2 1518.4,390.1 1543.8,371.4 1543.7,208.1 1554.9,390.4 1544.7,365.7 1419.4,288.8 1365.9,359.6 1437,298.2 1397.7,386.1 1420.3,324.4 1540.2,380.1 1492,251.9 1520,220.8 1547.1,367.7 1567.2,209.7 1441.4,385.3 1342.8,390 1550.3,198.9 1461,249.7 1508.1,386.4 1405.5,343.1 1568,259.2 1404.8,293 1326.5,381.8 1567.1,307.4 1466.6,262.6 1364.4,385.3 1353.8,371 1451.9,282.3 1548.9,368.5 1345.9,382 1575.1,275.4 1521.5,388.5 1387,359.9 1357,393.6 1448.7,252.7 1421.1,289.8 1549.4,347.6 1575.1,266.6 1574.4,256.6 1520.4,207.3 1454.8,386.7 1561.2,200.6 1412.5,311.5 1572.1,253.2 1382.1,356.7 1405.4,300.1 1571.3,227.4 1582.1,234.7 1359.2,382.1 1432,384.1 1376.4,334.8 1562.1,325.3 1398.5,308.2 1486.1,251.7 1467.7,260.1 1558,320.9 1572.4,229.5 1562,302.5 1376.3,349.6 1458.1,386.6 1470.9,270.4 1377.1,356.2 1504,393.1 1341.6,392.9 1510.6,233.5 1415.9,294 1399.3,344.9 1440.1,279 1579.2,243.5 1569.8,267.7 1377.2,386.8 1360.4,389 1385,352.4 1562.5,194.5 1580,277 1439.5,274.8 1417.4,309.1 1456.4,270.2 1561.8,336.2 1389.9,311.7 1482,394 1499.7,226.6 1409.2,312.1 1468.8,272.1 1586.7,215.2 1493.6,386.3 1461.8,278.7 1390.6,353.6 1515.9,225.9 1334.2,379.1 1565.7,216.2 1526,390.9 1563.6,275.7 1326.3,385.9 1480,247.2 1566.4,206.7 1436.9,383.4 1435.3,275.9 1553.4,337.6 1430.7,289.3 1557.7,205.3 1576,267.2 1406.9,293.7 1553.2,367.3 1461.7,268.8 1439.7,297.4 1461.6,386.1 1502.8,390.9 1341,382.8 1328.1,386.9 1376.1,388.2 1452.7,253.9 1357.3,338.3 1540.8,379.3 1485.4,235.8 1536.2,384 1376.1,387.1 1537.9,198.5 1570.6,291.7 1405.2,353.8 1541.8,371.6 1431.5,275.9 1413,345 1403.6,293.4 1460.5,280.5 1359.1,378.1 1533,208.6 1560.9,212.9 1569,286.6 1343.2,367.3 1369.1,388.4 1558.1,323.5 1571.9,240.6 1465,260.1 1569.2,245.2 1524.3,224.3 1533.5,199.6 1445.7,282.5 1415,336.3 1535.9,219 1436.4,284.6 1554.1,374.7 1368.8,392 1563,204.9 1561.7,209.3 1490.5,234.2 1499.2,393.2 1570.8,222.6 1392.5,343.9 1356.7,362.8 1404.3,307.7 1540.2,207.8 1549.5,378.1 1376.4,333.5 1545,381.7 1410.4,337.6 1487.1,393 1561.8,348.8 1495.5,247.3 1479.9,261.3 1429.6,392.2 1524.5,210.1 1408.5,321.5 1359.5,353 1561.3,295.7 1374.9,394 1571.7,253.5 1417.1,299.7 1549.6,211.6 1573.9,221.9 1348.9,387.6 1412.3,384.5 1498.1,384.3 1479.4,248.4 1541.4,381.5 1409.2,385.5 1420.5,296.8 1332.4,379.8 1479.4,264 1571.9,264.8 1574.5,278.2 1327.1,388.6 1571.4,238.6 1323.5,393.5 1511.9,386.1 1410.3,392 1461.8,271.4 1513.5,228.6 1464.3,386.6 1321.8,391.3 1574.2,220.7 1445.3,290.8 1562.3,289.2 1441.8,390.4 1435.7,274.4 1380.2,332.9 1404.8,319.3 1428.9,294.5 1378.3,319.6 1336.6,385.2 1562.3,282.3 1322.9,392.6 1533,207.5 1421,326.9 1497.3,389.3 1416.4,289 1412.1,391.5 1413.5,393.8 1405.8,308 1473.9,387.9 1373.9,386.3 1432.8,389.3 1461.9,255.7 1553,336.5 1561.6,299.1 1372.5,385 1410.9,286.1 1320,383.7 1580,234.1 1556.6,353.8 1375.8,391.5 1342.7,367.7 1516.7,392.4 1492.9,248.7 1471.4,385.1 1471.1,268.7 1476.2,385.3 1465,253.9 1560.1,342.1 1475.9,244.4 1555.2,361.9 1385.9,385.2 1494.1,385.5 1384.2,341.4 1429.9,302.4 1376.6,331.2 1569.6,236.1 1437.4,294.2 1568,258.3 1364.8,362 1518.1,220.4 1519.2,221.2 1389.1,354.9 1548.4,380.4 1468.9,268.1 1359.2,367.1 1513.3,389.9 1420.1,316.8 1427,308.5 1558.6,342.6 1571.2,247.5 1567.2,280.5 1568.8,203.9 1429.5,292.1 1445.9,291.1 1544.9,379.4 1544.8,376.3 1562,339.3 1553.6,335.2 1334.1,385.2 1547.3,354.4 1353.1,371.9 1377.4,333.9 1377.4,391.7 1512.6,228.3 1538.8,195.1 1418.7,286.7 1397.1,349.9 1538.9,215.4 1461.5,251.5 1520.6,385.8 1475.8,391.4 1327.6,391.2 1491.3,241.1 1483.5,259.6 1459.9,390 1468.7,258.7 1407.2,323.1 1484.6,241.9 1581.9,248.2 1564.8,285.9 1570.7,211.5 1417.9,318 1578.1,239.9 1414.1,309.8 1417.4,316.1 1338.4,394 1393.5,334.6 1585.1,209.1 1571.5,248.8 1570.5,301.5 1499.8,390.2 1420.3,313.6 1452.5,286.1 1568,310.8 1494.4,245.1 1436.6,295 1411.4,306.9 1518.1,388.4 1476.1,393.5 1574,234.1 1406.9,344.7 1388.6,391.4 1554.1,354.7 1407.2,316.4 1385.5,362.1 1428,276.4 1379.5,355.5 1489.1,239.7 1568.4,302.1 1426.5,288.6 1556.8,333.3 1562.7,331.8 1410.3,285.7 1563.3,308.3 1413.7,314.6 1475.7,385.5 1389.3,357.3 1336.9,382.7 1481.2,251.5 1340.4,378.8 1540.2,392.8 1566.4,319.7 1406.5,338.2 1462.8,393.1 1474.4,244.3 1554.8,341.9 1350.4,366.2 1413.1,332.1 1473.7,252.6 1353.5,352.3 1560.8,299.2 1406,331.1 1523.6,384.7 1391.9,354.8 1570.5,240 1448.8,273.4 1548.1,357.4 1476,261.4 1566.8,297 1551.8,211.8 1573.8,248.4 1571.2,306.3 1330.8,392.1 1529.8,388.1 1573.5,301.2 1401.3,339.2 1452.2,391.2 1439.3,387.9 1572.5,291.9 1569.2,215.7 1569.3,301.7 1571.4,318.1 1541.8,214.8 1556.2,340.4 1551.8,375.4 1573.3,289.3 1509,389.4 1409.8,307.1 1573.6,207 1528.3,221.1 1481.7,260.4 1571.1,222.6 1444.6,288.9 1413.3,334.8 1477.3,235.7 1578.8,214.4 1450.1,255.3 1354.7,388.9 1545.3,360.4 1372.6,344 1352.5,379.8 1493.3,390.7 1540.7,210.9 1563.5,278.5 1493.2,247.3 1514,221.2 1371,365.1 1546.9,207.9 1482.6,255.4 1545.9,370.8 1433.4,296.1 1549.8,355 1558.8,360.6 1483,388.8 1395.2,393.6 1469.7,272.3 1504.8,390.6 1550.1,371.1 1517.8,386.2 1569.6,225.2 1543.2,368.2 1442.7,295.4 1486.4,241.5 1560.1,199.9 1509.4,218.2 1351.1,353.6 1351.4,374.4 1325.9,385.8 1566,280.1 1364.1,377.7 1396.9,340.7 1381.3,320.8 1481.9,248.3 1529.6,220.5 1380.2,393.5 1476,259.9 1476.3,264.8 1531.4,387 1457.4,278.5 1435.6,388.9 1340.4,374.4 1422.8,385.5 1549.2,361.8 1564.5,300.7 1429.9,300.7 1357.9,393.9 1361.1,391.4 1524.5,385.2 1409.8,384.5 1455.2,264 1561.1,332.1 1398.4,335 1540.6,394.3 1371.4,357.8 1388.5,345.9 1362.3,389 1320.7,391.3 1553.8,336.8 1386.2,390.7 1434.7,277.5 1476.1,252.4 1558,342.7 1457.2,271.7 1319.1,387.7 1494.3,237.5 1362,352.3 1375.5,350.4 1488.6,387 1574.8,254.4 1567.2,216 1362.5,390.8 1415,320.8 1420.7,295.2 1498.7,225.2 1387.9,337.6 1423.7,386 1336.5,376.9 1396.1,386.3 1495.3,225.1 1350.6,380 1424.5,387.6 1397.5,340.5 1552.5,364.9 1580.8,246.9 1362.3,365.1 1446.7,273.8 1453.6,286.9 1415.5,326.6 1500.9,234.2 1569.4,261.8 1366.6,387.9 1492.7,392.3 1391.1,336.8 1542,375.9 1370.3,355.7 1414.8,320.2 1344.2,368.3 1344.8,388.2 1364.2,393.5 1580.1,231.8 1581.1,243.7 1411,297.9 1420,276.5 1562.5,318.1 1577.8,217.9 1456.1,256.6 1576.1,268.8 1369.4,345.7 1398.2,332 1555.5,196.6 1498.2,228 1488.5,388.6 1384.5,341.5 1463.6,274 1567.1,281.4 1447.2,279 1426.2,305.1 1510.4,389.8 1561.6,292.8 1394.7,304.9 1561.5,303.7 1431.8,282.3 1529.3,384.2 1486.2,254.3 1492.5,251.6 1451.9,386.5 1563.9,202.3 1540.7,202.9 1410.5,332.5 1568.9,248.6 1447,278.9 1410.1,348.4 1397.7,387.6 1477.6,243.2 1343.7,376.9 1390.4,346.1 1392,350.5 1417.1,387.4 1374.4,363.9 1463.4,258 1435.5,280.3 1512.3,387 1547.4,211 1395.2,355.5 1535.8,389.5 1452.2,285.2 1481.6,251.3 1576,208.3 1524.5,207.5 1415.5,392 1573.7,255 1430.9,299.3 1573.7,270.4 1473.1,256.9 1574.4,257.6 1549.7,206.3 1532.3,392.7 1362.1,344.6 1559,352.4 1459.2,273.6 1358.1,365.9 1553.2,211.1 1567.6,269.7 1417.7,312.2 1470.9,237.1 1458.3,253.4 1549.6,365.2 1549.1,357.3 1566.2,303.2 1345.5,373.9 1456.2,277.1 1444.2,393.7 1545,360.9 1478.8,246.4 1575.8,222.9 1422.2,314.4 1508,231.9 1581.4,235.8 1528.2,224.7 1463.3,392.1 1412,306.6 1393.4,385.2 1538.2,383.7 1580.2,262.9 1402.6,392.6 1497.4,385.9 1362.3,382.2 1416.4,328.7 1444.1,280.7 1460,275.4 1425.4,290.8 1462.7,384.1 1441.6,388.7 1408.7,346.2 1542.2,370.1 1350.8,393.8 1567.7,331.7 1573.3,283.4 1574.4,236.6 1482.6,394.9 1359,372.5 1564,300.8 1577.7,262.8 1548.8,207.6 1551,383.9 1571.2,259.1 1464.6,393.7 1474.4,383.9 1461.5,251.6 1546.9,376.7 1428.2,284.2 1457.9,274.9 1356.7,361.3 1391.4,320 1319.7,389.1 1418,333.6 1574.2,240.2 1479.9,235.7 1368,368.5 1349.8,376.8 1417.8,328.1 1386.1,390.1 1474.9,247.2 1370.5,387.5 1540.2,215.6 1417.9,319.7 1509.3,227.5 1536.8,386 1505.6,229.2 1512.6,216.7 1464.7,271.4 1559.5,315.2 1543.2,377.4 1498,228.8 1438.8,293.5 1523.1,223.9 1362.5,392.5 1559.3,212.6 1379.3,360 1568.5,203 1415.6,284.4 1374.8,339.6 1381.3,352.6 1433.6,283.1 1536.8,392.7 1480.4,260.6 1459.6,255.6 1467.7,250.2 1427.2,391.4 1544.2,394.9 1582.5,235.3 1556.5,331.5 1424.6,389.7 1394.5,390.8 1403.2,342.2 1541.1,384.6 1431.6,391.4 1422.5,302.9 1567.9,315.2 1449.7,393.2 1500.8,391.2 1548.8,210.1 1551,387.1 1383.3,354.6 1449.8,289.8 1379,347.8 1412.3,327.4 1547.5,388.9 1364.9,364.8 1502.1,230.5 1544,212.4 1515.4,232.3 1530.2,390.4 1498.2,223.6 1332.6,387.9 1410.4,389.4 1542.6,376 1376.8,360.8 1437.9,391.3 1361.6,363.7 1543.6,380.5 1491,239.3 1575.5,256.8 1359.9,361.6 1347.2,350.1 1393.5,356.8 1408.6,329.1 1569.4,247.9 1462.5,267 1436.9,383.7 1512,383.7 1493,242.4 1385.1,390.3 1358.9,371 1376.2,358.9 1375.5,387.9 1383.8,307 1414.1,388.8 1559.2,199.4 1560.4,295.5 1549.3,212 1467.7,384.1 1455.6,270 1365.8,369.8 1561,298.3 1460.8,384.1 1396.1,390.8 1424.3,301.2 1336.4,389.1 1513.1,388.3 1404.4,345.5 1531,385.4 1417.7,317.9 1450.4,288.7 1426.4,386.5 1539.8,208.7 1440.8,294 1570.9,270.4 1568.9,251.2 1561.2,211.5 1327.5,387.4 1487.4,234.1 1558.1,319.7 1564,270.1 1371.1,385.2 1562.3,312.5 1501.4,388.7 1542.7,213.7 1398.3,383.7 1522.9,227.8 1438.4,392.2 1574.7,308.7 1569.1,231.8 1568.2,295.3 1424.6,280.3 1434.3,280 1411.4,392.3 1337.9,378.1 1411.8,346.7 1463.9,394.1 1397.3,351.6 1562.6,204.5 1423.3,316.3 1477.8,253.5 1491.8,230.7 1389.6,358.4 1426.3,302.8 1530.1,387 1411.8,322.2 1369,387.1 1445.1,292.4 1355.1,394.6 1560,193.2 1365.1,365.7 1369,364.3 1507.3,230.7 1566.1,258.8 1570.5,207.9 1396.4,388.4 1418.4,332.8 1571.1,221.4 1403.1,309.2 1561.7,301 1470.9,384 1572.7,223.8 1363.4,378.5 1515.5,219.6 1359.8,380.1 1468.1,273.3 1544.8,383.3 1427.3,302.6 1444.6,271.9 1570.2,250.7 1399.8,383.6 1547.1,378.4 1361.5,371.4 1576.2,214.7 1532.4,216.3 1408.8,334.4 1569.4,261.8 1354.7,394.1 1400.3,316 1555.1,347.4 1410.9,313.4 1347.2,387.1 1573.5,244.5 1405.7,326.7 1519.7,206.7 1541.8,392.3 1577.1,233.9 1478.9,240.2 1361.9,377.2 1329.4,392.3 1574.4,210.8 1566.5,273.6 1402.7,309.5 1518.7,388.9 1415.3,386.9 1473.2,246.6 1571.2,240.2 1515.9,207.4 1502.8,386.3 1551.5,203.8 1569.6,208.2 1344,392.6 1319,391.9 1572.7,210.8 1572.5,277.5 1577.5,223.7 1559.3,208.5 1439.6,294.2 1493.6,233.4 1425.4,387 1378.7,386.2 1417.8,318.2 1475.2,253.7 1531.6,205.7 1359.8,370 1349.1,389.9 1545.3,359.3 1516.2,228.9 1379.7,362.3 1565.7,291.4 1439.4,388.4 1468.7,272.4 1324.1,391.5 1560,200.6 1513.1,222 1356.8,360.8 1529.7,224.4 1400,390.2 1540.3,204.1 1584.4,213.7 1569.4,208.4 1386.7,342.1 1363.3,360.5 1424.4,306.2 1424.6,302.9 1496.6,243 1430.5,305.7 1356.2,360.8 1577.7,238.6 1525.1,386.4 1374.2,345.2 1467,253.6 1383.6,329.4 1373.5,337 1578.3,219.3 1451.4,284.7 1535.2,387.4 1466.8,269.5 1568.2,283.1 1555.4,340.8 1541.2,378.9 1567.2,202.5 1577,231.2 1560.8,299 1549.3,347.4 1564,283.4 1400.4,302.9 1425.9,296.8 1576.5,207.3 1534.7,206.9 1398.2,384.8 1338.6,375.9 1399.1,334.5 1568.1,292.4 1557.4,319.7 1359.5,366.8 1575.3,292.3 1414.3,294.6 1562.7,282.3 1326.7,386.1 1388,336.7 1518.5,394.8 1424.4,288.7 1321.7,390.9 1363.5,348.9 1422.1,292.6 1563.6,334.4 1437.2,394.1 1368.4,354.7 1349.6,362 1404.5,332.2 1483.5,392.4 1400.6,356 1503.1,235.3 1396.9,384.4 1548.1,212.3 1550.9,194.1 1573,293.5 1352.8,359.4 1565.9,262.1 1566.9,218.7 1445,284.6 1528.5,201.5 1366.3,332.7 1569.4,309.9 1557.3,328.9 1351.4,359.8 1408.7,326.5 1311.2,391.7 1567.5,307.9 1553.9,367.1 1413.8,344.1 1558.8,343.6 1346.3,374.3 1440.2,295.9 1448.9,271.6 1363,351.2 1460.4,388.9 1441.4,291.7 1530.5,222.5 1409.6,391 1455.7,284.3 1562.5,200.7 1375.1,342.2 1408.6,347.7 1553.4,348.6 1540.6,193.4 1390.6,341.2 1535.5,219.4 1572,231.7 1419.4,294.4 1432.5,273.8 1442.6,384.1 1406.9,330.8 1414.3,309 1523.9,216.6 1493.8,250.5 1580.1,250.7 1580.8,249.6 1517,227.7 1547.5,352.6 1534.2,387.8 1396.1,321.2 1402.9,313.6 1419.4,296.8 1397.9,345.9 1357.2,381.2 1450.2,386.6 1393.7,393.9 1368,386.5 1560.5,213.3 1535.9,391.2 1391.9,388.3 1448,291.9 1578.5,255.4 1545.7,386.1 1418.8,297 1451.9,391.9 1471.9,389.1 1432.3,383.1 1420.1,392.3 1363.4,373.5 1373.9,387.8 1570.3,236.2 1531.9,217.3 1354.7,369.5 1424.2,273 1384.7,333.9 1506.6,225.2 1428.2,291.8 1343.3,388 1553.2,336.4 1468,251.2 1562.2,299.3 1506.2,390.9 1414.9,323.1 1401.4,295.9 1507.9,237.5 1499.4,234.7 1581.3,249.5 1413.7,316.7 1428.3,301.3 1352.7,382.3 1447.7,291.7 1415.9,320.3 1528,225.6 1474.4,251.8 1376.8,384.1 1570.7,284.6 1585.8,239 1372,384.5 1435.6,267.8 1393.5,333.6 1411.5,395 1431.5,286.4 1491.2,233.2 1568.2,238.2 1516.7,386.6 1479.5,246.8 1573.3,245.8 1568.2,210.2 1474.2,252.7 1498.5,239 1504.4,225.8 1531,385.8 1565.6,268.3 1558.1,201.9 1447.8,389.8 1543,368.3 1560.3,347.3 1561.8,309.2 1519.3,215.7 1558.4,198.5 1360.2,356.8 1579.8,254.8 1509.1,386.9 1548.3,371.3 1365.1,362 1411.6,337 1413,389.1 1578.3,255.2 1536.7,205.1 1336.2,384.1 1570.8,287.9 1412.2,315.5 1417,329.7 1431.6,295.5 1519.1,226.1 1563.9,346.4 1462.4,264.4 1432.2,299.9 1443.4,283.7 1579,259.9 1438.8,384.1 1398.5,341.1 1557.5,332.6 1547.8,383.7 1571.1,208.5 1468.3,393.2 1563.5,345 1519.9,228 1405.2,348.1 1504.2,224.5 1385.6,392.2 1577.2,231 1533.4,207.6 1567.2,211.1 1501.4,237.5 1510.3,388.5 1447.3,266.4 1385.4,384.7 1578.2,205.8 1566.8,269.2 1433.6,384.9 1447.4,274.4 1424,308 1569.4,259 1437,282.6 1528.3,389.2 1569.5,248.4 1344.4,368.2 1547.4,377.9 1408.8,314.2 1473,244 1438.4,264.9 1423.2,317.3 1472,255.1 1379,391.2 1377.7,365.7 1512.7,385.6 1470.2,246.2 1476.8,264.5 1387,391.5 1390.1,331.6 1465.2,270.5 1393.3,348.9 1527.4,209.8 1483.2,387 1416.6,384.9 1521.8,384.2 1543.3,391.2 1561.7,336.5 1541.3,210.8 1403.4,386.3 1567.1,305.4 1420.5,318.1 1365.7,333.5 1437.6,278.8 1328.7,387.7 1391.1,350.6 1583.6,233.5 1527.4,392.7 1464.1,276.4 1569.3,222.1 1538,208.6 1390.7,352.7 1570,213.9 1384.7,348.1 1518.2,386.2 1407.9,288.3 1427.1,293.2 1574.1,223.6 1395.5,350.8 1563.5,316.4 1541.8,212.9 1344.7,387.5 1443.1,384.5 1570.8,298.9 1568.1,264.7 1423.7,318.1 1561.1,318 1499.7,230.3 1465.7,266.6 1524.7,388.3 1562.5,282.7 1546,376.9 1336,375.2 1547.7,212.6 1402.6,390.4 1471.4,269.5 1358.7,368.4 1344.1,392.7 1485.5,252 1426.6,386.7 1362.4,337.8 1581,218.2 1385.3,329.7 1577.8,209.3 1444.9,390.4 1414.3,328.5 1582.2,257.6 1421.4,321.1 1560.1,323.4 1576,235.5 1458.5,245.6 1556.8,212.6 1358.2,363.6 1524,226.1 1576.2,224.9 1393.1,308.2 1528.8,218.2 1563.4,211.5 1552.5,342.6 1528.9,225.7 1555.2,335.3 1339.1,365.1 1572.9,230 1413.8,341.3 1472.4,256.1 1347.2,375.7 1423.6,281.3 1470,253.8 1558.8,321 1540.2,210.2 1548.8,203.5 1530.2,385.1 1435.5,384.7 1492.3,233.6 1527.8,217.3 1543.9,366.3 1421.1,316.8 1573.7,212.6 1548.9,350 1567.6,205.9 1386.3,355.3 1416,341.9 1404.4,338.1 1462.3,387.9 1572.5,262 1367.7,394 1336.6,377.7 1403.4,315.6 1557.5,322.1 1406.5,331.8 1349,371.8 1552.1,383.1 1535.4,212 1456.7,283.9 1356.7,358.2 1561.7,214.6 1408,317 1481.9,386.5 1364.1,352.7 1471.6,383.5 1523.8,385.8 1402.9,354.5 1505.2,388 1345.6,381.3 1547.8,370 1520.1,222.1 1325.1,391 1411.6,385.4 1496.2,387.1 1497.6,388.1 1413.4,316.1 1402.3,346 1416.8,329 1518.2,391 1449,290.4 1425.3,292.2 1561.5,211.5 1516.1,223.7 1575.2,253.3 1502.5,220.7 1569,237.4 1439.9,390.5 1492.7,236.2 1554.4,338.4 1455.2,277.8 1574.2,279.6 1415.4,320.6 1447.7,285.9 1521.6,216.9 1348,384.5 1510.5,223.8 1367,339.2 1569.3,234.5 1533.6,203.6 1575.8,274.9 1391.3,335 1374.7,365.8 1561.3,344.8 1566,208.7 1417.1,337 1327.3,373.2 1413.6,336.3 1553.7,338.2 1369.8,365.4 1391.4,354 1566,315.1 1542,391.3 1578.1,270.4 1438.1,279.7 1405.2,348.9 1394.1,341.4 1344,367.3 1485.1,255.2 1528.8,222.7 1467.3,266.4 1445.8,254.1 1563.8,318.3 1575.9,242.8 1449.8,386.8 1476.9,392 1371,390.9 1480.1,258.2 1555.7,193.1 1437.3,277.5 1413.2,385.2 1423.9,278.1 1386.5,355.4 1435.1,292.1 1378.7,350.4 1355.2,380.6 1581.5,244.9 1560,324 1464.2,388.2 1509.2,227.2 1507.6,217.4 1421.1,386.4 1460,278.6 1478.2,255.1 1371.1,391 1552.2,356.4 1428.4,288.9 1481.8,388.2 1566.1,209.8 1577.3,249.7 1487.9,385.6 1346.2,380.6 1454.9,268 1411.3,386.5 1341.3,366.4 1486.6,385 1497.8,385.4 1398.8,337.1 1483.5,244.5 1409,304 1355.8,357.3 1471.8,267.3 1353.2,348.3 1517.5,389 1416,328.6 1491,232.5 1422.3,314.4 1573.5,244.9 1461.2,251.8 1380.2,338.5 1576.4,249.3 1552.3,352.9 1496.3,236.6 1418.3,331.9 1445.6,281.9 1555.1,204.1 1416.9,314.5 1469.4,267.6 1363.5,347.1 1402.4,338.9 1460.4,260.6 1343.2,382.6 1430.7,305.9 1553.2,202 1509.8,232.7 1467.4,270.3 1565.7,214.2 1376.1,361.4 1547.1,387 1476.7,394.4 1464.3,275.3 1561.3,289.3 1565.9,323.8 1333.2,381.4 1448.5,258.1 1401.9,352.9 1566.6,208 1532.7,211 1434.3,289 1562.7,304.4 1424.3,393.6 1519.8,386.9 1483,238.1 1545.1,209.6 1414.3,342.7 1520.8,384.4 1384.5,308.3 1503.3,232.9 1548,353 1566.6,304.5 1565.6,319.6 1424,305.7 1551.9,382.2 1494.3,229.2 1562.2,289.4 1511.9,219.3 1497.3,386.8 1568.8,203.7 1546.4,383.6 1406.9,388.3 1457.5,277.1 1376.5,366.6 1481.4,242.7 1422.1,317.9 1544,365.6 1380.9,355.4 1416.6,339.6 1502.6,241 1477,392.1 1564.8,281.2 1565.6,306.3 1387.3,387.1 1522.7,220.4 1569.8,258.8 1366.4,388.2 1499.1,242.6 1415.5,329.2 1454.7,269.4 1453.3,266.2 1447.9,274.3 1502.6,229 1420.7,386.7 1380.1,364 1421.6,296.5 1569.2,231.8 1455,284.8 1383.4,353.8 1575.8,201.5 1568.3,209 1545.8,367.8 1460.4,257.3 1350,391.7 1336.8,383.2 1567.3,325 1401.1,324.2 1371.9,338.9 1424.2,314 1420.4,304.5 1422.9,298.3 1534.4,206.3 1535.4,392.8 1348.1,364 1360.8,382.4 1375.9,392.5 1547.5,363.8 1549.5,367 1454.1,387.5 1471.7,260.8 1511.5,385.3 1525.5,384.6 1395,388.5 1519.4,388.1 1386.9,332 1354.9,360.6 1519.5,229.5 1401,341.5 1473.4,267.1 1455.2,281.8 1364,344.8 1566.2,265.6 1343.3,391.9 1402.7,294.4 1428.8,296.4 1552,347.3 1508.6,228.2 1563.1,331.2 1420.2,392.6 1422.3,387.1 1369.8,390.1 1482.3,388 1476.4,394.6 1573.7,253.7 1356,356 1554.7,359.4 1469,255.1 1388.8,344 1381.8,389.4 1522.1,389 1576,235.1 1500.6,386.2 1392.2,388.6 1411.9,283.6 1494.5,389.1 1455.8,392.3 1539.6,208.8 1429.8,385.9 1567.7,253.2 1373.1,353.9 1514.2,223.1 1555.2,339.8 1359.8,387.4 1563.2,197.9 1461.6,391.4 1443,281.9 1423.1,285.1 1528,388.3 1348.1,361.5 1572.6,311 1410.6,313.8 1524.9,217.8 1499.3,393 1366.6,365.6 1374.8,348.6 1496.4,391.2 1576.2,233.9 1561.4,296.8 1473.9,260.2 1411.5,338.8 1346.6,364.5 1422.6,309.6 1505.4,240.2 1559.8,311.2 1548,385 1413.5,344.1 1553,348.5 1457.6,387 1577.8,251.7 1350.9,365 1384.3,344.2 1367.3,368.1 1503.1,224.4 1523.6,387 1367.6,389.5 1569.2,238.8 1400,344.2 1436.5,297.7 1429.5,390.4 1373.2,364.6 1476,248 1568.8,264 1570.9,262.2 1468.7,273.9 1457.6,283 1577.8,219.4 1477,237.9 1523,227.8 1411.9,384 1433,282.7 1509.8,221.5 1358.5,379.7 1357.3,363.9 1525.8,384.2 1470,245.7 1405.2,384.9 1553.5,344 1327.6,395 1497.6,235.3 1485.4,385.3 1491.5,244 1444.5,280.3 1435.5,390.2 1463.5,260.5 1362.6,377.5 1424.8,310.7 1543.6,379.5 1372.3,331.1 1467.4,269.5 1572.2,260.1 1488.2,252.7 1548,209.3 1398.2,344 1553.4,348.2 1350.4,384.2 1459,385 1372.4,385.7 1500.7,242.2 1429.7,286.5 1391.9,359.9 1377.2,358.8 1361.6,387.6 1448.7,268.8 1575.6,249.5 1568.8,203.4 1490.6,250.3 1383.4,329.8 1435.4,298.1 1322.7,380 1549.1,199.7 1336.5,387.9 1457.3,260.4 1349.3,368.1 1578.3,206.7 1506.1,230.8 1553.5,206.9 1583.7,228.1 1426.5,309.1 1489.9,384.6 1545.8,204.1 1376.9,387.6 1565.8,272.7 1520.9,214.2 1392.4,351.6 1430.4,289.3 1448.1,386.8 1531.7,218.7 1555.5,331.2 1479.9,392.6 1358.8,392.9 1559.3,205.7 1405.4,304.1 1566.9,293.6 1431,293.9 1541.9,381.3 1442.1,288.9 1580.9,252.1 1345.1,351.9 1495.2,245.3 1567.8,275.4 1498.3,243 1390.1,328.4 1352.5,389 1468.8,390.2 1460.4,278.7 1425.6,310.9 1343.5,355.4 1474.1,251.1 1518.9,387.1 1404.9,306.6 1472.2,384.4 1519.1,384.8 1412.7,339.9 1415.9,319.2 1393.5,348.9 1560.7,299.5 1570.9,208.5 1542.1,378.9 1414.4,341.4 1357.5,337.2 1413.1,333.7 1426.7,288.9 1575.1,203.1 1412.7,333.9 1410.6,332.7 1430.8,283.8 1389.6,384.5 1496,244.1 1323.2,391.6 1573.2,206.5 1565.8,316.1 1563.4,317.8 1554.2,343" fill="none" marker-start="url(#mh)" marker-mid="url(#mh)" marker-end="url(#mh)"/>
<path fill="#1f77b4" filter="url(#bl)" d="M1547.8,204.5 1551.5,204.5 1557.5,205.1 1564.5,206.5 1568.5,208.5 1571.8,211.5 1574.6,215.5 1576.2,219.5 1576.6,223.5 1576.7,230.5 1577,236.5 1576.5,242.5 1575.2,254.5 1571.3,275.5 1569.9,286.5 1568.3,299.5 1567.5,305.7 1566.2,314.5 1565.7,321.5 1561.4,339.5 1558.3,345.5 1555.5,354.8 1553,361.5 1551.3,366.5 1549.5,374.6 1548.9,381.5 1548.2,383.5 1542.5,390.4 1540.2,391.5 1523.5,392.3 1512.5,392.1 1504.9,391.5 1477.5,392.2 1472.1,391.5 1460.5,391.8 1447.5,392.3 1436.5,391.8 1432.5,391.4 1418.5,392.1 1402.5,392.2 1390.5,391.6 1379.5,392.1 1365.5,392.2 1363,391.5 1360.3,388.5 1353.9,371.5 1353.6,369.5 1355,367.5 1359.5,364.2 1364.5,361.5 1375.5,357.4 1391.5,350.3 1396.5,348.3 1402.5,345 1404.5,343.5 1406.8,340.5 1410.7,333.5 1411.5,327.3 1412.5,322.5 1414.5,317.4 1417.9,311.5 1421.7,306.5 1423.5,302.5 1426.5,298.1 1429.5,295.1 1444.5,284 1446.5,281.5 1462.1,268.5 1467.5,263.2 1470.9,260.5 1473.8,258.5 1484.5,247.3 1487.5,245 1489.5,242.2 1494.5,237.4 1499.5,233.6 1504.6,230.5 1510.5,226.7 1518.6,221.5 1525.5,216.9 1531,212.5 1539.5,206.9 1543.5,205.3 1547.8,204.5Z"/>
<path fill="#1f77b4" d="M1314.5,388.6 1552.5,388.6 1552.5,388.6 1554.6,389 1556.4,390.2 1557.6,392 1558,394.1 1557.6,396.2 1556.4,398 1554.6,399.2 1552.5,399.6 1551.5,399.4 1550,399.4 1548.5,399.4 1547,399.3 1545.5,398.5 1544,398.3 1542.5,398.4 1541,398.4 1539.5,398.3 1538,398.2 1536.5,398.3 1535,398.5 1533.5,398.6 1532,398.9 1530.5,399 1529,399.3 1527.5,399 1526,398.7 1524.5,398.3 1523,398.2 1521.5,398.3 1520,398.3 1518.5,398.3 1517,398.2 1515.5,398.3 1514,398.3 1512.5,398.7 1511,398.8 1509.5,399.6 1508,399.4 1506.5,399.2 1505,398.9 1503.5,398.5 1502,398.5 1500.5,398.5 1499,398.2 1497.5,398.6 1496,398.2 1494.5,398.2 1493,398.8 1491.5,399.2 1490,399.3 1488.5,399.4 1487,399.1 1485.5,398.7 1484,398.6 1482.5,398.3 1481,398.1 1479.5,398.3 1478,398.4 1476.5,398.6 1475,399.3 1473.5,399.1 1472,399.1 1470.5,399.3 1469,398.7 1467.5,398.2 1466,398.4 1464.5,398.4 1463,398.3 1461.5,398.7 1460,398.6 1458.5,399 1457,399.3 1455.5,399 1454,399.4 1452.5,399.2 1451,398.8 1449.5,398.5 1448,398.4 1446.5,398.2 1445,398.4 1443.5,398.6 1442,398.9 1440.5,399.4 1439,399.1 1437.5,399.1 1436,399.1 1434.5,398.9 1433,398.4 1431.5,398.4 1430,398.3 1428.5,398.1 1427,398.1 1425.5,398.4 1424,398.6 1422.5,399.1 1421,399.2 1419.5,399.4 1418,398.7 1416.5,398.5 1415,398.6 1413.5,398.4 1412,398.3 1410.5,398.3 1409,398.4 1407.5,398.6 1406,398.5 1404.5,398.9 1403,399 1401.5,399.5 1400,399.4 1398.5,399.2 1397,398.7 1395.5,398.8 1394,398.3 1392.5,398.2 1391,398.2 1389.5,398.3 1388,398.4 1386.5,399.2 1385,399.4 1383.5,399.1 1382,398.9 1380.5,398.5 1379,398.3 1377.5,398.2 1376,398.2 1374.5,398.2 1373,398.3 1371.5,398.2 1370,398.5 1368.5,398.4 1367,398.4 1365.5,398.9 1364,399.4 1362.5,398.8 1361,398.4 1359.5,398.5 1358,398.2 1356.5,398.3 1355,398.6 1353.5,398.7 1352,399.1 1350.5,398.7 1349,398.5 1347.5,399.1 1346,399.1 1344.5,399 1343,398.7 1341.5,398.4 1340,398.5 1338.5,398.2 1337,398.2 1335.5,398.4 1334,398.4 1332.5,398.6 1331,398.7 1329.5,399.1 1328,399.5 1326.5,398.9 1325,398.5 1323.5,398.4 1322,398.1 1320.5,398.3 1319,398.5 1317.5,398.5 1316,398.7 1314.5,399.3 1314.5,399.6 1312.4,399.2 1310.6,398 1309.4,396.2 1309,394.1 1309.4,392 1310.6,390.2 1312.4,389 1314.5,388.6Z"/>
</g>

<g stroke="#000" stroke-width="1.11" fill="none">
<path d="M92.5 415.5L92.5 420.86M153.5 415.5L153.5 420.86M214.5 415.5L214.5 420.86M276.5 415.5L276.5 420.86M337.5 415.5L337.5 420.86M398.5 415.5L398.5 420.86M496.5 415.5L496.5 420.86M558.5 415.5L558.5 420.86M619.5 415.5L619.5 420.86M680.5 415.5L680.5 420.86M741.5 415.5L741.5 420.86M803.5 415.5L803.5 420.86M894.5 415.5L894.5 420.86M937.5 415.5L937.5 420.86M980.5 415.5L980.5 420.86M1023.5 415.5L1023.5 420.86M1065.5 415.5L1065.5 420.86M1108.5 415.5L1108.5 420.86M1151.5 415.5L1151.5 420.86M1193.5 415.5L1193.5 420.86M1330.5 415.5L1330.5 420.86M1380.5 415.5L1380.5 420.86M1430.5 415.5L1430.5 420.86M1480.5 415.5L1480.5 420.86M1530.5 415.5L1530.5 420.86M1579.5 415.5L1579.5 420.86M476.14 395.5L481.5 395.5M476.14 342.5L481.5 342.5M476.14 289.5L481.5 289.5M476.14 236.5L481.5 236.5M476.14 183.5L481.5 183.5M476.14 130.5L481.5 130.5M476.14 77.5L481.5 77.5M880.14 377.5L885.5 377.5M880.14 300.5L885.5 300.5M880.14 222.5L885.5 222.5M880.14 145.5L885.5 145.5M880.14 67.5L885.5 67.5M1285.14 402.5L1290.5 402.5M1285.14 351.5L1290.5 351.5M1285.14 300.5L1290.5 300.5M1285.14 249.5L1290.5 249.5M1285.14 197.5L1290.5 197.5M1285.14 146.5L1290.5 146.5M1285.14 95.5L1290.5 95.5M1285.14 44.5L1290.5 44.5M72.14 50.5L77.5 50.5"/>
</g>
<path stroke="#000" stroke-width="0.83" fill="none" d="M74.22 330.5L77.5 330.5M74.22 260.5L77.5 260.5M74.22 210.5L77.5 210.5M74.22 171.5L77.5 171.5M74.22 139.5L77.5 139.5M74.22 112.5L77.5 112.5M74.22 89.5L77.5 89.5M74.22 69.5L77.5 69.5"/>
<g stroke="#000" stroke-width="1.11" fill="none" stroke-linecap="square" stroke-linejoin="miter">
<rect x="77.5" y="30.5" width="337" height="385"/>
<rect x="481.5" y="30.5" width="337" height="385"/>
<rect x="885.5" y="30.5" width="337" height="385"/>
<rect x="1290.5" y="30.5" width="337" height="385"/>
</g>
<g font-size="13.89" text-anchor="middle">
<text x="91.92" y="436">0</text>
<text x="153.19" y="436">2000</text>
<text x="214.46" y="436">4000</text>
<text x="275.73" y="436">6000</text>
<text x="337" y="436">8000</text>
<text x="398.28" y="436">10000</text>
<text x="496.26" y="436">0</text>
<text x="557.54" y="436">2000</text>
<text x="618.81" y="436">4000</text>
<text x="680.08" y="436">6000</text>
<text x="741.35" y="436">8000</text>
<text x="802.62" y="436">10000</text>
<text x="894.47" y="436">−0.8</text>
<text x="937.18" y="436">−0.6</text>
<text x="979.88" y="436">−0.4</text>
<text x="1022.59" y="436">−0.2</text>
<text x="1065.3" y="436">0.0</text>
<text x="1108.01" y="436">0.2</text>
<text x="1150.72" y="436">0.4</text>
<text x="1193.42" y="436">0.6</text>
<text x="1330.4" y="436">5</text>
<text x="1380.2" y="436">10</text>
<text x="1430" y="436">15</text>
<text x="1479.8" y="436">20</text>
<text x="1529.6" y="436">25</text>
<text x="1579.4" y="436">30</text>
</g>
<g font-size="13.89" text-anchor="end">
<text x="471.23" y="401.98">−0.1</text>
<text x="471.23" y="348.98">0.0</text>
<text x="471.23" y="295.98">0.1</text>
<text x="471.23" y="242.98">0.2</text>
<text x="471.23" y="189.98">0.3</text>
<text x="471.23" y="136.98">0.4</text>
<text x="471.23" y="83.98">0.5</text>
<text x="875.57" y="383.78">−2</text>
<text x="875.57" y="306.28">−1</text>
<text x="875.57" y="228.78">0</text>
<text x="875.57" y="151.28">1</text>
<text x="875.57" y="73.78">2</text>
<text x="1279.92" y="408.78">0</text>
<text x="1279.92" y="357.63">10</text>
<text x="1279.92" y="306.48">20</text>
<text x="1279.92" y="255.33">30</text>
<text x="1279.92" y="204.18">40</text>
<text x="1279.92" y="153.03">50</text>
<text x="1279.92" y="101.88">60</text>
<text x="1279.92" y="50.73">70</text>
</g>
<g font-size="13.89">
<text x="42.71" y="56.88">1</text>
<text x="51.55" y="56.88">0</text>
<text x="60.52" y="52.46" font-size="9.72">0</text>
<text x="10.91" y="336.82">2</text>
<text x="22.45" y="336.82">×</text>
<text x="36.79" y="336.82">1</text>
<text x="45.63" y="336.82">0</text>
<text x="54.6" y="332.4" font-size="9.72">−</text>
<text x="62.74" y="332.4" font-size="9.72">1</text>
<text x="10.91" y="266.29">3</text>
<text x="22.45" y="266.29">×</text>
<text x="36.79" y="266.29">1</text>
<text x="45.63" y="266.29">0</text>
<text x="54.6" y="261.87" font-size="9.72">−</text>
<text x="62.74" y="261.87" font-size="9.72">1</text>
<text x="10.91" y="216.25">4</text>
<text x="22.45" y="216.25">×</text>
<text x="36.79" y="216.25">1</text>
<text x="45.63" y="216.25">0</text>
<text x="54.6" y="211.84" font-size="9.72">−</text>
<text x="62.74" y="211.84" font-size="9.72">1</text>
<text x="10.91" y="145.73">6</text>
<text x="22.45" y="145.73">×</text>
<text x="36.79" y="145.73">1</text>
<text x="45.63" y="145.73">0</text>
<text x="54.6" y="141.31" font-size="9.72">−</text>
<text x="62.74" y="141.31" font-size="9.72">1</text>
</g>
<g font-size="16.67" text-anchor="middle">
<text x="245.08" y="22.17">Loss</text>
<text x="649.43" y="22.17">Pearson Corr</text>
<text x="1053.77" y="22.17">slope: 1.0009, r_value: 0.5202</text>
<text x="1458.12" y="22.17">Tree height, slope: 0.9431, r_value: 0.5212</text>
</g>
<g font-size="13.89" text-anchor="middle">
<text x="1053.77" y="455.87">Prediction</text>
<text x="1458.12" y="455.87">Pred height</text>
<text transform="translate(846.65 222.8) rotate(-90)">True</text>
<text transform="translate(1253.8 222.8) rotate(-90)">True height</text>
</g>
<rect x="324.29" y="37.24" width="83.23" height="45.84" rx="2.78" fill="#fff" stroke="#ccc" stroke-width="1.39" opacity="0.8"/>
<path d="M329 48H358.2" stroke="#1f77b4" stroke-width="2.08" stroke-linecap="butt"/>
<path d="M329 69H358.2" stroke="#ff7f0e" stroke-width="2.08" stroke-linecap="butt"/>
<g font-size="13.89">
<text x="368.73" y="53.65">train</text>
<text x="368.73" y="74.04">val</text>
</g>
</svg></body></html>
